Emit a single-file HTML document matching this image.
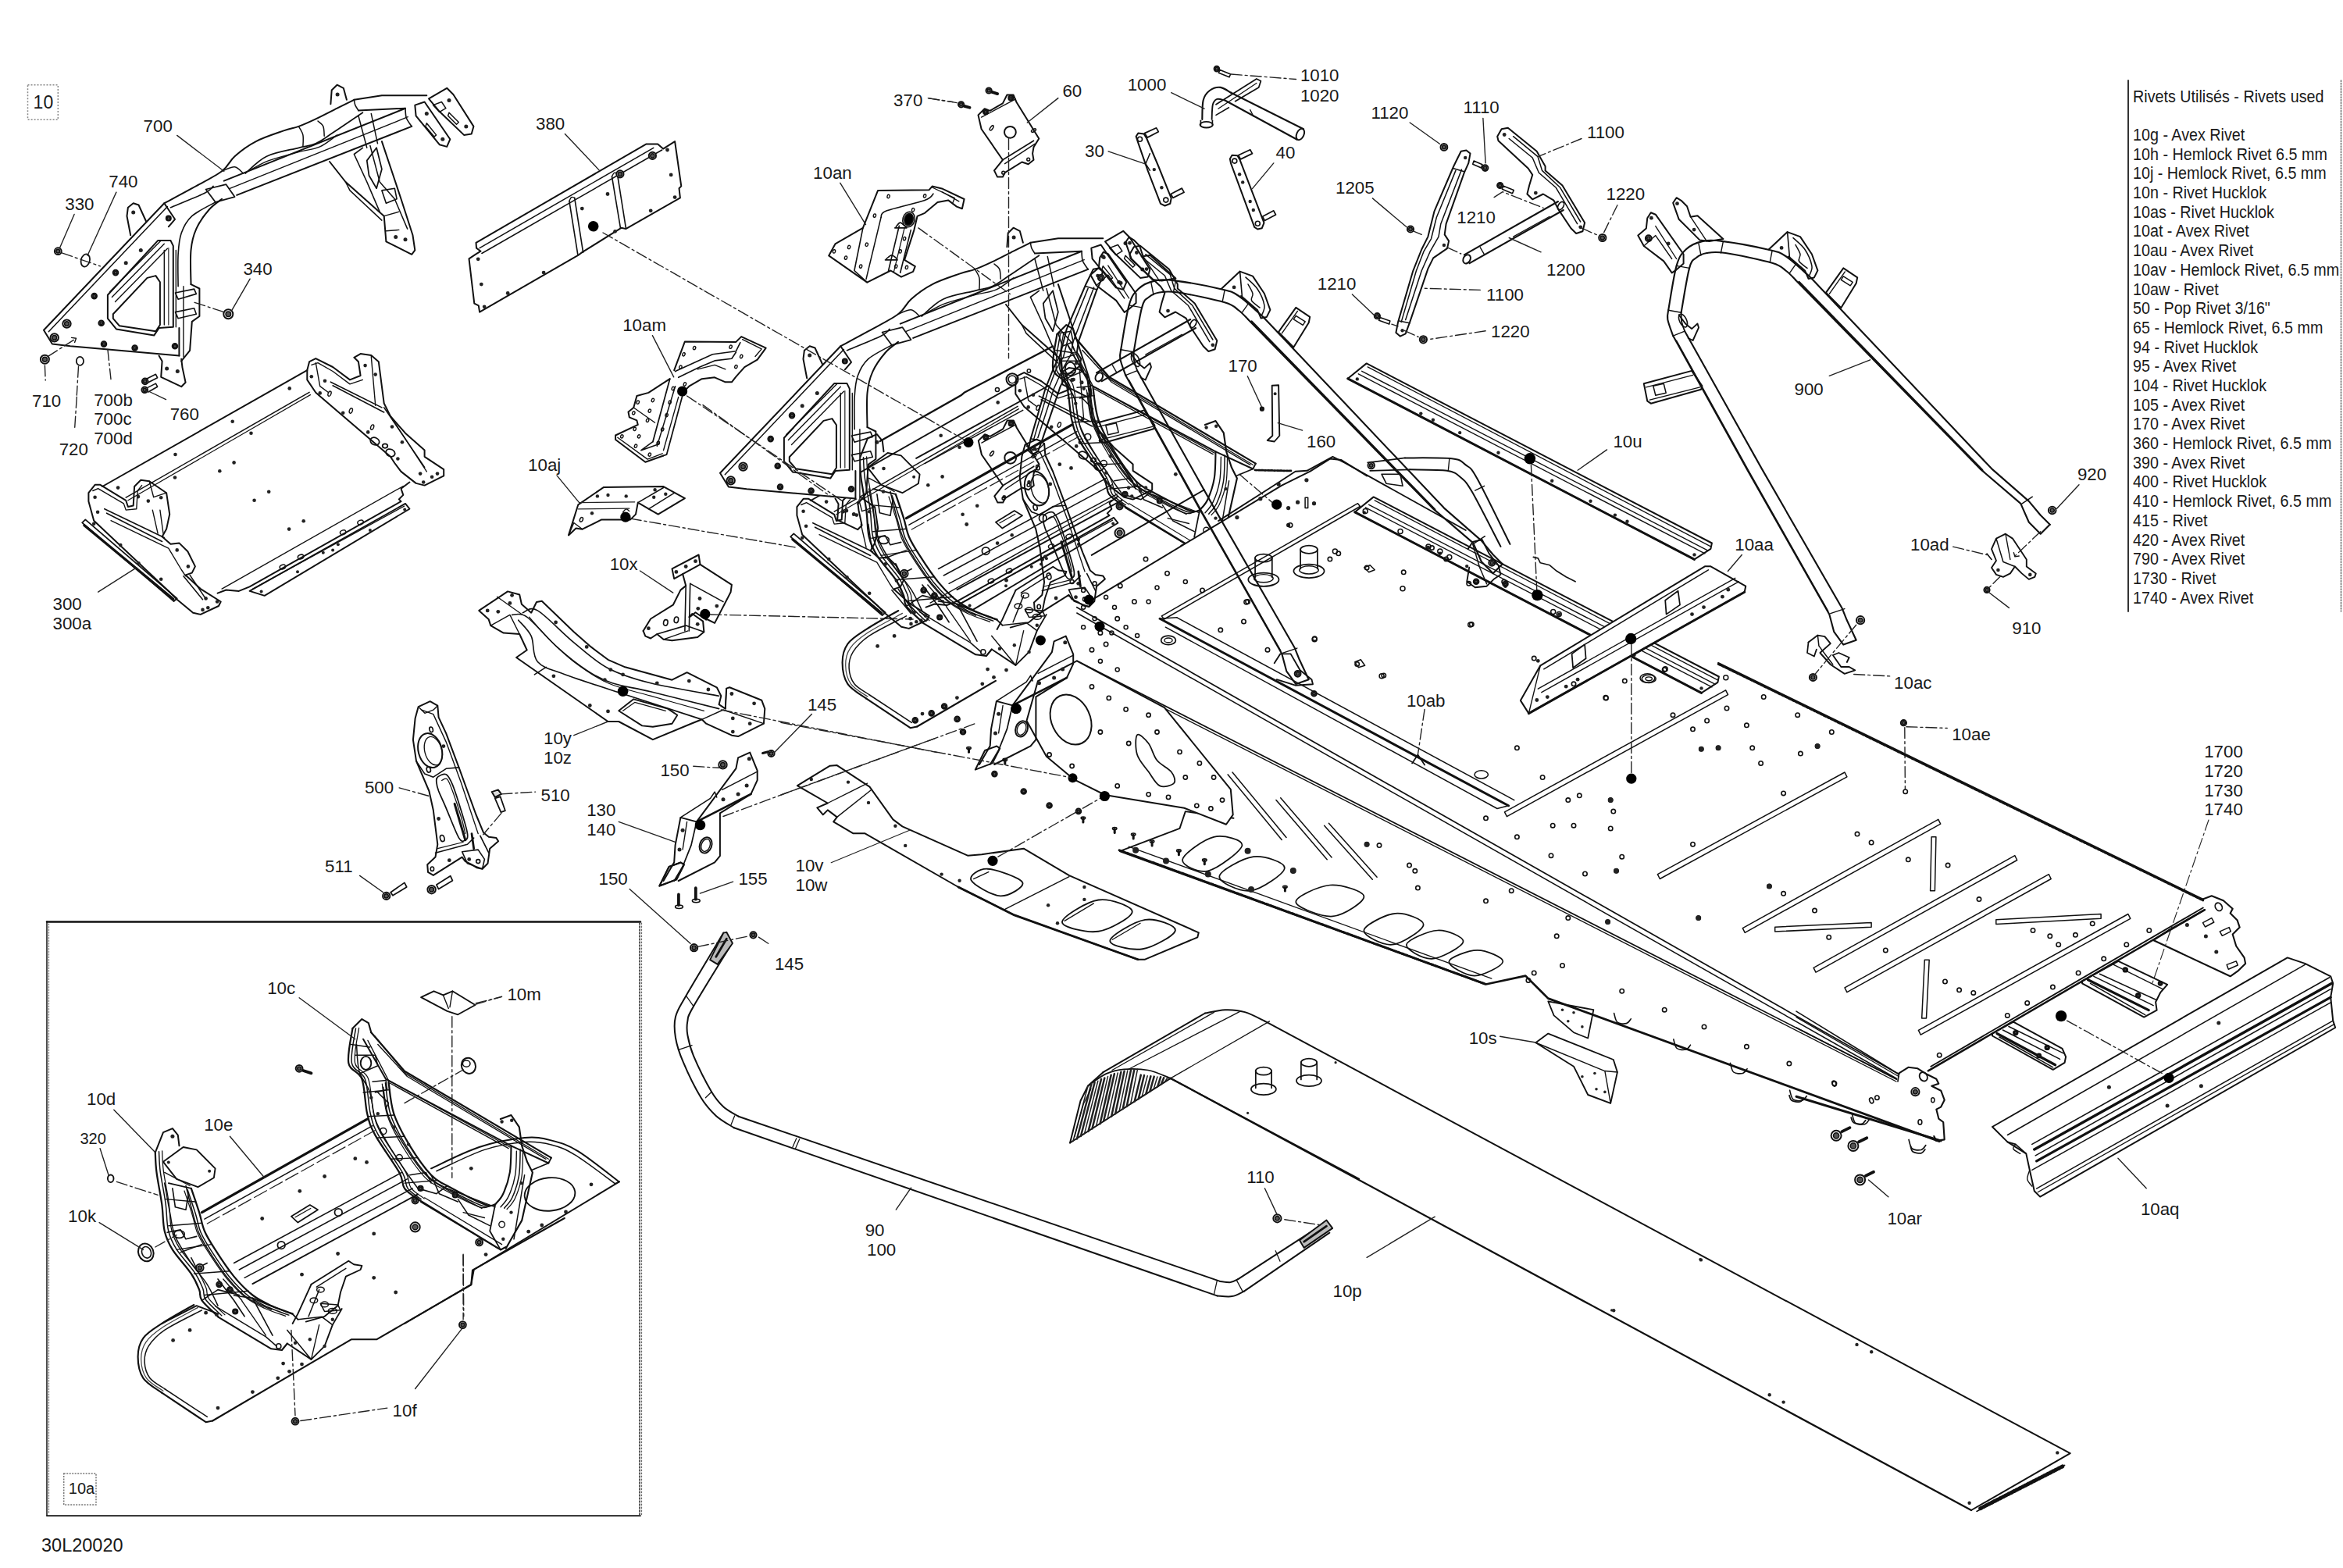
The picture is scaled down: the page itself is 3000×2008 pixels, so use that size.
<!DOCTYPE html>
<html><head><meta charset="utf-8"><title>30L20020</title>
<style>html,body{margin:0;padding:0;background:#fff}svg{display:block}
text{font-family:"Liberation Sans",sans-serif;fill:#1a1a1a}
path,circle,ellipse{stroke-linejoin:round;stroke-linecap:round}</style></head>
<body><svg width="3000" height="2008" viewBox="0 0 3000 2008">
<rect width="3000" height="2008" fill="#fff"/>
<rect x="35.5" y="108.7" width="38.8" height="44.5" fill="none" stroke="#888" stroke-width="1.50" stroke-dasharray="2 2"/>
<path d="M229.4 455.6 L90.1 443.3 L66.9 440.6 L56.0 422.8 L210.3 260.3 L224.0 280.8 L228.1 325.8 L228.1 366.8 L234.9 366.8 L234.9 456.9 Z" fill="#fff" stroke="#fff" stroke-width="0.12"/>
<path d="M229.4 455.6 L90.1 443.3 L66.9 440.6 L56.0 422.8 L210.3 260.3 L224.0 280.8 L215.8 290.3" fill="none" stroke="#111" stroke-width="2.00"/>
<path d="M62.3 424.7 L214.4 264.6" fill="none" stroke="#111" stroke-width="1.50"/>
<path d="M137.9 377.7 L202.1 308.1 L218.5 308.1 L221.8 314.9 L221.8 418.7 L203.5 420.1 L197.2 429.6 L148.9 421.4 L137.9 407.8 Z" fill="none" stroke="#111" stroke-width="2.00"/>
<path d="M144.8 402.3 L188.5 355.9 L199.4 353.1 L204.9 361.3 L204.9 416.0 L199.4 424.2 L153.0 417.3 L144.8 407.8 Z" fill="none" stroke="#111" stroke-width="2.00"/>
<path d="M140.7 373.6 L206.2 308.1" fill="none" stroke="#111" stroke-width="1.38"/>
<path d="M143.4 380.5 L210.3 312.2" fill="none" stroke="#111" stroke-width="1.38"/>
<path d="M147.5 386.5 L214.4 318.2" fill="none" stroke="#111" stroke-width="1.38"/>
<path d="M210.3 320.4 L210.3 416.0" fill="none" stroke="#111" stroke-width="1.38"/>
<path d="M215.8 317.6 L215.8 416.0" fill="none" stroke="#444" stroke-width="1.38"/>
<path d="M225.3 320.4 L225.3 418.7" fill="none" stroke="#111" stroke-width="1.38"/>
<path d="M229.4 420.1 L229.4 455.6" fill="none" stroke="#111" stroke-width="2.00"/>
<path d="M284.1 254.8 C281.3 257.1 273.1 262.1 267.7 268.5 C262.2 274.8 255.2 284.4 251.3 293.1 C247.4 301.7 245.6 308.5 244.5 320.4 C243.3 332.2 244.5 356.8 244.5 364.1" fill="none" stroke="#111" stroke-width="2.00"/>
<path d="M244.5 364.1 L255.4 369.5 L255.4 405.0 L245.8 411.9 L243.1 448.8 L232.2 462.4" fill="none" stroke="#111" stroke-width="2.00"/>
<path d="M275.9 258.9 C270.9 261.9 253.1 270.1 245.8 276.7 C238.6 283.3 235.1 290.3 232.2 298.5 C229.2 306.7 228.8 314.5 228.1 325.8 C227.4 337.2 228.1 360.0 228.1 366.8" fill="none" stroke="#111" stroke-width="1.62"/>
<path d="M234.9 366.8 L234.9 456.9" fill="none" stroke="#111" stroke-width="1.38"/>
<path d="M203.5 455.6 L207.6 462.4 L206.2 482.9 L232.2 495.2 L237.6 489.7 L233.5 470.6 L232.2 459.7" fill="none" stroke="#111" stroke-width="2.00"/>
<circle cx="213.6" cy="472.0" r="2.5" fill="#222"/>
<circle cx="227.3" cy="475.5" r="2.5" fill="#222"/>
<path d="M167.2 301.3 L162.5 276.7 L163.9 265.7 L170.7 260.3 L177.5 262.5 L187.1 283.5" fill="none" stroke="#111" stroke-width="2.00"/>
<circle cx="170.7" cy="272.0" r="2.5" fill="#222"/>
<path d="M224.5 375.0 L248.6 370.1 L251.3 376.4 L228.1 383.2 Z" fill="none" stroke="#111" stroke-width="1.62"/>
<path d="M224.5 399.6 L248.6 394.7 L251.3 402.3 L228.1 407.8 Z" fill="none" stroke="#111" stroke-width="1.62"/>
<circle cx="215.8" cy="279.4" r="3.0" fill="#fff" stroke="#111" stroke-width="2.00"/>
<circle cx="215.8" cy="279.4" r="1.7" fill="#555" stroke="#111" stroke-width="1.50"/>
<circle cx="148.0" cy="349.1" r="3.3" fill="#fff" stroke="#111" stroke-width="2.00"/>
<circle cx="148.0" cy="349.1" r="1.8" fill="#555" stroke="#111" stroke-width="1.50"/>
<circle cx="120.7" cy="379.1" r="3.3" fill="#fff" stroke="#111" stroke-width="2.00"/>
<circle cx="120.7" cy="379.1" r="1.8" fill="#555" stroke="#111" stroke-width="1.50"/>
<circle cx="85.5" cy="414.6" r="5.2" fill="#fff" stroke="#111" stroke-width="2.00"/>
<circle cx="85.5" cy="414.6" r="2.9" fill="#555" stroke="#111" stroke-width="1.50"/>
<circle cx="69.7" cy="432.4" r="5.2" fill="#fff" stroke="#111" stroke-width="2.00"/>
<circle cx="69.7" cy="432.4" r="2.9" fill="#555" stroke="#111" stroke-width="1.50"/>
<circle cx="129.7" cy="413.8" r="3.3" fill="#fff" stroke="#111" stroke-width="2.00"/>
<circle cx="129.7" cy="413.8" r="1.8" fill="#555" stroke="#111" stroke-width="1.50"/>
<circle cx="133.0" cy="440.6" r="3.3" fill="#fff" stroke="#111" stroke-width="2.00"/>
<circle cx="133.0" cy="440.6" r="1.8" fill="#555" stroke="#111" stroke-width="1.50"/>
<circle cx="172.6" cy="445.5" r="3.3" fill="#fff" stroke="#111" stroke-width="2.00"/>
<circle cx="172.6" cy="445.5" r="1.8" fill="#555" stroke="#111" stroke-width="1.50"/>
<circle cx="224.0" cy="443.3" r="3.3" fill="#fff" stroke="#111" stroke-width="2.00"/>
<circle cx="224.0" cy="443.3" r="1.8" fill="#555" stroke="#111" stroke-width="1.50"/>
<circle cx="180.3" cy="320.4" r="2.5" fill="#222"/>
<circle cx="161.2" cy="336.8" r="2.5" fill="#222"/>
<path d="M286.8 231.6 L519.0 138.7" fill="none" stroke="#111" stroke-width="2.00"/>
<path d="M303.2 249.9 L527.2 161.9" fill="none" stroke="#111" stroke-width="2.00"/>
<path d="M293.6 241.7 L522.3 149.7" fill="none" stroke="#111" stroke-width="1.38"/>
<path d="M263.6 242.5 L289.5 236.2 L300.5 252.1 L275.9 258.9 Z" fill="none" stroke="#111" stroke-width="1.75"/>
<path d="M210.3 260.3 C216.2 257.1 233.5 248.0 245.8 241.2 C258.1 234.3 275.0 226.1 284.1 219.3 C293.2 212.5 293.2 206.6 300.5 200.2 C307.7 193.8 317.3 186.5 327.8 181.1 C338.3 175.6 354.2 170.6 363.3 167.4 C372.4 164.2 375.6 164.4 382.4 161.9 C389.2 159.4 396.1 156.3 404.3 152.4 C412.5 148.5 423.4 142.8 431.6 138.7 C439.8 134.6 449.8 129.6 453.4 127.8" fill="none" stroke="#111" stroke-width="2.00"/>
<path d="M218.5 265.7 C225.8 262.6 253.1 251.7 262.2 247.2 C271.3 242.6 271.3 239.9 273.1 238.4" fill="none" stroke="#111" stroke-width="1.62"/>
<path d="M314.1 222.0 C318.7 218.4 330.1 205.6 341.4 200.2 C352.8 194.7 371.9 192.0 382.4 189.3 C392.9 186.5 397.0 187.0 404.3 183.8 C411.5 180.6 416.1 176.7 426.1 170.1 C436.1 163.5 458.0 148.5 464.4 144.2" fill="none" stroke="#111" stroke-width="1.75"/>
<path d="M322.3 216.6 C326.0 214.8 334.2 209.3 344.2 205.6 C354.2 202.0 371.5 197.7 382.4 194.7 C393.3 191.8 401.5 191.5 409.7 187.9 C417.9 184.3 427.9 175.4 431.6 172.9" fill="none" stroke="#111" stroke-width="1.38"/>
<path d="M284.1 219.3 C286.8 218.4 295.9 213.4 300.5 213.8 C305.0 214.3 309.6 220.7 311.4 222.0" fill="none" stroke="#111" stroke-width="1.50"/>
<path d="M382.4 161.9 C383.3 163.8 387.0 168.5 387.9 172.9 C388.8 177.2 387.9 185.4 387.9 187.9" fill="none" stroke="#111" stroke-width="1.50"/>
<path d="M407.0 155.1 C408.1 156.3 412.5 158.8 413.8 161.9 C415.2 165.1 415.0 172.2 415.2 174.2" fill="none" stroke="#111" stroke-width="1.50"/>
<path d="M453.4 127.8 L488.9 122.3 L546.3 122.3" fill="none" stroke="#111" stroke-width="2.00"/>
<path d="M458.9 141.5 L519.0 138.7" fill="none" stroke="#111" stroke-width="2.00"/>
<path d="M453.4 127.8 C453.7 128.9 453.9 132.4 454.8 134.6 C455.7 136.9 458.2 140.3 458.9 141.5" fill="none" stroke="#111" stroke-width="1.50"/>
<path d="M423.4 133.3 L424.7 115.5 L431.6 108.7 L439.8 112.8 L443.9 127.8" fill="none" stroke="#111" stroke-width="2.00"/>
<circle cx="432.1" cy="121.0" r="2.5" fill="#222"/>
<path d="M531.3 134.6 L543.6 130.5 L576.3 178.3 L572.2 187.9 L562.7 185.2 L532.6 148.3 Z" fill="none" stroke="#111" stroke-width="2.00"/>
<path d="M549.0 126.4 L572.2 112.8 L580.4 121.0 L606.4 161.9 L603.7 171.5 L594.1 172.9 L562.7 142.8 Z" fill="none" stroke="#111" stroke-width="2.00"/>
<path d="M554.5 134.6 L565.4 130.5 L570.9 138.7 L562.7 143.4 Z" fill="none" stroke="#111" stroke-width="1.50"/>
<path d="M575.0 144.2 L587.3 156.5 L584.5 159.2 L573.6 148.3 Z" fill="none" stroke="#111" stroke-width="1.50"/>
<path d="M546.3 157.8 L558.6 172.9 L555.9 175.1 L544.9 161.9 Z" fill="none" stroke="#111" stroke-width="1.50"/>
<circle cx="546.3" cy="145.6" r="2.5" fill="#222"/>
<circle cx="566.8" cy="178.3" r="2.5" fill="#222"/>
<circle cx="575.0" cy="128.6" r="2.5" fill="#222"/>
<circle cx="596.8" cy="161.9" r="2.5" fill="#222"/>
<path d="M519.0 138.7 C519.2 140.8 519.0 147.1 520.3 151.0 C521.7 154.9 526.0 160.1 527.2 161.9" fill="none" stroke="#111" stroke-width="1.62"/>
<path d="M422.0 207.0 L442.5 233.0 L491.7 276.7 L494.4 309.4 L527.2 325.8 L531.3 320.4 L528.5 301.3 L513.5 254.8 L502.6 222.0 L488.9 181.1" fill="none" stroke="#111" stroke-width="2.00"/>
<path d="M442.5 233.0 L448.0 243.9 L488.9 282.1" fill="none" stroke="#111" stroke-width="1.50"/>
<path d="M464.4 189.3 L453.4 197.5 L469.8 233.0 L486.2 271.2" fill="none" stroke="#111" stroke-width="1.62"/>
<path d="M469.8 205.6 L482.1 189.3 L488.9 216.6 L482.1 241.2 L472.5 224.8 Z" fill="none" stroke="#111" stroke-width="1.75"/>
<path d="M473.9 186.5 L486.2 233.0 L505.3 254.8 L521.7 293.1" fill="none" stroke="#111" stroke-width="1.50"/>
<path d="M458.9 148.3 L469.8 189.3" fill="none" stroke="#111" stroke-width="1.50"/>
<path d="M475.3 145.6 L483.5 183.8" fill="none" stroke="#111" stroke-width="1.50"/>
<path d="M488.9 243.9 L505.3 241.2 L508.1 254.8 L494.4 260.3 Z" fill="none" stroke="#111" stroke-width="1.62"/>
<circle cx="506.7" cy="303.4" r="2.5" fill="#222"/>
<circle cx="519.0" cy="306.7" r="2.5" fill="#222"/>
<path d="M491.7 276.7 L510.8 271.2" fill="none" stroke="#111" stroke-width="1.38"/>
<path d="M494.4 295.8 L510.8 294.4" fill="none" stroke="#111" stroke-width="1.38"/>
<circle cx="74.3" cy="321.7" r="4.4" fill="#fff" stroke="#111" stroke-width="2.00"/>
<circle cx="74.3" cy="321.7" r="2.4" fill="#555" stroke="#111" stroke-width="1.50"/>
<ellipse cx="109.3" cy="333.5" rx="5.5" ry="8.2" transform="rotate(15.0 109.3 333.5)" fill="none" stroke="#111" stroke-width="1.75"/>
<circle cx="292.3" cy="402.3" r="6.0" fill="#fff" stroke="#111" stroke-width="2.00"/>
<circle cx="292.3" cy="402.3" r="3.3" fill="#555" stroke="#111" stroke-width="1.50"/>
<circle cx="57.4" cy="460.2" r="5.5" fill="#fff" stroke="#111" stroke-width="2.00"/>
<circle cx="57.4" cy="460.2" r="3.0" fill="#555" stroke="#111" stroke-width="1.50"/>
<ellipse cx="102.4" cy="462.4" rx="4.6" ry="5.5" transform="rotate(0.0 102.4 462.4)" fill="none" stroke="#111" stroke-width="1.75"/>
<path d="M91.5 432.4 L97.5 433.2 L95.6 438.4" fill="none" stroke="#111" stroke-width="1.38"/>
<circle cx="185.7" cy="488.4" r="3.8" fill="#fff" stroke="#111" stroke-width="2.00"/>
<circle cx="185.7" cy="488.4" r="2.1" fill="#555" stroke="#111" stroke-width="1.50"/>
<circle cx="185.2" cy="499.3" r="3.8" fill="#fff" stroke="#111" stroke-width="2.00"/>
<circle cx="185.2" cy="499.3" r="2.1" fill="#555" stroke="#111" stroke-width="1.50"/>
<path d="M188.5 484.8 L199.4 479.3 L201.6 483.7 L189.8 489.7" fill="none" stroke="#111" stroke-width="1.62"/>
<path d="M188.5 496.6 L199.4 491.1 L201.6 495.2 L189.8 502.0" fill="none" stroke="#111" stroke-width="1.62"/>
<path d="M131.1 623.0 L393.3 474.1" fill="none" stroke="#111" stroke-width="2.00"/>
<path d="M161.2 637.2 L396.1 502.3" fill="none" stroke="#111" stroke-width="1.50"/>
<path d="M163.9 640.8 L397.4 505.6" fill="none" stroke="#111" stroke-width="1.25"/>
<path d="M278.6 759.6 L289.5 755.5 L305.9 756.9 L319.6 751.4 L513.5 642.1 L510.8 639.4 L516.3 633.9 L513.5 625.7 L524.4 617.5" fill="none" stroke="#111" stroke-width="2.00"/>
<path d="M284.1 754.1 L516.3 622.5" fill="none" stroke="#111" stroke-width="1.38"/>
<path d="M319.6 756.9 L519.0 644.9 L524.4 651.7 L338.7 762.9 Z" fill="none" stroke="#111" stroke-width="1.88"/>
<path d="M323.7 754.1 L517.6 648.1" fill="none" stroke="#111" stroke-width="1.25"/>
<path d="M113.4 631.2 L121.6 620.8 L128.4 620.8 L161.2 640.8 L163.9 649.0 L170.7 647.6 L172.1 623.0 L180.3 614.8 L191.2 616.2 L213.1 631.2 L217.2 658.5 L213.1 677.6 L207.6 687.2 L218.5 696.8 L229.4 695.4 L240.4 706.3 L249.9 725.4 L245.8 733.6 L237.6 736.4 L256.8 754.1 L282.7 770.5 L280.0 776.0 L256.8 786.9 L247.2 784.7 L226.7 767.8 L218.5 759.6 L120.2 666.7 L113.4 642.1 Z" fill="none" stroke="#111" stroke-width="2.00"/>
<path d="M118.8 628.5 L125.6 625.7 L158.4 644.9 L161.2 653.1 L174.8 651.7 L176.2 628.5 L181.6 621.6" fill="none" stroke="#111" stroke-width="1.38"/>
<path d="M133.8 651.7 L210.3 688.6" fill="none" stroke="#111" stroke-width="1.62"/>
<path d="M136.6 657.2 L207.6 693.5" fill="none" stroke="#111" stroke-width="1.62"/>
<path d="M142.0 666.7 L215.8 702.2 L232.2 729.5 L237.6 737.7" fill="none" stroke="#111" stroke-width="1.38"/>
<path d="M195.3 653.1 L202.1 683.1" fill="none" stroke="#111" stroke-width="1.38"/>
<path d="M204.9 653.1 L209.0 683.1" fill="none" stroke="#111" stroke-width="1.38"/>
<path d="M191.2 616.2 L196.7 636.7 L213.1 631.2" fill="none" stroke="#111" stroke-width="1.38"/>
<path d="M234.9 737.7 L259.5 767.8" fill="none" stroke="#111" stroke-width="1.50"/>
<path d="M243.1 736.4 L262.2 765.0" fill="none" stroke="#111" stroke-width="1.50"/>
<path d="M105.2 669.4 L109.3 665.3 L226.7 766.4 L222.6 770.0 Z" fill="none" stroke="#111" stroke-width="1.75"/>
<path d="M107.9 672.7 L221.8 767.2" fill="none" stroke="#111" stroke-width="3.25"/>
<circle cx="121.6" cy="636.7" r="2.3" fill="#222"/>
<circle cx="125.1" cy="655.8" r="2.3" fill="#222"/>
<circle cx="177.0" cy="636.1" r="2.3" fill="#222"/>
<circle cx="189.8" cy="641.6" r="2.3" fill="#222"/>
<circle cx="206.2" cy="637.2" r="2.3" fill="#222"/>
<circle cx="226.7" cy="704.4" r="2.3" fill="#222"/>
<circle cx="240.9" cy="725.4" r="2.3" fill="#222"/>
<circle cx="263.6" cy="766.4" r="2.3" fill="#222"/>
<circle cx="278.1" cy="770.5" r="2.3" fill="#222"/>
<circle cx="259.5" cy="780.9" r="2.3" fill="#222"/>
<circle cx="266.3" cy="778.2" r="2.3" fill="#222"/>
<circle cx="120.2" cy="670.8" r="2.3" fill="#222"/>
<circle cx="154.3" cy="698.1" r="2.3" fill="#222"/>
<circle cx="177.5" cy="721.3" r="2.3" fill="#222"/>
<circle cx="206.2" cy="741.8" r="2.3" fill="#222"/>
<path d="M393.3 474.1 L396.1 463.2 L404.3 459.1 L426.1 470.0 L448.0 486.4 L461.6 481.0 L458.9 463.2 L453.4 457.8 L461.6 453.1 L475.3 455.0 L484.8 463.2 L491.7 516.5 L499.9 532.9 L519.0 554.7 L543.6 576.6 L543.6 584.8 L568.2 601.2 L568.2 609.4 L543.6 621.6 L532.6 618.9 L513.5 603.9 L505.3 593.0 L499.9 584.8 L404.3 502.8 L393.3 486.4 Z" fill="none" stroke="#111" stroke-width="2.00"/>
<path d="M398.8 467.3 L407.0 464.6 L426.1 475.5 L448.0 491.9 L464.4 486.4" fill="none" stroke="#111" stroke-width="1.38"/>
<path d="M423.4 489.2 L488.9 521.9" fill="none" stroke="#111" stroke-width="1.62"/>
<path d="M426.1 493.8 L491.7 528.0" fill="none" stroke="#111" stroke-width="1.62"/>
<path d="M491.7 521.9 L543.6 598.4" fill="none" stroke="#111" stroke-width="1.62"/>
<path d="M499.9 532.9 L546.3 603.9" fill="none" stroke="#111" stroke-width="1.38"/>
<path d="M404.3 464.6 L409.7 494.6 L420.7 502.8" fill="none" stroke="#111" stroke-width="1.38"/>
<path d="M475.3 456.4 L480.7 519.2" fill="none" stroke="#111" stroke-width="1.38"/>
<ellipse cx="479.9" cy="565.1" rx="6.0" ry="4.6" transform="rotate(25.0 479.9 565.1)" fill="none" stroke="#111" stroke-width="1.75"/>
<ellipse cx="499.9" cy="579.9" rx="6.0" ry="4.6" transform="rotate(25.0 499.9 579.9)" fill="none" stroke="#111" stroke-width="1.75"/>
<ellipse cx="493.0" cy="571.1" rx="3.3" ry="2.7" transform="rotate(0.0 493.0 571.1)" fill="none" stroke="#111" stroke-width="1.75"/>
<circle cx="398.8" cy="482.3" r="2.3" fill="#222"/>
<circle cx="409.7" cy="503.4" r="2.3" fill="#222"/>
<circle cx="416.0" cy="487.8" r="2.3" fill="#222"/>
<circle cx="439.2" cy="528.8" r="2.3" fill="#222"/>
<circle cx="467.6" cy="468.1" r="2.3" fill="#222"/>
<circle cx="480.7" cy="479.6" r="2.3" fill="#222"/>
<circle cx="471.2" cy="553.4" r="2.3" fill="#222"/>
<circle cx="502.0" cy="546.5" r="2.3" fill="#222"/>
<circle cx="514.9" cy="566.2" r="2.3" fill="#222"/>
<circle cx="509.4" cy="587.5" r="2.3" fill="#222"/>
<circle cx="538.1" cy="606.6" r="2.3" fill="#222"/>
<circle cx="553.1" cy="610.7" r="2.3" fill="#222"/>
<circle cx="560.0" cy="606.6" r="2.3" fill="#222"/>
<circle cx="542.2" cy="617.5" r="2.3" fill="#222"/>
<ellipse cx="422.0" cy="504.2" rx="1.9" ry="3.3" transform="rotate(20.0 422.0 504.2)" fill="none" stroke="#111" stroke-width="1.38"/>
<ellipse cx="449.3" cy="526.0" rx="1.9" ry="3.3" transform="rotate(20.0 449.3 526.0)" fill="none" stroke="#111" stroke-width="1.38"/>
<ellipse cx="476.6" cy="547.1" rx="1.9" ry="3.3" transform="rotate(20.0 476.6 547.1)" fill="none" stroke="#111" stroke-width="1.38"/>
<circle cx="370.7" cy="497.4" r="2.3" fill="#222"/>
<circle cx="297.7" cy="539.7" r="2.3" fill="#222"/>
<circle cx="321.5" cy="554.7" r="2.3" fill="#222"/>
<circle cx="224.5" cy="582.0" r="2.3" fill="#222"/>
<circle cx="299.6" cy="592.4" r="2.3" fill="#222"/>
<circle cx="281.3" cy="603.3" r="2.3" fill="#222"/>
<circle cx="224.0" cy="611.5" r="2.3" fill="#222"/>
<circle cx="151.1" cy="624.6" r="2.3" fill="#222"/>
<circle cx="344.2" cy="629.8" r="2.3" fill="#222"/>
<circle cx="325.6" cy="640.8" r="2.3" fill="#222"/>
<circle cx="388.7" cy="667.3" r="2.3" fill="#222"/>
<circle cx="370.1" cy="677.6" r="2.3" fill="#222"/>
<ellipse cx="461.6" cy="668.9" rx="3.8" ry="2.7" transform="rotate(-20.0 461.6 668.9)" fill="none" stroke="#111" stroke-width="1.50"/>
<ellipse cx="439.2" cy="681.7" rx="3.8" ry="2.7" transform="rotate(-20.0 439.2 681.7)" fill="none" stroke="#111" stroke-width="1.50"/>
<ellipse cx="385.1" cy="713.1" rx="3.8" ry="2.7" transform="rotate(-20.0 385.1 713.1)" fill="none" stroke="#111" stroke-width="1.50"/>
<ellipse cx="361.9" cy="726.0" rx="3.8" ry="2.7" transform="rotate(-20.0 361.9 726.0)" fill="none" stroke="#111" stroke-width="1.50"/>
<circle cx="518.2" cy="652.5" r="2.0" fill="#222"/>
<circle cx="473.9" cy="679.0" r="2.0" fill="#222"/>
<circle cx="432.9" cy="697.3" r="2.0" fill="#222"/>
<circle cx="426.1" cy="704.4" r="2.0" fill="#222"/>
<circle cx="413.8" cy="707.7" r="2.0" fill="#222"/>
<circle cx="381.0" cy="732.3" r="2.0" fill="#222"/>
<circle cx="334.6" cy="757.4" r="2.0" fill="#222"/>
<path d="M600.5 331.3 L608.7 325.8 L615.5 321.7 L610.0 317.6 L609.5 310.8 L827.2 184.6 L842.2 184.6 L849.1 190.6 L864.1 181.1 L872.3 238.4 L869.5 241.2 L870.9 253.4 L801.3 293.1 L795.8 291.7 L745.3 323.1 L739.8 327.2 L614.1 399.6 L612.8 391.4 L607.3 388.7 Z" fill="none" stroke="#111" stroke-width="2.00"/>
<path d="M614.1 317.6 L836.8 189.3" fill="none" stroke="#111" stroke-width="1.50"/>
<path d="M616.9 324.5 L847.7 192.0" fill="none" stroke="#111" stroke-width="1.50"/>
<path d="M728.9 257.5 L739.8 325.8" fill="none" stroke="#111" stroke-width="1.62"/>
<path d="M735.7 253.4 L746.6 323.1" fill="none" stroke="#111" stroke-width="1.62"/>
<path d="M783.5 226.1 L794.4 291.7" fill="none" stroke="#111" stroke-width="1.62"/>
<path d="M790.3 222.0 L801.3 291.7" fill="none" stroke="#111" stroke-width="1.62"/>
<path d="M728.9 257.5 C729.3 256.7 730.5 253.3 731.6 252.6 C732.7 251.9 735.0 253.3 735.7 253.4" fill="none" stroke="#111" stroke-width="1.38"/>
<path d="M783.5 226.1 C784.0 225.4 785.1 222.2 786.2 221.5 C787.4 220.8 789.6 221.9 790.3 222.0" fill="none" stroke="#111" stroke-width="1.38"/>
<circle cx="835.4" cy="199.4" r="4.6" fill="#fff" stroke="#111" stroke-width="2.00"/>
<circle cx="835.4" cy="199.4" r="2.6" fill="#555" stroke="#111" stroke-width="1.50"/>
<circle cx="793.9" cy="222.9" r="4.6" fill="#fff" stroke="#111" stroke-width="2.00"/>
<circle cx="793.9" cy="222.9" r="2.6" fill="#555" stroke="#111" stroke-width="1.50"/>
<circle cx="854.5" cy="192.0" r="2.4" fill="#222"/>
<circle cx="859.2" cy="223.9" r="2.4" fill="#222"/>
<circle cx="864.1" cy="252.6" r="2.4" fill="#222"/>
<circle cx="833.2" cy="269.8" r="2.4" fill="#222"/>
<circle cx="778.0" cy="248.5" r="2.4" fill="#222"/>
<circle cx="745.3" cy="267.1" r="2.4" fill="#222"/>
<circle cx="787.6" cy="296.3" r="2.4" fill="#222"/>
<circle cx="612.2" cy="331.8" r="2.4" fill="#222"/>
<circle cx="696.1" cy="349.1" r="2.4" fill="#222"/>
<circle cx="616.3" cy="364.1" r="2.4" fill="#222"/>
<circle cx="650.2" cy="375.5" r="2.4" fill="#222"/>
<circle cx="620.2" cy="392.8" r="2.4" fill="#222"/>
<path d="M863.2 474.2 L876.9 437.4 L942.4 437.9 L949.2 431.1 L980.7 445.6 L969.7 460.6 L953.3 470.1 L942.4 482.4 L936.9 489.3 L928.8 489.3 L915.1 483.3 L898.7 485.2 L882.3 494.7 L874.1 502.9" fill="none" stroke="#111" stroke-width="2.00"/>
<path d="M864.6 475.6 L912.4 453.8 L942.4 449.7 L947.9 438.7" fill="none" stroke="#111" stroke-width="1.62"/>
<path d="M868.7 483.3 L896.0 470.1 L915.1 461.9 L936.9 459.2 L942.4 451.0" fill="none" stroke="#111" stroke-width="1.62"/>
<path d="M893.2 472.9 L915.1 467.4 L928.8 472.9" fill="none" stroke="#111" stroke-width="1.38"/>
<path d="M950.6 434.6 L975.2 446.9 L967.0 456.5" fill="none" stroke="#111" stroke-width="1.38"/>
<path d="M857.7 485.2 L835.9 565.7" fill="none" stroke="#111" stroke-width="1.75"/>
<path d="M864.6 494.7 L841.3 571.2" fill="none" stroke="#111" stroke-width="1.50"/>
<path d="M874.1 505.6 L853.6 582.1 L849.5 583.5" fill="none" stroke="#111" stroke-width="1.75"/>
<path d="M868.7 508.4 L849.5 576.7" fill="none" stroke="#111" stroke-width="1.38"/>
<path d="M857.7 485.2 L830.4 502.9 L815.4 507.0 L811.3 522.0 L804.5 527.5 L805.8 534.3 L815.4 538.4 L816.8 543.9 L788.1 557.5 L788.1 563.0 L826.3 591.7 L849.5 583.5" fill="none" stroke="#111" stroke-width="2.00"/>
<path d="M790.8 560.3 L829.1 588.1 L848.2 580.8" fill="none" stroke="#111" stroke-width="1.38"/>
<path d="M811.3 522.0 L838.6 541.2" fill="none" stroke="#111" stroke-width="1.38"/>
<path d="M835.9 565.7 L820.9 576.7 L844.1 568.5" fill="none" stroke="#111" stroke-width="1.62"/>
<ellipse cx="889.1" cy="445.6" rx="1.6" ry="2.2" transform="rotate(20.0 889.1 445.6)" fill="none" stroke="#111" stroke-width="1.38"/>
<ellipse cx="875.5" cy="453.8" rx="1.6" ry="2.2" transform="rotate(20.0 875.5 453.8)" fill="none" stroke="#111" stroke-width="1.38"/>
<ellipse cx="871.4" cy="470.1" rx="1.6" ry="2.2" transform="rotate(20.0 871.4 470.1)" fill="none" stroke="#111" stroke-width="1.38"/>
<ellipse cx="935.6" cy="444.2" rx="1.6" ry="2.2" transform="rotate(20.0 935.6 444.2)" fill="none" stroke="#111" stroke-width="1.38"/>
<ellipse cx="949.2" cy="456.5" rx="1.6" ry="2.2" transform="rotate(20.0 949.2 456.5)" fill="none" stroke="#111" stroke-width="1.38"/>
<ellipse cx="942.4" cy="469.6" rx="1.6" ry="2.2" transform="rotate(20.0 942.4 469.6)" fill="none" stroke="#111" stroke-width="1.38"/>
<ellipse cx="876.9" cy="492.0" rx="1.6" ry="2.2" transform="rotate(20.0 876.9 492.0)" fill="none" stroke="#111" stroke-width="1.38"/>
<ellipse cx="861.8" cy="497.5" rx="1.6" ry="2.2" transform="rotate(20.0 861.8 497.5)" fill="none" stroke="#111" stroke-width="1.38"/>
<ellipse cx="857.7" cy="515.2" rx="1.6" ry="2.2" transform="rotate(20.0 857.7 515.2)" fill="none" stroke="#111" stroke-width="1.38"/>
<ellipse cx="853.6" cy="531.6" rx="1.6" ry="2.2" transform="rotate(20.0 853.6 531.6)" fill="none" stroke="#111" stroke-width="1.38"/>
<ellipse cx="848.2" cy="549.9" rx="1.6" ry="2.2" transform="rotate(20.0 848.2 549.9)" fill="none" stroke="#111" stroke-width="1.38"/>
<ellipse cx="842.7" cy="567.1" rx="1.6" ry="2.2" transform="rotate(20.0 842.7 567.1)" fill="none" stroke="#111" stroke-width="1.38"/>
<ellipse cx="835.9" cy="512.5" rx="1.6" ry="2.2" transform="rotate(20.0 835.9 512.5)" fill="none" stroke="#111" stroke-width="1.38"/>
<ellipse cx="816.8" cy="515.2" rx="1.6" ry="2.2" transform="rotate(20.0 816.8 515.2)" fill="none" stroke="#111" stroke-width="1.38"/>
<ellipse cx="831.8" cy="526.1" rx="1.6" ry="2.2" transform="rotate(20.0 831.8 526.1)" fill="none" stroke="#111" stroke-width="1.38"/>
<ellipse cx="811.3" cy="528.9" rx="1.6" ry="2.2" transform="rotate(20.0 811.3 528.9)" fill="none" stroke="#111" stroke-width="1.38"/>
<ellipse cx="829.1" cy="538.4" rx="1.6" ry="2.2" transform="rotate(20.0 829.1 538.4)" fill="none" stroke="#111" stroke-width="1.38"/>
<ellipse cx="812.7" cy="549.4" rx="1.6" ry="2.2" transform="rotate(20.0 812.7 549.4)" fill="none" stroke="#111" stroke-width="1.38"/>
<ellipse cx="818.1" cy="558.9" rx="1.6" ry="2.2" transform="rotate(20.0 818.1 558.9)" fill="none" stroke="#111" stroke-width="1.38"/>
<ellipse cx="796.3" cy="558.9" rx="1.6" ry="2.2" transform="rotate(20.0 796.3 558.9)" fill="none" stroke="#111" stroke-width="1.38"/>
<ellipse cx="814.0" cy="571.2" rx="1.6" ry="2.2" transform="rotate(20.0 814.0 571.2)" fill="none" stroke="#111" stroke-width="1.38"/>
<ellipse cx="831.8" cy="582.1" rx="1.6" ry="2.2" transform="rotate(20.0 831.8 582.1)" fill="none" stroke="#111" stroke-width="1.38"/>
<path d="M728.0 685.4 L740.3 646.3 L773.1 623.9 L849.5 623.1 L876.9 638.1 L842.7 658.6 L833.1 653.1 L816.8 643.6 L814.0 658.6 L807.2 665.4 L770.3 665.4 L745.7 677.7 L737.5 676.4 Z" fill="none" stroke="#111" stroke-width="2.00"/>
<path d="M816.8 643.6 L849.5 624.5" fill="none" stroke="#111" stroke-width="1.50"/>
<path d="M830.4 651.8 L863.2 631.3" fill="none" stroke="#111" stroke-width="1.50"/>
<path d="M728.0 685.4 L734.8 669.5 L745.7 677.7" fill="none" stroke="#111" stroke-width="1.38"/>
<path d="M797.6 655.9 C798.3 655.2 800.4 652.0 801.7 651.8 C803.1 651.6 805.2 654.1 805.8 654.5" fill="none" stroke="#111" stroke-width="1.38"/>
<ellipse cx="744.4" cy="665.4" rx="1.9" ry="3.0" transform="rotate(20.0 744.4 665.4)" fill="none" stroke="#111" stroke-width="1.50"/>
<circle cx="758.0" cy="657.2" r="2.2" fill="#222"/>
<circle cx="764.9" cy="635.4" r="2.2" fill="#222"/>
<circle cx="778.5" cy="634.0" r="2.2" fill="#222"/>
<circle cx="801.7" cy="635.4" r="2.2" fill="#222"/>
<circle cx="838.6" cy="627.2" r="2.2" fill="#222"/>
<circle cx="837.2" cy="636.8" r="2.2" fill="#222"/>
<circle cx="852.3" cy="632.7" r="2.2" fill="#222"/>
<path d="M860.5 728.3 L894.6 710.5 L896.5 722.8 L863.2 741.1 Z" fill="none" stroke="#111" stroke-width="2.00"/>
<path d="M896.5 722.8 L936.9 748.8 L935.6 758.3 L915.1 797.9 L904.2 792.5" fill="none" stroke="#111" stroke-width="2.00"/>
<path d="M878.2 750.1 L876.9 808.0" fill="none" stroke="#111" stroke-width="1.62"/>
<path d="M883.7 747.4 L882.3 808.0" fill="none" stroke="#111" stroke-width="1.62"/>
<path d="M883.7 747.4 L926.0 770.6" fill="none" stroke="#111" stroke-width="1.50"/>
<path d="M874.1 735.1 L878.2 750.1 L871.4 755.6 L861.8 774.7 L833.1 792.5 L823.6 808.0" fill="none" stroke="#111" stroke-width="2.00"/>
<circle cx="865.9" cy="732.4" r="2.4" fill="#222"/>
<circle cx="878.2" cy="725.5" r="2.4" fill="#222"/>
<circle cx="890.5" cy="718.7" r="2.4" fill="#222"/>
<circle cx="896.0" cy="766.5" r="2.4" fill="#222"/>
<circle cx="893.8" cy="779.3" r="2.4" fill="#222"/>
<circle cx="917.8" cy="776.1" r="2.4" fill="#222"/>
<ellipse cx="852.3" cy="797.4" rx="2.7" ry="3.8" transform="rotate(10.0 852.3 797.4)" fill="none" stroke="#111" stroke-width="1.62"/>
<ellipse cx="865.9" cy="793.8" rx="2.7" ry="3.8" transform="rotate(10.0 865.9 793.8)" fill="none" stroke="#111" stroke-width="1.62"/>
<circle cx="830.4" cy="804.7" r="2.4" fill="#222"/>
<circle cx="893.2" cy="799.3" r="2.4" fill="#222"/>
<path d="M883.7 789.7 L890.5 784.3 L904.2 793.8" fill="none" stroke="#111" stroke-width="2.00"/>
<path d="M823.6 807.9 L826.3 814.7 L833.1 817.5 L841.3 812.0 L849.5 818.8 L860.5 820.2 L893.2 816.1 L901.4 809.3 L900.1 795.6 L886.4 786.0 L882.3 790.1" fill="none" stroke="#111" stroke-width="2.00"/>
<path d="M841.3 812.0 L878.2 801.1 L901.4 809.3" fill="none" stroke="#111" stroke-width="1.62"/>
<path d="M849.5 818.8 L881.0 807.9" fill="none" stroke="#111" stroke-width="1.38"/>
<path d="M613.3 781.9 L650.1 757.4 L665.2 761.5 L667.9 773.8 L680.2 784.7 L687.0 771.0 L693.8 769.7 L734.8 809.3 L756.7 828.4 L778.5 844.8 L800.4 854.3 L860.5 870.7 L879.6 861.2 L917.8 880.3 L923.3 891.2 L920.6 902.1 L928.8 907.6 L930.1 881.6 L934.2 880.3 L975.2 896.7 L979.3 907.6 L977.9 926.7 L945.1 943.1 L936.9 941.7 L904.2 926.7 L898.7 921.3 L885.0 926.7 L835.9 947.2 L792.2 924.0 L778.5 924.0 L661.1 842.0 L674.7 832.5 L665.2 812.0 L644.7 810.6 L628.3 801.1 L625.6 792.9 Z" fill="none" stroke="#111" stroke-width="2.00"/>
<path d="M655.6 787.4 C658.8 787.9 665.2 783.3 674.7 790.1 C684.3 797.0 700.2 817.0 713.0 828.4 C725.7 839.8 739.4 850.7 751.2 858.4 C763.0 866.2 770.3 870.3 784.0 874.8 C797.6 879.4 810.4 880.3 833.1 885.7 C855.9 891.2 906.0 904.0 920.6 907.6" fill="none" stroke="#111" stroke-width="1.62"/>
<path d="M669.3 784.7 C672.4 784.2 677.5 775.6 688.4 781.9 C699.3 788.3 719.8 810.6 734.8 822.9 C749.8 835.2 762.1 847.0 778.5 855.7 C794.9 864.3 809.5 868.9 833.1 874.8 C856.8 880.7 906.0 888.5 920.6 891.2" fill="none" stroke="#111" stroke-width="1.62"/>
<path d="M663.8 794.2 C666.5 797.7 676.1 805.8 680.2 814.7 C684.3 823.6 681.1 839.3 688.4 847.5 C695.7 855.7 705.7 857.1 723.9 863.9 C742.1 870.7 785.3 884.4 797.6 888.5" fill="none" stroke="#111" stroke-width="1.62"/>
<path d="M677.5 790.1 C681.6 794.7 692.5 807.9 702.0 817.5 C711.6 827.0 722.1 837.9 734.8 847.5 C747.6 857.1 762.1 867.5 778.5 874.8 C794.9 882.1 812.7 885.3 833.1 891.2 C853.6 897.1 890.1 907.1 901.4 910.3" fill="none" stroke="#111" stroke-width="1.25"/>
<path d="M684.3 863.9 L699.3 854.3" fill="none" stroke="#111" stroke-width="1.38"/>
<path d="M628.3 801.1 L652.9 787.4 L665.2 812.0" fill="none" stroke="#111" stroke-width="1.38"/>
<path d="M636.5 764.2 L669.3 787.4" fill="none" stroke="#111" stroke-width="1.25"/>
<path d="M797.6 888.5 L898.7 921.3" fill="none" stroke="#111" stroke-width="1.75"/>
<path d="M898.7 921.3 L926.0 909.0 L977.9 926.7" fill="none" stroke="#111" stroke-width="1.38"/>
<path d="M930.1 881.6 L928.8 907.6" fill="none" stroke="#111" stroke-width="1.38"/>
<path d="M792.2 910.3 L811.3 895.3 L855.0 907.6 L867.3 915.8 L860.5 926.7 L835.9 930.8 L822.2 929.4 Z" fill="none" stroke="#111" stroke-width="1.88"/>
<path d="M797.6 910.3 L812.7 899.4 L852.3 910.3" fill="none" stroke="#111" stroke-width="1.25"/>
<circle cx="624.2" cy="781.9" r="2.4" fill="#222"/>
<circle cx="637.8" cy="783.3" r="2.4" fill="#222"/>
<circle cx="652.9" cy="772.4" r="2.4" fill="#222"/>
<circle cx="655.6" cy="762.3" r="2.4" fill="#222"/>
<circle cx="711.6" cy="797.0" r="2.4" fill="#222"/>
<circle cx="708.9" cy="865.8" r="2.4" fill="#222"/>
<circle cx="751.2" cy="828.4" r="2.4" fill="#222"/>
<circle cx="781.8" cy="857.6" r="2.4" fill="#222"/>
<circle cx="797.6" cy="863.9" r="2.4" fill="#222"/>
<circle cx="774.4" cy="870.7" r="2.4" fill="#222"/>
<circle cx="841.3" cy="874.8" r="2.4" fill="#222"/>
<circle cx="882.3" cy="872.1" r="2.4" fill="#222"/>
<circle cx="906.9" cy="883.0" r="2.4" fill="#222"/>
<circle cx="936.9" cy="888.5" r="2.4" fill="#222"/>
<circle cx="965.6" cy="900.8" r="2.4" fill="#222"/>
<circle cx="938.3" cy="919.9" r="2.4" fill="#222"/>
<circle cx="960.2" cy="926.7" r="2.4" fill="#222"/>
<circle cx="938.3" cy="937.1" r="2.4" fill="#222"/>
<circle cx="755.3" cy="903.5" r="2.4" fill="#222"/>
<circle cx="778.5" cy="910.9" r="2.4" fill="#222"/>
<circle cx="987.5" cy="965.0" r="4.1" fill="#fff" stroke="#111" stroke-width="2.00"/>
<circle cx="987.5" cy="965.0" r="2.3" fill="#555" stroke="#111" stroke-width="1.50"/>
<path d="M976.6 964.4 L983.4 962.8" fill="none" stroke="#111" stroke-width="3.12"/>
<circle cx="925.5" cy="979.4" r="5.2" fill="#fff" stroke="#111" stroke-width="2.00"/>
<circle cx="925.5" cy="979.4" r="2.9" fill="#555" stroke="#111" stroke-width="1.50"/>
<path d="M629.7 1014.1 L637.8 1011.4 L641.9 1016.9 L633.8 1021.0 Z" fill="#ddd" stroke="#111" stroke-width="2.00"/>
<path d="M633.8 1022.3 L640.6 1020.1 L646.9 1038.2 L641.4 1040.1 Z" fill="none" stroke="#111" stroke-width="1.75"/>
<path d="M849.5 1128.0 L863.2 1104.3 L864.6 1082.4 L871.4 1046.9 L891.9 1052.4 L942.4 984.1 L945.1 970.4 L960.2 963.6 L969.7 986.8 L969.7 999.1 L961.5 1016.9 L921.9 1041.4 L921.9 1096.1 L915.1 1104.3 L868.7 1128.0" fill="none" stroke="#111" stroke-width="2.00"/>
<path d="M924.7 1011.4 L969.7 988.2" fill="none" stroke="#111" stroke-width="1.50"/>
<path d="M891.9 1052.4 L961.5 1016.9" fill="none" stroke="#111" stroke-width="2.75"/>
<path d="M871.4 1046.9 L909.6 1022.3 L915.1 1014.1 L917.8 1021.0" fill="none" stroke="#111" stroke-width="1.50"/>
<path d="M891.9 1052.4 L885.0 1082.4 L874.1 1109.7 L863.2 1128.0" fill="none" stroke="#111" stroke-width="1.75"/>
<path d="M879.6 1052.4 L874.1 1087.9" fill="none" stroke="#111" stroke-width="1.38"/>
<ellipse cx="903.6" cy="1082.4" rx="7.6" ry="10.4" transform="rotate(20.0 903.6 1082.4)" fill="none" stroke="#111" stroke-width="2.00"/>
<ellipse cx="903.6" cy="1082.4" rx="5.5" ry="8.2" transform="rotate(20.0 903.6 1082.4)" fill="none" stroke="#111" stroke-width="1.38"/>
<circle cx="959.3" cy="971.8" r="2.5" fill="#222"/>
<circle cx="956.1" cy="1005.9" r="2.5" fill="#222"/>
<circle cx="926.0" cy="1023.7" r="2.5" fill="#222"/>
<circle cx="945.1" cy="1016.9" r="2.5" fill="#222"/>
<circle cx="874.1" cy="1063.3" r="2.5" fill="#222"/>
<circle cx="870.0" cy="1087.9" r="2.5" fill="#222"/>
<path d="M844.3 1134.6 L856.6 1110.0 L871.7 1104.5 L875.8 1107.3 L866.2 1126.4 Z" fill="none" stroke="#111" stroke-width="2.00"/>
<path d="M535.7 905.1 L550.7 898.2 L560.3 903.7 L561.6 918.7 L571.2 939.2 L587.6 982.9 L598.5 1013.0 L609.4 1043.0 L619.0 1066.2 L625.8 1071.7 L635.4 1073.1 L638.1 1077.2 L627.2 1086.7 L624.5 1105.8 L617.6 1112.7 L610.8 1111.3 L604.0 1107.2 L595.8 1103.1 L591.7 1097.6 L554.8 1120.9 L548.0 1116.8 L547.2 1107.2 L557.5 1097.6 L560.3 1081.3 L554.8 1037.5 L549.4 1013.0 L533.0 974.7 L528.9 947.4 L531.6 920.1 Z" fill="none" stroke="#111" stroke-width="2.00"/>
<path d="M539.8 909.2 L554.8 914.6 L571.2 950.1 L590.3 1002.0 L612.2 1067.6" fill="none" stroke="#111" stroke-width="1.38"/>
<path d="M537.1 906.4 L543.9 913.3 L554.8 909.2 L560.3 903.7" fill="none" stroke="#111" stroke-width="1.38"/>
<ellipse cx="550.7" cy="961.1" rx="15.0" ry="22.4" transform="rotate(-15.0 550.7 961.1)" fill="none" stroke="#111" stroke-width="2.00"/>
<ellipse cx="554.8" cy="961.6" rx="10.9" ry="18.6" transform="rotate(-15.0 554.8 961.6)" fill="none" stroke="#111" stroke-width="1.38"/>
<path d="M560.3 995.2 C562.3 993.5 568.0 990.1 571.2 991.7 C574.4 993.3 576.2 997.1 579.4 1004.8 C582.6 1012.4 587.1 1027.1 590.3 1037.5 C593.5 1048.0 597.6 1061.2 598.5 1067.6 C599.4 1074.0 597.6 1074.9 595.8 1075.8 C594.0 1076.7 591.7 1079.9 587.6 1073.1 C583.5 1066.2 575.5 1044.8 571.2 1034.8 C566.9 1024.8 563.7 1018.4 561.6 1013.0 C559.6 1007.5 559.1 1005.0 558.9 1002.0 C558.7 999.1 558.2 996.9 560.3 995.2 Z" fill="none" stroke="#111" stroke-width="1.75"/>
<path d="M565.7 999.3 C566.9 999.1 570.3 995.7 572.6 997.9 C574.8 1000.2 576.4 1005.0 579.4 1013.0 C582.4 1020.9 587.6 1036.6 590.3 1045.7 C593.1 1054.8 594.9 1064.0 595.8 1067.6" fill="none" stroke="#111" stroke-width="1.25"/>
<path d="M533.0 974.7 L543.9 991.1 L554.8 995.2 L571.2 984.3 L587.6 982.9" fill="none" stroke="#111" stroke-width="1.62"/>
<path d="M582.1 1029.4 L595.8 1075.8" fill="none" stroke="#111" stroke-width="3.00"/>
<path d="M557.5 1092.2 L598.5 1081.3 L606.7 1073.1" fill="none" stroke="#111" stroke-width="1.50"/>
<path d="M560.3 1086.7 L593.1 1078.5" fill="none" stroke="#111" stroke-width="1.25"/>
<path d="M591.7 1090.8 L612.2 1088.1 L620.4 1100.4 L617.6 1112.7 L598.5 1105.8 Z" fill="none" stroke="#111" stroke-width="1.62"/>
<path d="M604.0 1067.6 L606.7 1086.7" fill="none" stroke="#111" stroke-width="2.75"/>
<path d="M614.9 1070.3 L625.8 1092.2" fill="none" stroke="#111" stroke-width="1.62"/>
<ellipse cx="552.1" cy="934.3" rx="2.2" ry="3.3" transform="rotate(-15.0 552.1 934.3)" fill="none" stroke="#111" stroke-width="1.62"/>
<ellipse cx="548.8" cy="985.6" rx="2.5" ry="3.6" transform="rotate(-15.0 548.8 985.6)" fill="none" stroke="#111" stroke-width="1.62"/>
<ellipse cx="566.3" cy="1073.6" rx="2.7" ry="4.1" transform="rotate(-15.0 566.3 1073.6)" fill="none" stroke="#111" stroke-width="1.62"/>
<ellipse cx="553.4" cy="1112.7" rx="2.2" ry="2.7" transform="rotate(0.0 553.4 1112.7)" fill="none" stroke="#111" stroke-width="1.62"/>
<ellipse cx="612.2" cy="1103.1" rx="2.5" ry="2.5" transform="rotate(0.0 612.2 1103.1)" fill="none" stroke="#111" stroke-width="1.62"/>
<circle cx="567.9" cy="955.6" r="2.4" fill="#222"/>
<circle cx="600.7" cy="1100.4" r="2.4" fill="#222"/>
<circle cx="575.3" cy="1101.7" r="2.4" fill="#222"/>
<circle cx="561.6" cy="1048.5" r="2.4" fill="#222"/>
<circle cx="494.7" cy="1147.4" r="4.6" fill="#fff" stroke="#111" stroke-width="2.00"/>
<circle cx="494.7" cy="1147.4" r="2.6" fill="#555" stroke="#111" stroke-width="1.50"/>
<path d="M500.2 1142.7 L517.9 1130.4 L520.7 1135.9 L502.9 1146.8 Z" fill="none" stroke="#111" stroke-width="1.75"/>
<circle cx="552.6" cy="1139.2" r="5.2" fill="#fff" stroke="#111" stroke-width="2.00"/>
<circle cx="552.6" cy="1139.2" r="2.9" fill="#555" stroke="#111" stroke-width="1.50"/>
<path d="M558.9 1133.1 L576.7 1121.7 L579.4 1127.7 L561.6 1138.6 Z" fill="none" stroke="#111" stroke-width="1.75"/>
<path d="M844.4 1134.5 L856.6 1109.9 L871.7 1104.5 L875.8 1107.2 L866.2 1126.3 Z" fill="none" stroke="#111" stroke-width="2.00"/>
<path d="M868.9 1145.4 L868.9 1159.1" fill="none" stroke="#111" stroke-width="3.75"/>
<ellipse cx="869.5" cy="1161.3" rx="4.9" ry="2.2" transform="rotate(0.0 869.5 1161.3)" fill="none" stroke="#111" stroke-width="1.62"/>
<path d="M890.8 1137.2 L890.8 1151.7" fill="none" stroke="#111" stroke-width="3.75"/>
<ellipse cx="891.3" cy="1153.6" rx="4.9" ry="2.2" transform="rotate(0.0 891.3 1153.6)" fill="none" stroke="#111" stroke-width="1.62"/>
<circle cx="888.6" cy="1213.7" r="4.6" fill="#fff" stroke="#111" stroke-width="2.00"/>
<circle cx="888.6" cy="1213.7" r="2.6" fill="#555" stroke="#111" stroke-width="1.50"/>
<circle cx="964.5" cy="1197.3" r="4.1" fill="#fff" stroke="#111" stroke-width="2.00"/>
<circle cx="964.5" cy="1197.3" r="2.3" fill="#555" stroke="#111" stroke-width="1.50"/>
<path d="M539.1 1277.1 L555.5 1269.3 L567.5 1274.4 L579.4 1269.3 L608.5 1287.0 L586.3 1299.3 L572.6 1294.9 Z" fill="none" stroke="#111" stroke-width="1.88"/>
<path d="M567.5 1274.4 L574.3 1291.4" fill="none" stroke="#111" stroke-width="1.38"/>
<path d="M579.4 1269.3 L576.0 1289.7" fill="none" stroke="#111" stroke-width="1.38"/>
<circle cx="383.1" cy="1368.3" r="4.4" fill="#fff" stroke="#111" stroke-width="2.00"/>
<circle cx="383.1" cy="1368.3" r="2.4" fill="#555" stroke="#111" stroke-width="1.50"/>
<path d="M388.2 1371.0 L398.5 1374.4" fill="none" stroke="#111" stroke-width="3.75"/>
<ellipse cx="599.9" cy="1364.8" rx="8.9" ry="10.2" transform="rotate(-20.0 599.9 1364.8)" fill="none" stroke="#111" stroke-width="2.00"/>
<ellipse cx="597.2" cy="1362.1" rx="4.8" ry="4.1" transform="rotate(0.0 597.2 1362.1)" fill="none" stroke="#111" stroke-width="1.50"/>
<ellipse cx="141.7" cy="1509.3" rx="3.8" ry="4.8" transform="rotate(0.0 141.7 1509.3)" fill="none" stroke="#111" stroke-width="1.88"/>
<ellipse cx="186.8" cy="1603.8" rx="9.6" ry="11.6" transform="rotate(-20.0 186.8 1603.8)" fill="none" stroke="#111" stroke-width="2.00"/>
<ellipse cx="187.5" cy="1603.8" rx="5.8" ry="7.5" transform="rotate(-20.0 187.5 1603.8)" fill="none" stroke="#111" stroke-width="1.62"/>
<path d="M552.1 1496.3 C562.4 1491.7 593.7 1475.5 613.6 1469.0 C633.5 1462.4 656.3 1458.5 671.6 1457.0 C687.0 1455.6 694.4 1457.6 705.8 1460.4 C717.1 1463.3 725.4 1465.3 739.9 1474.1 C754.4 1482.9 784.0 1506.8 792.8 1513.4" fill="none" stroke="#111" stroke-width="2.00"/>
<path d="M558.9 1499.7 C569.2 1495.2 601.6 1478.6 620.4 1472.4 C639.2 1466.2 657.4 1463.6 671.6 1462.5 C685.8 1461.4 694.9 1463.1 705.8 1465.9 C716.6 1468.7 722.8 1470.9 736.5 1479.2 C750.1 1487.5 779.2 1509.7 787.7 1515.8" fill="none" stroke="#111" stroke-width="1.50"/>
<path d="M792.8 1513.4 L606.7 1626.0 L603.3 1644.8 L518.0 1695.0" fill="none" stroke="#111" stroke-width="2.00"/>
<path d="M787.7 1515.8 L792.8 1513.4" fill="none" stroke="#111" stroke-width="1.50"/>
<path d="M207.3 1695.0 L251.7 1672.1 L279.0 1682.4" fill="none" stroke="#111" stroke-width="1.88"/>
<ellipse cx="704.0" cy="1529.4" rx="32.4" ry="21.2" transform="rotate(-5.0 704.0 1529.4)" fill="none" stroke="#111" stroke-width="1.88"/>
<path d="M258.5 1552.6 L470.2 1433.1" fill="none" stroke="#111" stroke-width="3.25"/>
<path d="M261.9 1561.2 L477.0 1441.7" fill="none" stroke="#111" stroke-width="1.50"/>
<path d="M299.5 1617.5 L514.6 1501.4" fill="none" stroke="#111" stroke-width="1.50"/>
<path d="M306.3 1626.0 L521.4 1509.9" fill="none" stroke="#111" stroke-width="1.50"/>
<path d="M313.1 1636.3 L528.2 1521.9" fill="none" stroke="#111" stroke-width="1.50"/>
<path d="M323.4 1644.1 L535.0 1529.4" fill="none" stroke="#111" stroke-width="1.88"/>
<path d="M372.9 1557.7 L396.8 1543.1 L407.0 1549.2 L381.4 1565.6 Z" fill="none" stroke="#111" stroke-width="1.75"/>
<path d="M378.0 1558.8 L397.8 1547.5" fill="none" stroke="#111" stroke-width="1.25"/>
<circle cx="433.3" cy="1552.6" r="4.8" fill="none" stroke="#111" stroke-width="1.75"/>
<circle cx="360.2" cy="1594.6" r="4.8" fill="none" stroke="#111" stroke-width="1.75"/>
<circle cx="454.8" cy="1483.7" r="2.4" fill="#222"/>
<circle cx="469.5" cy="1488.4" r="2.4" fill="#222"/>
<circle cx="415.6" cy="1506.5" r="2.4" fill="#222"/>
<circle cx="383.8" cy="1525.3" r="2.4" fill="#222"/>
<circle cx="335.7" cy="1560.5" r="2.4" fill="#222"/>
<circle cx="478.7" cy="1579.9" r="2.4" fill="#222"/>
<circle cx="432.6" cy="1605.5" r="2.4" fill="#222"/>
<circle cx="386.5" cy="1632.2" r="2.4" fill="#222"/>
<circle cx="478.7" cy="1636.3" r="2.4" fill="#222"/>
<circle cx="506.7" cy="1655.0" r="2.4" fill="#222"/>
<circle cx="603.3" cy="1496.3" r="2.4" fill="#222"/>
<circle cx="757.0" cy="1516.8" r="2.4" fill="#222"/>
<circle cx="724.5" cy="1551.9" r="2.4" fill="#222"/>
<circle cx="693.8" cy="1569.0" r="2.4" fill="#222"/>
<circle cx="676.7" cy="1577.2" r="2.4" fill="#222"/>
<circle cx="622.1" cy="1606.6" r="2.4" fill="#222"/>
<circle cx="531.6" cy="1537.3" r="4.1" fill="#fff" stroke="#111" stroke-width="2.00"/>
<circle cx="531.6" cy="1537.3" r="2.3" fill="#555" stroke="#111" stroke-width="1.50"/>
<circle cx="531.6" cy="1571.4" r="6.1" fill="#fff" stroke="#111" stroke-width="2.00"/>
<circle cx="531.6" cy="1571.4" r="3.4" fill="#555" stroke="#111" stroke-width="1.50"/>
<circle cx="613.6" cy="1590.9" r="4.4" fill="#fff" stroke="#111" stroke-width="2.00"/>
<circle cx="613.6" cy="1590.9" r="2.4" fill="#555" stroke="#111" stroke-width="1.50"/>
<path d="M209.0 1487.8 L234.6 1469.0 L251.7 1472.4 L275.6 1496.3 L273.9 1508.2 L253.4 1520.2 L226.1 1509.9 Z" fill="none" stroke="#111" stroke-width="1.88"/>
<circle cx="215.8" cy="1488.4" r="2.0" fill="#222"/>
<circle cx="268.1" cy="1499.7" r="2.0" fill="#222"/>
<path d="M198.8 1475.8 L209.0 1450.2 L220.9 1445.1 L227.8 1453.6 L229.5 1467.3" fill="none" stroke="#111" stroke-width="2.00"/>
<circle cx="220.9" cy="1455.3" r="2.5" fill="#222"/>
<path d="M198.8 1475.8 C199.0 1480.1 199.0 1490.3 200.5 1501.4 C201.9 1512.5 205.6 1529.9 207.3 1542.4 C209.0 1554.9 208.4 1566.9 210.7 1576.5 C213.0 1586.2 215.3 1591.3 220.9 1600.4 C226.6 1609.5 239.2 1622.6 244.8 1631.2 C250.5 1639.7 252.8 1645.9 255.1 1651.6 C257.4 1657.3 254.5 1659.6 258.5 1665.3 C262.5 1671.0 275.6 1682.4 279.0 1685.8" fill="none" stroke="#111" stroke-width="2.25"/>
<path d="M244.8 1521.9 C246.6 1527.0 252.2 1543.5 255.1 1552.6 C257.9 1561.7 258.5 1568.6 261.9 1576.5 C265.3 1584.5 269.3 1590.7 275.6 1600.4 C281.8 1610.1 291.5 1624.9 299.5 1634.6 C307.4 1644.2 315.4 1652.2 323.4 1658.5 C331.3 1664.7 338.7 1668.1 347.3 1672.1 C355.8 1676.1 370.0 1680.7 374.6 1682.4" fill="none" stroke="#111" stroke-width="2.25"/>
<path d="M210.7 1515.1 C211.8 1521.3 215.3 1541.2 217.5 1552.6 C219.8 1564.0 219.8 1572.5 224.4 1583.4 C228.9 1594.2 238.0 1607.3 244.8 1617.5 C251.7 1627.7 259.6 1635.7 265.3 1644.8 C271.0 1653.9 276.7 1667.6 279.0 1672.1" fill="none" stroke="#111" stroke-width="1.50"/>
<path d="M238.0 1518.5 C239.4 1524.2 243.7 1542.4 246.6 1552.6 C249.4 1562.9 251.4 1571.4 255.1 1579.9 C258.8 1588.5 262.5 1594.2 268.7 1603.8 C275.0 1613.5 284.7 1628.3 292.6 1638.0 C300.6 1647.7 307.4 1655.3 316.5 1661.9 C325.6 1668.4 342.2 1674.7 347.3 1677.2" fill="none" stroke="#111" stroke-width="1.50"/>
<path d="M215.8 1515.1 L244.8 1521.9" fill="none" stroke="#111" stroke-width="1.62"/>
<path d="M220.9 1521.9 L224.4 1545.8 L238.0 1549.2 L241.4 1527.0" fill="none" stroke="#111" stroke-width="1.62"/>
<path d="M214.1 1578.2 L231.2 1574.8 L238.0 1586.8 L251.7 1583.4" fill="none" stroke="#111" stroke-width="1.62"/>
<path d="M231.2 1603.8 L258.5 1593.6" fill="none" stroke="#111" stroke-width="1.50"/>
<path d="M244.8 1610.7 L251.7 1624.3 L265.3 1617.5" fill="none" stroke="#111" stroke-width="1.50"/>
<ellipse cx="229.5" cy="1580.6" rx="6.8" ry="4.8" transform="rotate(0.0 229.5 1580.6)" fill="none" stroke="#111" stroke-width="1.62"/>
<circle cx="255.8" cy="1623.6" r="4.8" fill="#fff" stroke="#111" stroke-width="2.00"/>
<circle cx="255.8" cy="1623.6" r="2.6" fill="#555" stroke="#111" stroke-width="1.50"/>
<path d="M258.5 1665.3 L279.0 1651.6 L306.3 1658.5" fill="none" stroke="#111" stroke-width="1.62"/>
<path d="M279.0 1638.0 L299.5 1665.3 L313.1 1685.8" fill="none" stroke="#111" stroke-width="1.62"/>
<path d="M285.8 1638.0 L309.7 1665.3" fill="none" stroke="#111" stroke-width="1.38"/>
<circle cx="280.7" cy="1644.8" r="3.4" fill="#fff" stroke="#111" stroke-width="2.00"/>
<circle cx="280.7" cy="1644.8" r="1.9" fill="#555" stroke="#111" stroke-width="1.50"/>
<circle cx="294.4" cy="1651.6" r="3.4" fill="#fff" stroke="#111" stroke-width="2.00"/>
<circle cx="294.4" cy="1651.6" r="1.9" fill="#555" stroke="#111" stroke-width="1.50"/>
<path d="M203.5 1474.8 C203.8 1479.1 203.8 1489.3 205.2 1500.4 C206.7 1511.5 210.4 1528.8 212.1 1541.4 C213.8 1553.9 213.2 1565.8 215.5 1575.5 C217.8 1585.2 220.0 1590.3 225.7 1599.4 C231.4 1608.5 243.9 1621.6 249.6 1630.1 C255.3 1638.7 257.6 1644.9 259.9 1650.6 C262.1 1656.3 259.3 1658.6 263.3 1664.3 C267.3 1670.0 280.4 1681.3 283.8 1684.8" fill="none" stroke="#111" stroke-width="1.50"/>
<path d="M207.6 1473.8 C207.9 1478.0 207.9 1488.3 209.3 1499.4 C210.8 1510.5 214.5 1527.8 216.2 1540.3 C217.9 1552.9 217.3 1564.8 219.6 1574.5 C221.9 1584.1 224.1 1589.3 229.8 1598.4 C235.5 1607.5 248.0 1620.6 253.7 1629.1 C259.4 1637.6 261.7 1643.9 264.0 1649.6 C266.2 1655.3 263.4 1657.6 267.4 1663.2 C271.4 1668.9 284.5 1680.3 287.9 1683.7" fill="none" stroke="#111" stroke-width="1.25"/>
<path d="M240.1 1523.6 C241.8 1528.7 247.5 1545.2 250.3 1554.3 C253.2 1563.4 253.7 1570.3 257.1 1578.2 C260.6 1586.2 264.5 1592.5 270.8 1602.1 C277.1 1611.8 286.7 1626.6 294.7 1636.3 C302.7 1645.9 310.6 1653.9 318.6 1660.2 C326.6 1666.4 334.0 1669.8 342.5 1673.8 C351.0 1677.8 365.3 1682.4 369.8 1684.1" fill="none" stroke="#111" stroke-width="1.50"/>
<path d="M236.0 1525.0 C237.7 1530.1 243.4 1546.6 246.2 1555.7 C249.1 1564.8 249.6 1571.6 253.0 1579.6 C256.5 1587.6 260.4 1593.8 266.7 1603.5 C273.0 1613.2 282.6 1628.0 290.6 1637.6 C298.6 1647.3 306.5 1655.3 314.5 1661.5 C322.5 1667.8 329.9 1671.2 338.4 1675.2 C346.9 1679.2 361.2 1683.7 365.7 1685.4" fill="none" stroke="#111" stroke-width="1.25"/>
<path d="M210.7 1501.4 L243.1 1518.5" fill="none" stroke="#111" stroke-width="1.38"/>
<path d="M212.4 1535.6 L250.0 1539.0" fill="none" stroke="#111" stroke-width="1.38"/>
<path d="M215.8 1569.7 L258.5 1566.3" fill="none" stroke="#111" stroke-width="1.38"/>
<path d="M226.1 1600.4 L270.5 1593.6" fill="none" stroke="#111" stroke-width="1.38"/>
<path d="M248.3 1631.2 L294.4 1627.7" fill="none" stroke="#111" stroke-width="1.38"/>
<path d="M261.9 1658.5 L318.3 1653.3" fill="none" stroke="#111" stroke-width="1.38"/>
<path d="M455.5 1317.1 C454.6 1324.4 448.4 1350.6 450.4 1361.4 C452.4 1372.2 463.5 1371.1 467.4 1381.9 C471.4 1392.7 471.4 1414.4 474.3 1426.3 C477.1 1438.3 477.7 1441.1 484.5 1453.6 C491.3 1466.1 509.0 1490.0 515.2 1501.4 C521.5 1512.8 518.1 1516.2 522.1 1521.9 C526.1 1527.6 536.3 1533.3 539.1 1535.6" fill="none" stroke="#111" stroke-width="1.50"/>
<path d="M459.6 1316.4 C458.7 1323.8 452.5 1349.9 454.5 1360.8 C456.5 1371.6 467.6 1370.4 471.5 1381.2 C475.5 1392.0 475.5 1413.7 478.4 1425.6 C481.2 1437.6 481.8 1440.4 488.6 1452.9 C495.4 1465.5 513.1 1489.4 519.3 1500.7 C525.6 1512.1 522.2 1515.5 526.2 1521.2 C530.2 1526.9 540.4 1532.6 543.2 1534.9" fill="none" stroke="#111" stroke-width="1.25"/>
<path d="M493.4 1386.7 C494.5 1393.5 495.7 1414.0 500.2 1427.7 C504.8 1441.3 512.7 1455.6 520.7 1468.6 C528.7 1481.7 540.1 1497.7 548.0 1506.2 C556.0 1514.7 557.1 1513.6 568.5 1519.8 C579.9 1526.1 606.1 1539.8 616.3 1543.7 C626.5 1547.7 627.7 1543.7 630.0 1543.7" fill="none" stroke="#111" stroke-width="1.50"/>
<path d="M489.3 1388.1 C490.4 1394.9 491.6 1415.4 496.1 1429.0 C500.7 1442.7 508.6 1456.9 516.6 1470.0 C524.6 1483.1 536.0 1499.0 543.9 1507.6 C551.9 1516.1 553.0 1515.0 564.4 1521.2 C575.8 1527.5 602.0 1541.1 612.2 1545.1 C622.5 1549.1 623.6 1545.1 625.9 1545.1" fill="none" stroke="#111" stroke-width="1.25"/>
<path d="M465.1 1399.0 L499.2 1395.6" fill="none" stroke="#111" stroke-width="1.38"/>
<path d="M470.9 1429.7 L505.0 1428.0" fill="none" stroke="#111" stroke-width="1.38"/>
<path d="M483.8 1457.0 L518.0 1455.3" fill="none" stroke="#111" stroke-width="1.38"/>
<path d="M500.9 1484.3 L535.0 1482.6" fill="none" stroke="#111" stroke-width="1.38"/>
<path d="M518.0 1515.1 L558.9 1511.7" fill="none" stroke="#111" stroke-width="1.38"/>
<path d="M538.5 1539.0 L637.5 1598.7" fill="none" stroke="#111" stroke-width="1.50"/>
<path d="M543.6 1533.8 L642.6 1593.6" fill="none" stroke="#111" stroke-width="1.25"/>
<path d="M572.6 1521.9 L634.1 1545.8" fill="none" stroke="#111" stroke-width="1.25"/>
<path d="M479.7 1326.6 L519.7 1375.1 L702.3 1484.3" fill="none" stroke="#111" stroke-width="1.25"/>
<path d="M470.9 1332.4 L497.5 1383.6 L652.8 1469.0" fill="none" stroke="#111" stroke-width="1.25"/>
<path d="M666.2 1472.1 C665.9 1477.7 666.2 1496.0 664.4 1506.2 C662.7 1516.4 659.0 1526.7 655.9 1533.5 C652.8 1540.3 647.4 1544.9 645.7 1547.2" fill="none" stroke="#111" stroke-width="1.50"/>
<path d="M669.6 1473.4 C669.3 1479.1 669.6 1497.3 667.9 1507.6 C666.2 1517.8 662.5 1528.0 659.3 1534.9 C656.2 1541.7 650.8 1546.3 649.1 1548.5" fill="none" stroke="#111" stroke-width="1.25"/>
<path d="M398.5 1644.8 L446.3 1614.8 L453.1 1619.2 L463.4 1620.9 L461.6 1626.0 L442.9 1634.6 L436.0 1655.0 L432.6 1672.1 L415.6 1685.8 L391.7 1692.6" fill="none" stroke="#111" stroke-width="1.88"/>
<path d="M398.5 1644.8 L381.4 1682.4 L374.6 1695.0" fill="none" stroke="#111" stroke-width="1.88"/>
<path d="M405.3 1648.2 L442.9 1624.3" fill="none" stroke="#111" stroke-width="1.38"/>
<path d="M408.7 1651.6 L395.1 1685.8" fill="none" stroke="#111" stroke-width="1.50"/>
<ellipse cx="410.4" cy="1651.6" rx="4.8" ry="3.4" transform="rotate(0.0 410.4 1651.6)" fill="none" stroke="#111" stroke-width="1.50"/>
<ellipse cx="401.9" cy="1665.3" rx="4.8" ry="3.4" transform="rotate(0.0 401.9 1665.3)" fill="none" stroke="#111" stroke-width="1.50"/>
<ellipse cx="415.6" cy="1670.4" rx="4.8" ry="3.4" transform="rotate(0.0 415.6 1670.4)" fill="none" stroke="#111" stroke-width="1.50"/>
<ellipse cx="425.8" cy="1678.9" rx="5.5" ry="3.4" transform="rotate(0.0 425.8 1678.9)" fill="none" stroke="#111" stroke-width="1.50"/>
<path d="M451.4 1317.1 L463.4 1305.1 L471.9 1310.2 L475.3 1322.2" fill="none" stroke="#111" stroke-width="2.12"/>
<path d="M451.4 1317.1 C450.5 1324.4 444.3 1350.6 446.3 1361.4 C448.3 1372.2 459.4 1371.1 463.4 1381.9 C467.3 1392.7 467.3 1414.4 470.2 1426.3 C473.0 1438.3 473.6 1441.1 480.4 1453.6 C487.3 1466.1 504.9 1490.0 511.2 1501.4 C517.4 1512.8 514.0 1516.2 518.0 1521.9 C522.0 1527.6 532.2 1533.3 535.0 1535.6" fill="none" stroke="#111" stroke-width="2.25"/>
<path d="M535.0 1535.6 L640.9 1600.4 L647.7 1597.0" fill="none" stroke="#111" stroke-width="2.25"/>
<path d="M497.5 1385.3 C498.6 1392.2 499.8 1412.6 504.3 1426.3 C508.9 1440.0 516.8 1454.2 524.8 1467.3 C532.8 1480.4 544.2 1496.3 552.1 1504.8 C560.1 1513.4 561.2 1512.2 572.6 1518.5 C584.0 1524.7 610.2 1538.4 620.4 1542.4 C630.6 1546.4 631.8 1542.4 634.1 1542.4" fill="none" stroke="#111" stroke-width="2.25"/>
<path d="M456.5 1337.5 C457.1 1343.2 457.1 1361.4 459.9 1371.7 C462.8 1381.9 470.2 1388.7 473.6 1399.0 C477.0 1409.2 477.0 1422.9 480.4 1433.1 C483.8 1443.4 487.8 1449.6 494.1 1460.4 C500.3 1471.3 511.2 1487.8 518.0 1498.0 C524.8 1508.2 532.2 1517.9 535.0 1521.9" fill="none" stroke="#111" stroke-width="1.50"/>
<path d="M490.7 1392.2 C491.8 1398.4 492.9 1417.2 497.5 1429.7 C502.0 1442.2 510.0 1454.8 518.0 1467.3 C525.9 1479.8 536.2 1495.4 545.3 1504.8 C554.4 1514.2 560.7 1516.5 572.6 1523.6 C584.6 1530.7 609.6 1543.5 617.0 1547.5" fill="none" stroke="#111" stroke-width="1.50"/>
<path d="M475.3 1322.2 L518.0 1371.7 L705.8 1482.6" fill="none" stroke="#111" stroke-width="2.25"/>
<path d="M465.1 1330.7 L494.1 1381.9 L654.5 1467.3 L702.3 1489.5" fill="none" stroke="#111" stroke-width="2.00"/>
<path d="M483.8 1337.5 L521.4 1378.5 L698.9 1484.3" fill="none" stroke="#111" stroke-width="1.38"/>
<path d="M499.2 1387.0 L651.1 1470.7" fill="none" stroke="#111" stroke-width="1.38"/>
<path d="M705.8 1482.6 L702.3 1489.5 L681.9 1498.0" fill="none" stroke="#111" stroke-width="1.88"/>
<ellipse cx="468.5" cy="1361.4" rx="6.8" ry="8.5" transform="rotate(0.0 468.5 1361.4)" fill="none" stroke="#111" stroke-width="1.88"/>
<path d="M454.8 1351.2 L480.4 1351.2 L483.8 1364.8 L459.9 1375.1" fill="none" stroke="#111" stroke-width="1.50"/>
<path d="M449.7 1337.5 L473.6 1340.9" fill="none" stroke="#111" stroke-width="1.50"/>
<path d="M477.0 1385.3 L494.1 1383.6 L495.8 1395.6 L480.4 1399.0" fill="none" stroke="#111" stroke-width="1.50"/>
<path d="M483.8 1399.0 L497.5 1412.6 L494.1 1419.5" fill="none" stroke="#111" stroke-width="1.50"/>
<circle cx="490.7" cy="1448.5" r="4.1" fill="none" stroke="#111" stroke-width="1.50"/>
<circle cx="511.2" cy="1482.6" r="4.1" fill="none" stroke="#111" stroke-width="1.50"/>
<circle cx="475.3" cy="1405.8" r="2.2" fill="#222"/>
<circle cx="483.8" cy="1426.3" r="2.2" fill="#222"/>
<circle cx="523.1" cy="1465.6" r="2.2" fill="#222"/>
<circle cx="504.3" cy="1443.4" r="2.2" fill="#222"/>
<path d="M640.9 1433.1 L654.5 1428.0 L664.8 1443.4 L668.2 1467.3 L675.0 1487.8 L681.9 1501.4 L668.2 1562.9 L647.7 1598.7" fill="none" stroke="#111" stroke-width="2.12"/>
<path d="M654.5 1467.3 C654.3 1473.0 654.5 1491.2 652.8 1501.4 C651.1 1511.7 647.4 1521.9 644.3 1528.7 C641.2 1535.6 635.8 1540.1 634.1 1542.4" fill="none" stroke="#111" stroke-width="2.12"/>
<path d="M661.4 1474.1 C661.1 1479.2 661.4 1495.2 659.7 1504.8 C658.0 1514.5 654.3 1525.3 651.1 1532.1 C648.0 1539.0 642.6 1543.5 640.9 1545.8" fill="none" stroke="#111" stroke-width="1.38"/>
<path d="M634.1 1542.4 L627.2 1576.5 L640.9 1600.4" fill="none" stroke="#111" stroke-width="1.75"/>
<path d="M671.6 1504.8 L658.0 1586.8" fill="none" stroke="#111" stroke-width="1.50"/>
<circle cx="642.6" cy="1436.5" r="2.2" fill="#222"/>
<circle cx="655.2" cy="1434.8" r="2.2" fill="#222"/>
<circle cx="667.5" cy="1515.1" r="2.2" fill="#222"/>
<circle cx="654.5" cy="1552.6" r="2.2" fill="#222"/>
<circle cx="644.3" cy="1586.8" r="2.2" fill="#222"/>
<circle cx="642.6" cy="1568.0" r="3.8" fill="none" stroke="#111" stroke-width="1.38"/>
<path d="M535.0 1521.9 L558.9 1528.7 L572.6 1518.5" fill="none" stroke="#111" stroke-width="1.62"/>
<path d="M552.1 1504.8 L562.4 1528.7 L586.3 1539.0" fill="none" stroke="#111" stroke-width="1.62"/>
<path d="M586.3 1535.6 L599.9 1556.0 L627.2 1569.7" fill="none" stroke="#111" stroke-width="1.50"/>
<path d="M593.1 1552.6 L620.4 1559.5" fill="none" stroke="#111" stroke-width="1.38"/>
<path d="M524.8 1504.8 L545.3 1501.4 L552.1 1515.1" fill="none" stroke="#111" stroke-width="1.50"/>
<circle cx="538.5" cy="1521.9" r="3.1" fill="#fff" stroke="#111" stroke-width="2.00"/>
<circle cx="538.5" cy="1521.9" r="1.7" fill="#555" stroke="#111" stroke-width="1.50"/>
<circle cx="582.8" cy="1530.4" r="3.1" fill="#fff" stroke="#111" stroke-width="2.00"/>
<circle cx="582.8" cy="1530.4" r="1.7" fill="#555" stroke="#111" stroke-width="1.50"/>
<path d="M60.0 1180.5 L820.0 1180.5" fill="none" stroke="#111" stroke-width="2.38"/>
<path d="M60.0 1180.0 L60.0 1941.0" fill="none" stroke="#111" stroke-width="1.50"/>
<path d="M60.0 1941.0 L820.0 1941.0" fill="none" stroke="#111" stroke-width="1.75"/>
<path d="M62.5 1183.0 L62.5 1939.0" fill="none" stroke="#777" stroke-width="1.25" stroke-dasharray="1.5 2"/>
<path d="M819.0 1182.0 L819.0 1941.0" fill="none" stroke="#333" stroke-width="1.62" stroke-dasharray="2 2"/>
<path d="M821.5 1182.0 L821.5 1941.0" fill="none" stroke="#666" stroke-width="1.25" stroke-dasharray="1.5 2.5"/>
<rect x="81.7" y="1887.1" width="41.3" height="39.9" fill="none" stroke="#777" stroke-width="1.50" stroke-dasharray="2 1.5"/>
<circle cx="378.0" cy="1820.2" r="4.4" fill="#fff" stroke="#111" stroke-width="2.00"/>
<circle cx="378.0" cy="1820.2" r="2.4" fill="#555" stroke="#111" stroke-width="1.50"/>
<circle cx="592.4" cy="1696.6" r="4.4" fill="#fff" stroke="#111" stroke-width="2.00"/>
<circle cx="592.4" cy="1696.6" r="2.4" fill="#555" stroke="#111" stroke-width="1.50"/>
<path d="M248.3 1671.0 C241.4 1674.9 218.1 1687.7 207.3 1694.9 C196.5 1702.0 188.5 1706.5 183.4 1713.6 C178.3 1720.7 176.6 1729.0 176.6 1737.5 C176.6 1746.1 178.3 1757.2 183.4 1764.8 C188.5 1772.5 203.3 1780.5 207.3 1783.6" fill="none" stroke="#111" stroke-width="2.12"/>
<path d="M207.3 1783.6 L263.6 1821.2 L272.2 1819.5" fill="none" stroke="#111" stroke-width="2.12"/>
<path d="M258.5 1677.8 C250.5 1682.1 222.1 1695.7 210.7 1703.4 C199.3 1711.1 194.5 1717.1 190.2 1723.9 C186.0 1730.7 184.8 1737.5 185.1 1744.4 C185.4 1751.2 187.7 1759.2 191.9 1764.8 C196.2 1770.5 207.6 1776.2 210.7 1778.5" fill="none" stroke="#111" stroke-width="1.50"/>
<path d="M210.7 1778.5 L265.3 1814.4" fill="none" stroke="#111" stroke-width="1.50"/>
<path d="M253.4 1674.4 C246.0 1678.5 220.1 1691.9 209.0 1699.3 C197.9 1706.7 191.5 1711.8 186.8 1718.8 C182.1 1725.7 180.5 1733.3 180.7 1740.9 C180.8 1748.6 182.8 1758.1 187.5 1764.8 C192.2 1771.6 205.4 1778.5 209.0 1781.2" fill="none" stroke="#444" stroke-width="1.25"/>
<path d="M272.2 1819.5 L449.7 1715.3 L482.1 1715.3 L603.3 1645.4 L605.0 1626.6 L722.8 1560.0" fill="none" stroke="#111" stroke-width="2.12"/>
<circle cx="263.6" cy="1681.2" r="2.4" fill="#222"/>
<circle cx="277.3" cy="1683.6" r="2.4" fill="#222"/>
<circle cx="243.1" cy="1703.4" r="2.4" fill="#222"/>
<circle cx="221.6" cy="1716.4" r="2.4" fill="#222"/>
<circle cx="279.0" cy="1803.1" r="2.4" fill="#222"/>
<circle cx="323.4" cy="1782.6" r="2.4" fill="#222"/>
<circle cx="355.8" cy="1764.8" r="2.4" fill="#222"/>
<circle cx="370.5" cy="1756.3" r="2.4" fill="#222"/>
<circle cx="362.6" cy="1746.1" r="2.4" fill="#222"/>
<circle cx="386.5" cy="1747.1" r="2.4" fill="#222"/>
<path d="M279.0 1686.3 L347.3 1727.3 L360.9 1729.0 L367.8 1720.5" fill="none" stroke="#111" stroke-width="2.12"/>
<path d="M275.6 1672.7 L340.4 1711.9 L354.1 1723.9" fill="none" stroke="#111" stroke-width="1.50"/>
<path d="M299.5 1659.0 L323.4 1662.4 L349.0 1710.2" fill="none" stroke="#111" stroke-width="1.62"/>
<path d="M309.7 1665.8 L340.4 1710.2" fill="none" stroke="#111" stroke-width="1.38"/>
<path d="M323.4 1662.4 L347.3 1672.7 L374.6 1682.9 L381.4 1689.7" fill="none" stroke="#111" stroke-width="1.88"/>
<circle cx="356.8" cy="1723.9" r="3.1" fill="none" stroke="#111" stroke-width="1.50"/>
<circle cx="301.2" cy="1679.5" r="3.1" fill="#fff" stroke="#111" stroke-width="2.00"/>
<circle cx="301.2" cy="1679.5" r="1.7" fill="#555" stroke="#111" stroke-width="1.50"/>
<path d="M437.7 1676.1 L425.8 1696.6 L415.6 1723.9 L398.5 1740.9 L367.8 1720.5" fill="none" stroke="#111" stroke-width="1.88"/>
<path d="M367.8 1703.4 L398.5 1740.9" fill="none" stroke="#111" stroke-width="1.50"/>
<path d="M381.4 1689.7 L412.1 1686.3 L425.8 1696.6" fill="none" stroke="#111" stroke-width="1.62"/>
<path d="M408.7 1696.6 L398.5 1740.9" fill="none" stroke="#111" stroke-width="1.38"/>
<path d="M410.4 1669.3 L432.6 1671.0 L436.0 1677.8 L415.6 1679.5 Z" fill="none" stroke="#111" stroke-width="1.62"/>
<circle cx="378.0" cy="1719.8" r="2.2" fill="#222"/>
<circle cx="396.8" cy="1715.3" r="2.2" fill="#222"/>
<circle cx="415.6" cy="1723.9" r="2.2" fill="#222"/>
<circle cx="425.8" cy="1689.7" r="2.2" fill="#222"/>
<circle cx="1230.6" cy="133.8" r="3.6" fill="#fff" stroke="#111" stroke-width="2.00"/>
<circle cx="1230.6" cy="133.8" r="2.0" fill="#555" stroke="#111" stroke-width="1.50"/>
<path d="M1234.7 135.9 L1241.6 137.8" fill="none" stroke="#111" stroke-width="3.75"/>
<circle cx="1266.1" cy="116.0" r="3.6" fill="#fff" stroke="#111" stroke-width="2.00"/>
<circle cx="1266.1" cy="116.0" r="2.0" fill="#555" stroke="#111" stroke-width="1.50"/>
<path d="M1270.2 117.9 L1277.1 120.1" fill="none" stroke="#111" stroke-width="3.75"/>
<path d="M1252.5 147.4 L1260.7 139.2 L1267.5 141.9 L1283.9 132.4 L1289.4 121.5 L1297.5 121.5 L1301.6 131.0 L1330.3 177.5 L1323.5 188.4 L1322.1 196.6 L1323.5 204.8 L1316.7 210.2 L1308.5 207.5 L1286.6 221.2 L1283.9 226.6 L1277.1 226.6 L1273.0 218.4 L1283.9 204.8 L1256.6 165.2 Z" fill="none" stroke="#111" stroke-width="2.00"/>
<path d="M1283.9 204.8 L1323.5 180.2" fill="none" stroke="#111" stroke-width="1.62"/>
<path d="M1286.6 209.7 L1324.9 184.3" fill="none" stroke="#111" stroke-width="1.38"/>
<path d="M1256.6 150.1 L1300.3 126.9" fill="none" stroke="#111" stroke-width="1.38"/>
<circle cx="1293.4" cy="169.3" r="7.4" fill="none" stroke="#111" stroke-width="2.00"/>
<ellipse cx="1269.7" cy="163.8" rx="1.6" ry="3.6" transform="rotate(35.0 1269.7 163.8)" fill="none" stroke="#111" stroke-width="1.50"/>
<ellipse cx="1323.5" cy="167.1" rx="1.6" ry="3.3" transform="rotate(60.0 1323.5 167.1)" fill="none" stroke="#111" stroke-width="1.50"/>
<circle cx="1262.0" cy="143.3" r="3.0" fill="#fff" stroke="#111" stroke-width="2.00"/>
<circle cx="1262.0" cy="143.3" r="1.7" fill="#555" stroke="#111" stroke-width="1.50"/>
<circle cx="1294.3" cy="125.6" r="3.0" fill="#fff" stroke="#111" stroke-width="2.00"/>
<circle cx="1294.3" cy="125.6" r="1.7" fill="#555" stroke="#111" stroke-width="1.50"/>
<circle cx="1316.7" cy="204.2" r="1.9" fill="none" stroke="#111" stroke-width="1.50"/>
<circle cx="1284.7" cy="221.2" r="1.9" fill="none" stroke="#111" stroke-width="1.50"/>
<path d="M1539.3 152.9 C1539.5 148.8 1539.1 134.4 1540.7 128.3 C1542.2 122.1 1545.2 118.7 1548.8 116.0 C1552.5 113.3 1557.9 111.4 1562.5 111.9 C1567.1 112.4 1573.9 117.6 1576.2 118.7" fill="none" stroke="#111" stroke-width="2.12"/>
<path d="M1576.2 118.7 L1669.0 165.2" fill="none" stroke="#111" stroke-width="2.12"/>
<path d="M1551.6 152.9 C1551.8 149.7 1551.8 138.1 1552.9 133.8 C1554.1 129.4 1555.9 127.8 1558.4 126.9 C1560.9 126.0 1566.4 128.1 1568.0 128.3" fill="none" stroke="#111" stroke-width="1.88"/>
<path d="M1568.0 128.3 L1660.8 178.8" fill="none" stroke="#111" stroke-width="2.12"/>
<ellipse cx="1664.9" cy="172.0" rx="4.6" ry="7.6" transform="rotate(25.0 1664.9 172.0)" fill="none" stroke="#111" stroke-width="2.00"/>
<ellipse cx="1544.7" cy="159.7" rx="8.2" ry="3.8" transform="rotate(0.0 1544.7 159.7)" fill="none" stroke="#111" stroke-width="1.88"/>
<path d="M1537.4 154.2 L1537.4 160.5" fill="none" stroke="#111" stroke-width="1.62"/>
<path d="M1552.4 154.2 L1552.4 160.5" fill="none" stroke="#111" stroke-width="1.62"/>
<path d="M1557.0 133.8 L1608.9 101.0 L1614.4 103.7 L1611.7 111.9 L1581.6 129.7" fill="none" stroke="#111" stroke-width="1.75"/>
<path d="M1557.0 147.4 L1573.4 137.8" fill="none" stroke="#111" stroke-width="1.62"/>
<path d="M1559.8 139.2 L1608.9 106.4" fill="none" stroke="#111" stroke-width="1.25"/>
<path d="M1600.7 140.6 L1604.8 148.8" fill="none" stroke="#111" stroke-width="1.38"/>
<circle cx="1557.9" cy="88.1" r="3.3" fill="#fff" stroke="#111" stroke-width="2.00"/>
<circle cx="1557.9" cy="88.1" r="1.8" fill="#555" stroke="#111" stroke-width="1.50"/>
<path d="M1562.0 89.5 L1575.6 95.0 L1574.0 98.8 L1560.3 93.3 Z" fill="none" stroke="#111" stroke-width="1.62"/>
<path d="M1454.6 174.7 L1457.3 170.6 L1464.7 171.4 L1468.3 177.5 L1483.3 213.0 L1499.7 253.9 L1498.3 260.8 L1491.5 263.5 L1486.0 260.8 L1469.6 218.4 L1457.3 182.9 Z" fill="none" stroke="#111" stroke-width="2.00"/>
<circle cx="1459.5" cy="178.3" r="3.0" fill="none" stroke="#111" stroke-width="1.62"/>
<circle cx="1492.8" cy="256.1" r="3.0" fill="none" stroke="#111" stroke-width="1.62"/>
<circle cx="1477.8" cy="217.1" r="2.2" fill="#222"/>
<circle cx="1487.4" cy="240.3" r="2.2" fill="#222"/>
<path d="M1465.5 170.6 L1480.6 163.8 L1483.3 168.7 L1469.1 176.1 Z" fill="none" stroke="#111" stroke-width="1.75"/>
<path d="M1499.1 248.5 L1513.3 241.1 L1516.1 246.3 L1501.9 253.4 Z" fill="none" stroke="#111" stroke-width="1.75"/>
<path d="M1472.4 196.6 L1466.9 209.7 L1472.4 218.4" fill="none" stroke="#111" stroke-width="1.50"/>
<path d="M1574.8 203.4 L1577.5 198.8 L1584.4 199.3 L1587.6 204.8 L1618.5 285.3 L1615.8 292.2 L1610.3 293.5 L1606.2 290.8 L1576.2 209.7 Z" fill="none" stroke="#111" stroke-width="2.00"/>
<circle cx="1580.8" cy="206.1" r="3.0" fill="none" stroke="#111" stroke-width="1.62"/>
<circle cx="1610.3" cy="286.2" r="3.0" fill="none" stroke="#111" stroke-width="1.62"/>
<circle cx="1587.1" cy="223.3" r="2.2" fill="#222"/>
<circle cx="1591.2" cy="233.4" r="2.2" fill="#222"/>
<circle cx="1600.7" cy="258.0" r="2.2" fill="#222"/>
<circle cx="1604.8" cy="269.0" r="2.2" fill="#222"/>
<path d="M1585.7 198.8 L1600.7 191.7 L1603.5 196.6 L1588.5 203.9 Z" fill="none" stroke="#111" stroke-width="1.75"/>
<path d="M1616.6 277.2 L1630.8 269.8 L1633.5 275.0 L1619.3 282.6 Z" fill="none" stroke="#111" stroke-width="1.75"/>
<path d="M1866.6 202.0 L1870.7 193.8 L1877.5 192.5 L1882.5 196.6 L1880.3 208.9 L1874.8 221.2 L1851.6 286.7 L1849.7 300.4 L1855.1 308.6 L1853.0 318.1 L1835.2 330.4 L1828.4 344.1 L1805.2 412.4 L1799.7 427.4 L1792.9 430.7 L1787.4 426.0 L1790.1 412.4 L1809.3 346.8 L1820.2 319.5 L1828.4 303.1 L1836.6 270.3 L1861.2 213.0 Z" fill="none" stroke="#111" stroke-width="2.00"/>
<path d="M1871.5 217.1 L1844.8 286.7 L1842.0 303.1 L1831.1 322.2 L1820.2 346.8 L1799.7 409.6" fill="none" stroke="#111" stroke-width="1.50"/>
<path d="M1863.9 218.4 L1839.3 278.5 L1832.5 305.8 L1822.9 322.2 L1813.4 346.8 L1794.2 412.4" fill="none" stroke="#111" stroke-width="1.50"/>
<circle cx="1876.2" cy="202.0" r="2.2" fill="#222"/>
<circle cx="1848.9" cy="314.0" r="2.2" fill="#222"/>
<circle cx="1795.6" cy="423.3" r="2.2" fill="#222"/>
<path d="M1861.2 215.7 L1874.8 219.8" fill="none" stroke="#111" stroke-width="1.50"/>
<path d="M1791.5 411.0 L1805.2 413.7" fill="none" stroke="#111" stroke-width="1.50"/>
<path d="M1917.2 174.7 L1922.6 165.2 L1930.8 163.8 L1967.7 193.8 L1978.6 213.0 L1978.6 218.4 L2000.5 237.5 L2029.1 285.3 L2026.4 296.3 L2018.2 299.0 L2011.4 292.2 L1995.0 267.6 L1989.5 256.7 L1975.9 248.5 L1962.2 255.3 L1955.4 248.5 L1958.1 237.5 L1962.2 223.9 L1956.8 215.7 L1918.5 180.2 Z" fill="none" stroke="#111" stroke-width="2.00"/>
<path d="M1932.2 177.5 L1962.2 202.0 L1970.4 221.2 L1992.3 240.3 L2019.6 286.7" fill="none" stroke="#111" stroke-width="1.50"/>
<path d="M1937.6 174.7 L1969.1 200.7 L1974.5 218.4 L1997.7 240.3 L2023.7 284.0" fill="none" stroke="#111" stroke-width="1.50"/>
<circle cx="1926.2" cy="172.5" r="2.4" fill="#222"/>
<circle cx="1966.3" cy="247.1" r="2.4" fill="#222"/>
<circle cx="2023.7" cy="290.8" r="2.4" fill="#222"/>
<path d="M1874.8 326.3 L1995.0 258.0" fill="none" stroke="#111" stroke-width="2.12"/>
<path d="M1881.6 337.2 L2001.8 269.0" fill="none" stroke="#111" stroke-width="2.12"/>
<ellipse cx="1878.1" cy="331.8" rx="4.4" ry="6.0" transform="rotate(30.0 1878.1 331.8)" fill="none" stroke="#111" stroke-width="2.00"/>
<ellipse cx="1998.6" cy="263.5" rx="3.3" ry="5.5" transform="rotate(30.0 1998.6 263.5)" fill="none" stroke="#111" stroke-width="1.75"/>
<path d="M1895.3 316.8 L1900.8 326.3" fill="none" stroke="#111" stroke-width="1.38"/>
<path d="M1937.6 303.1 L1984.1 277.2" fill="none" stroke="#111" stroke-width="1.25"/>
<circle cx="1848.9" cy="188.4" r="4.4" fill="#fff" stroke="#111" stroke-width="2.00"/>
<circle cx="1848.9" cy="188.4" r="2.4" fill="#555" stroke="#111" stroke-width="1.50"/>
<circle cx="1901.6" cy="215.1" r="3.8" fill="#fff" stroke="#111" stroke-width="2.00"/>
<circle cx="1901.6" cy="215.1" r="2.1" fill="#555" stroke="#111" stroke-width="1.50"/>
<path d="M1887.1 206.1 L1898.0 210.8 L1896.7 215.1 L1885.7 210.2 Z" fill="none" stroke="#111" stroke-width="1.62"/>
<circle cx="1920.7" cy="237.5" r="3.6" fill="#fff" stroke="#111" stroke-width="2.00"/>
<circle cx="1920.7" cy="237.5" r="2.0" fill="#555" stroke="#111" stroke-width="1.50"/>
<path d="M1924.5 238.1 L1938.2 243.6 L1936.5 247.7 L1923.4 242.2 Z" fill="none" stroke="#111" stroke-width="1.62"/>
<circle cx="1806.0" cy="293.5" r="4.1" fill="#fff" stroke="#111" stroke-width="2.00"/>
<circle cx="1806.0" cy="293.5" r="2.3" fill="#555" stroke="#111" stroke-width="1.50"/>
<circle cx="2051.8" cy="304.5" r="4.6" fill="#fff" stroke="#111" stroke-width="2.00"/>
<circle cx="2051.8" cy="304.5" r="2.6" fill="#555" stroke="#111" stroke-width="1.50"/>
<circle cx="1822.4" cy="434.8" r="4.6" fill="#fff" stroke="#111" stroke-width="2.00"/>
<circle cx="1822.4" cy="434.8" r="2.6" fill="#555" stroke="#111" stroke-width="1.50"/>
<circle cx="1763.4" cy="404.7" r="3.6" fill="#fff" stroke="#111" stroke-width="2.00"/>
<circle cx="1763.4" cy="404.7" r="2.0" fill="#555" stroke="#111" stroke-width="1.50"/>
<path d="M1766.9 406.4 L1779.8 411.0 L1778.7 415.1 L1765.6 410.2 Z" fill="none" stroke="#111" stroke-width="1.62"/>
<path d="M2136.2 397.2 C2137.9 387.7 2142.9 353.4 2146.6 340.4 C2150.4 327.5 2153.1 324.7 2158.6 319.5 C2164.1 314.3 2171.5 310.8 2179.5 309.1 C2187.5 307.3 2192.5 307.3 2206.4 309.1 C2220.3 310.8 2249.7 316.3 2263.2 319.5 C2276.6 322.7 2277.6 322.2 2287.1 328.5 C2296.5 334.7 2314.5 352.1 2319.9 356.9" fill="none" stroke="#111" stroke-width="2.12"/>
<path d="M2319.9 356.9 L2550.0 600.1 L2597.8 641.9 L2612.7 659.8 L2624.7 671.8" fill="none" stroke="#111" stroke-width="2.12"/>
<path d="M2152.6 400.2 C2154.4 390.7 2159.8 355.1 2163.1 343.4 C2166.3 331.7 2168.3 333.2 2172.0 330.0 C2175.8 326.7 2179.3 325.0 2185.5 324.0 C2191.7 323.0 2195.4 321.9 2209.4 324.0 C2223.3 326.1 2256.2 333.0 2269.1 336.8 C2282.1 340.7 2282.1 343.4 2287.1 347.0 C2292.0 350.6 2297.0 356.5 2299.0 358.4" fill="none" stroke="#111" stroke-width="2.12"/>
<path d="M2299.0 358.4 L2535.1 600.1 L2587.3 644.9 L2597.8 668.8 L2612.7 683.7 L2624.7 671.8" fill="none" stroke="#111" stroke-width="2.12"/>
<path d="M2303.5 361.3 L2538.0 601.9" fill="none" stroke="#111" stroke-width="2.75"/>
<path d="M2136.2 397.2 C2136.0 399.2 2134.3 403.7 2135.3 409.1 C2136.3 414.6 2141.0 426.6 2142.2 430.1" fill="none" stroke="#111" stroke-width="2.12"/>
<path d="M2142.2 430.1 L2236.3 600.1 L2342.3 786.8 L2348.3 809.2 L2360.3 825.6 L2376.7 819.7 L2364.8 794.3 L2358.8 779.3 L2255.7 600.1 L2157.1 424.1" fill="none" stroke="#111" stroke-width="2.12"/>
<path d="M2152.6 400.2 C2152.7 402.2 2152.5 408.1 2153.2 412.1 C2154.0 416.1 2156.5 422.1 2157.1 424.1" fill="none" stroke="#111" stroke-width="1.88"/>
<path d="M2146.6 436.0 L2239.3 603.3 L2340.8 782.6" fill="none" stroke="#111" stroke-width="1.25"/>
<path d="M2343.8 785.6 L2361.8 779.6" fill="none" stroke="#111" stroke-width="1.50"/>
<path d="M2588.8 645.2 L2602.3 636.2" fill="none" stroke="#111" stroke-width="1.50"/>
<path d="M2146.6 340.4 L2163.1 343.4" fill="none" stroke="#111" stroke-width="1.38"/>
<path d="M2136.2 397.2 L2152.6 400.2" fill="none" stroke="#111" stroke-width="1.38"/>
<path d="M2142.2 430.1 L2157.1 424.1" fill="none" stroke="#111" stroke-width="1.38"/>
<path d="M2175.0 312.0 L2178.0 327.0" fill="none" stroke="#111" stroke-width="1.38"/>
<path d="M2206.4 309.1 L2203.4 324.0" fill="none" stroke="#111" stroke-width="1.38"/>
<path d="M2269.1 321.0 L2266.2 335.9" fill="none" stroke="#111" stroke-width="1.38"/>
<path d="M2299.0 338.9 L2291.6 349.4" fill="none" stroke="#111" stroke-width="1.38"/>
<path d="M2142.2 259.8 L2146.6 253.2 L2152.6 256.8 L2160.1 264.2 L2164.6 277.7 L2173.5 276.2 L2206.4 306.1 L2188.5 309.1 L2176.5 307.6 L2167.6 298.6 L2149.6 280.7 Z" fill="none" stroke="#111" stroke-width="2.00"/>
<path d="M2109.3 279.2 L2113.8 272.3 L2119.8 274.7 L2155.6 325.5 L2155.6 337.4 L2145.2 346.4 L2140.7 349.4 L2130.2 334.4 L2104.8 315.0 L2097.3 301.6 L2107.8 292.6 Z" fill="none" stroke="#111" stroke-width="2.00"/>
<circle cx="2147.5" cy="260.7" r="2.4" fill="#222"/>
<circle cx="2114.4" cy="279.2" r="2.4" fill="#222"/>
<circle cx="2169.1" cy="294.1" r="2.4" fill="#222"/>
<circle cx="2136.2" cy="312.0" r="2.4" fill="#222"/>
<circle cx="2110.8" cy="305.2" r="3.9" fill="#fff" stroke="#111" stroke-width="2.00"/>
<circle cx="2110.8" cy="305.2" r="2.1" fill="#555" stroke="#111" stroke-width="1.50"/>
<path d="M2119.8 289.6 L2146.6 331.5" fill="none" stroke="#111" stroke-width="1.38"/>
<path d="M2164.6 277.7 L2185.5 309.1" fill="none" stroke="#111" stroke-width="1.38"/>
<path d="M2104.8 315.0 L2119.8 301.6 L2140.7 331.5" fill="none" stroke="#111" stroke-width="1.38"/>
<path d="M2264.7 319.5 L2288.6 297.1 L2305.0 303.1 L2319.9 325.5 L2327.4 346.4 L2322.9 355.4 L2315.5 356.9 L2311.0 346.4 L2290.1 328.5" fill="none" stroke="#111" stroke-width="2.00"/>
<path d="M2288.6 297.1 L2291.6 331.5" fill="none" stroke="#111" stroke-width="1.62"/>
<path d="M2296.0 304.6 C2298.5 307.1 2307.0 313.5 2311.0 319.5 C2315.0 325.5 2318.9 334.9 2319.9 340.4 C2320.9 345.9 2317.4 350.4 2316.9 352.4" fill="none" stroke="#111" stroke-width="1.50"/>
<path d="M2299.0 313.5 C2300.0 315.5 2304.2 322.0 2305.0 325.5 C2305.7 329.0 2302.0 331.5 2303.5 334.4 C2305.0 337.4 2312.2 341.9 2314.0 343.4" fill="none" stroke="#111" stroke-width="1.50"/>
<circle cx="2281.1" cy="317.4" r="2.4" fill="#222"/>
<path d="M2337.9 374.8 L2360.3 343.4 L2378.2 355.4 L2376.7 362.8 L2357.3 394.2 Z" fill="none" stroke="#111" stroke-width="2.00"/>
<path d="M2360.3 353.9 L2372.2 361.3 L2369.2 365.8 L2357.3 358.4 Z" fill="none" stroke="#111" stroke-width="1.50"/>
<path d="M2342.3 376.3 L2362.4 347.9" fill="none" stroke="#111" stroke-width="1.38"/>
<path d="M2104.8 491.3 L2166.1 474.9 L2179.5 494.3 L2178.0 498.8 L2113.8 516.7 L2109.3 513.7 Z" fill="none" stroke="#111" stroke-width="2.00"/>
<path d="M2116.8 494.3 L2130.2 491.3 L2133.2 503.3 L2119.8 506.2 Z" fill="none" stroke="#111" stroke-width="1.50"/>
<path d="M2107.8 495.8 L2167.6 480.3" fill="none" stroke="#111" stroke-width="1.38"/>
<path d="M2112.3 512.2 L2176.5 495.8" fill="none" stroke="#111" stroke-width="1.38"/>
<path d="M2149.6 403.2 L2158.6 415.1 L2166.1 421.1 L2173.5 414.5 L2175.0 419.6 L2167.6 436.0 L2161.6 433.0" fill="none" stroke="#111" stroke-width="1.88"/>
<ellipse cx="2155.0" cy="410.6" rx="4.5" ry="9.0" transform="rotate(-25.0 2155.0 410.6)" fill="none" stroke="#111" stroke-width="1.62"/>
<circle cx="2627.7" cy="653.5" r="4.8" fill="#fff" stroke="#111" stroke-width="2.00"/>
<circle cx="2627.7" cy="653.5" r="2.6" fill="#555" stroke="#111" stroke-width="1.50"/>
<path d="M2315.5 822.6 L2327.4 813.6 L2336.4 815.1 L2343.8 824.1 L2330.4 836.0 L2343.8 851.0 L2361.8 862.9 L2375.2 858.4 L2367.7 854.0 L2357.3 854.0 L2346.8 839.0 L2354.3 836.0 L2367.7 842.0 L2364.8 848.0" fill="none" stroke="#111" stroke-width="1.88"/>
<path d="M2315.5 822.6 L2314.0 836.0 L2322.9 840.5 L2325.9 831.6" fill="none" stroke="#111" stroke-width="1.75"/>
<path d="M2327.4 813.6 L2328.9 827.1 L2346.8 851.0" fill="none" stroke="#111" stroke-width="1.50"/>
<circle cx="2382.1" cy="794.2" r="5.1" fill="#fff" stroke="#111" stroke-width="2.00"/>
<circle cx="2382.1" cy="794.2" r="2.8" fill="#555" stroke="#111" stroke-width="1.50"/>
<circle cx="2321.4" cy="867.4" r="4.5" fill="#fff" stroke="#111" stroke-width="2.00"/>
<circle cx="2321.4" cy="867.4" r="2.5" fill="#555" stroke="#111" stroke-width="1.50"/>
<path d="M2550.0 703.1 L2556.0 689.6 L2567.9 683.7 L2576.9 689.6 L2594.8 716.5 L2594.8 725.5 L2606.8 734.4 L2605.3 738.9 L2597.8 741.9 L2588.8 734.4 L2579.9 725.5 L2573.9 734.4 L2564.9 738.9 L2556.0 735.9 L2550.0 727.0 L2556.0 718.0 L2553.0 710.5 Z" fill="none" stroke="#111" stroke-width="1.88"/>
<path d="M2556.0 689.6 L2564.9 719.5 L2579.9 725.5" fill="none" stroke="#111" stroke-width="1.50"/>
<path d="M2567.9 683.7 L2573.9 716.5" fill="none" stroke="#111" stroke-width="1.38"/>
<path d="M2544.0 709.1 L2550.0 716.5" fill="none" stroke="#111" stroke-width="1.62"/>
<circle cx="2558.4" cy="730.0" r="2.3" fill="#222"/>
<circle cx="2599.3" cy="735.9" r="2.3" fill="#222"/>
<circle cx="2544.0" cy="755.4" r="3.6" fill="#fff" stroke="#111" stroke-width="2.00"/>
<circle cx="2544.0" cy="755.4" r="2.0" fill="#555" stroke="#111" stroke-width="1.50"/>
<path d="M2578.4 707.6 L2579.9 712.9 L2585.2 712.0" fill="none" stroke="#111" stroke-width="1.38"/>
<circle cx="2437.4" cy="925.7" r="3.6" fill="#fff" stroke="#111" stroke-width="2.00"/>
<circle cx="2437.4" cy="925.7" r="2.0" fill="#555" stroke="#111" stroke-width="1.50"/>
<ellipse cx="2439.4" cy="1014.7" rx="3.3" ry="2.4" transform="rotate(0.0 2439.4 1014.7)" fill="none" stroke="#111" stroke-width="1.50"/>
<path d="M1061.2 327.4 L1069.4 312.4 L1104.9 291.9 L1124.0 244.1 L1189.5 243.3 L1193.6 238.6 L1205.9 241.4 L1234.6 255.0 L1231.9 267.3 L1225.0 264.6 L1214.1 256.4 L1200.5 259.1 L1184.1 272.8 L1174.5 276.9 L1170.4 294.6 L1158.1 332.9 L1171.8 341.1 L1169.1 347.9 L1154.0 354.7 L1140.4 346.5 L1110.3 361.6 Z" fill="none" stroke="#111" stroke-width="2.00"/>
<path d="M1104.9 291.9 L1093.9 346.5 L1110.3 361.6" fill="none" stroke="#111" stroke-width="1.62"/>
<path d="M1128.1 278.2 L1109.0 357.5" fill="none" stroke="#111" stroke-width="1.50"/>
<path d="M1128.1 278.2 C1129.2 276.9 1125.6 273.7 1134.9 270.0 C1144.2 266.4 1174.1 260.0 1184.1 256.4 C1194.1 252.7 1193.2 249.6 1195.0 248.2" fill="none" stroke="#111" stroke-width="1.62"/>
<path d="M1151.3 289.2 L1137.6 346.5" fill="none" stroke="#111" stroke-width="1.62"/>
<path d="M1166.3 294.6 L1152.7 349.3" fill="none" stroke="#111" stroke-width="1.62"/>
<path d="M1158.1 291.9 L1144.5 347.9" fill="none" stroke="#111" stroke-width="1.25"/>
<path d="M1193.6 240.0 L1222.3 253.7 L1219.6 260.5" fill="none" stroke="#111" stroke-width="1.38"/>
<path d="M1205.9 245.5 L1227.8 257.8" fill="none" stroke="#111" stroke-width="1.38"/>
<ellipse cx="1163.6" cy="281.0" rx="5.5" ry="7.6" transform="rotate(15.0 1163.6 281.0)" fill="#000" stroke="#111" stroke-width="1.75"/>
<ellipse cx="1163.6" cy="281.0" rx="7.6" ry="9.8" transform="rotate(15.0 1163.6 281.0)" fill="none" stroke="#111" stroke-width="1.62"/>
<path d="M1147.2 290.5 C1148.1 289.6 1150.6 285.1 1152.7 285.1 C1154.7 285.1 1158.4 289.6 1159.5 290.5" fill="none" stroke="#111" stroke-width="1.62"/>
<path d="M1134.9 331.5 C1136.0 330.7 1139.5 326.9 1141.7 326.9 C1144.0 326.9 1147.4 330.7 1148.6 331.5" fill="none" stroke="#111" stroke-width="1.62"/>
<path d="M1145.8 291.9 L1160.9 291.9" fill="none" stroke="#111" stroke-width="1.62"/>
<path d="M1133.5 332.9 L1149.1 332.9" fill="none" stroke="#111" stroke-width="1.62"/>
<ellipse cx="1137.6" cy="251.5" rx="1.6" ry="2.2" transform="rotate(15.0 1137.6 251.5)" fill="none" stroke="#111" stroke-width="1.38"/>
<ellipse cx="1184.1" cy="250.9" rx="1.6" ry="2.2" transform="rotate(15.0 1184.1 250.9)" fill="none" stroke="#111" stroke-width="1.38"/>
<ellipse cx="1119.9" cy="276.1" rx="1.6" ry="2.2" transform="rotate(15.0 1119.9 276.1)" fill="none" stroke="#111" stroke-width="1.38"/>
<ellipse cx="1169.1" cy="268.7" rx="1.6" ry="2.2" transform="rotate(15.0 1169.1 268.7)" fill="none" stroke="#111" stroke-width="1.38"/>
<ellipse cx="1109.8" cy="313.2" rx="1.6" ry="2.2" transform="rotate(15.0 1109.8 313.2)" fill="none" stroke="#111" stroke-width="1.38"/>
<ellipse cx="1068.0" cy="321.9" rx="1.6" ry="2.2" transform="rotate(15.0 1068.0 321.9)" fill="none" stroke="#111" stroke-width="1.38"/>
<ellipse cx="1087.1" cy="316.5" rx="1.6" ry="2.2" transform="rotate(15.0 1087.1 316.5)" fill="none" stroke="#111" stroke-width="1.38"/>
<ellipse cx="1083.0" cy="330.1" rx="1.6" ry="2.2" transform="rotate(15.0 1083.0 330.1)" fill="none" stroke="#111" stroke-width="1.38"/>
<ellipse cx="1102.1" cy="341.1" rx="1.6" ry="2.2" transform="rotate(15.0 1102.1 341.1)" fill="none" stroke="#111" stroke-width="1.38"/>
<ellipse cx="1158.1" cy="305.6" rx="1.6" ry="2.2" transform="rotate(15.0 1158.1 305.6)" fill="none" stroke="#111" stroke-width="1.38"/>
<ellipse cx="1152.7" cy="321.9" rx="1.6" ry="2.2" transform="rotate(15.0 1152.7 321.9)" fill="none" stroke="#111" stroke-width="1.38"/>
<ellipse cx="1147.2" cy="341.1" rx="1.6" ry="2.2" transform="rotate(15.0 1147.2 341.1)" fill="none" stroke="#111" stroke-width="1.38"/>
<ellipse cx="1160.9" cy="342.4" rx="1.6" ry="2.2" transform="rotate(15.0 1160.9 342.4)" fill="none" stroke="#111" stroke-width="1.38"/>
<path d="M1126.7 565.0 L1230.5 506.3 L1234.6 502.8 L1348.0 443.5" fill="none" stroke="#111" stroke-width="2.38"/>
<path d="M1173.1 586.9 L1342.5 494.0" fill="none" stroke="#111" stroke-width="1.88"/>
<path d="M1184.1 593.7 L1309.7 525.4" fill="none" stroke="#111" stroke-width="1.50"/>
<path d="M900.0 371.1 L900.0 371.1" fill="none" stroke="#111" stroke-width="1.25"/>
<circle cx="1296.1" cy="485.8" r="7.6" fill="none" stroke="#111" stroke-width="2.00"/>
<circle cx="1296.1" cy="485.8" r="4.9" fill="none" stroke="#111" stroke-width="1.50"/>
<circle cx="1276.9" cy="498.9" r="2.5" fill="none" stroke="#111" stroke-width="1.50"/>
<circle cx="1317.4" cy="474.9" r="2.2" fill="none" stroke="#111" stroke-width="1.50"/>
<path d="M1150.3 782.0 C1143.4 785.9 1120.1 798.7 1109.3 805.9 C1098.5 813.0 1090.5 817.5 1085.4 824.6 C1080.3 831.7 1078.6 840.0 1078.6 848.5 C1078.6 857.1 1080.3 868.2 1085.4 875.8 C1090.5 883.5 1105.3 891.5 1109.3 894.6" fill="none" stroke="#111" stroke-width="2.12"/>
<path d="M1109.3 894.6 L1165.6 932.2 L1174.2 930.5" fill="none" stroke="#111" stroke-width="2.12"/>
<path d="M1160.5 788.8 C1152.5 793.1 1124.1 806.7 1112.7 814.4 C1101.3 822.1 1096.5 828.1 1092.2 834.9 C1088.0 841.7 1086.8 848.5 1087.1 855.4 C1087.4 862.2 1089.7 870.2 1093.9 875.8 C1098.2 881.5 1109.6 887.2 1112.7 889.5" fill="none" stroke="#111" stroke-width="1.50"/>
<path d="M1112.7 889.5 L1167.3 925.4" fill="none" stroke="#111" stroke-width="1.50"/>
<path d="M1155.4 785.4 C1148.0 789.5 1122.1 802.9 1111.0 810.3 C1099.9 817.7 1093.5 822.8 1088.8 829.8 C1084.1 836.7 1082.5 844.3 1082.7 851.9 C1082.8 859.6 1084.8 869.1 1089.5 875.8 C1094.2 882.6 1107.4 889.5 1111.0 892.2" fill="none" stroke="#444" stroke-width="1.25"/>
<path d="M1174.2 930.5 L1274.9 871.8" fill="none" stroke="#111" stroke-width="2.12"/>
<circle cx="1165.6" cy="792.2" r="2.4" fill="#222"/>
<circle cx="1179.3" cy="794.6" r="2.4" fill="#222"/>
<circle cx="1145.1" cy="814.4" r="2.4" fill="#222"/>
<circle cx="1123.6" cy="827.4" r="2.4" fill="#222"/>
<circle cx="1181.0" cy="914.1" r="2.4" fill="#222"/>
<circle cx="1225.4" cy="893.6" r="2.4" fill="#222"/>
<circle cx="1257.8" cy="875.8" r="2.4" fill="#222"/>
<circle cx="1272.5" cy="867.3" r="2.4" fill="#222"/>
<circle cx="1264.6" cy="857.1" r="2.4" fill="#222"/>
<circle cx="1288.5" cy="858.1" r="2.4" fill="#222"/>
<path d="M1181.0 797.3 L1249.3 838.3 L1262.9 840.0 L1269.8 831.5" fill="none" stroke="#111" stroke-width="2.12"/>
<path d="M1177.6 783.7 L1242.4 822.9 L1256.1 834.9" fill="none" stroke="#111" stroke-width="1.50"/>
<path d="M1201.5 770.0 L1225.4 773.4 L1251.0 821.2" fill="none" stroke="#111" stroke-width="1.62"/>
<path d="M1211.7 776.8 L1242.4 821.2" fill="none" stroke="#111" stroke-width="1.38"/>
<path d="M1225.4 773.4 L1249.3 783.7 L1276.6 793.9 L1283.4 800.7" fill="none" stroke="#111" stroke-width="1.88"/>
<circle cx="1258.8" cy="834.9" r="3.1" fill="none" stroke="#111" stroke-width="1.50"/>
<circle cx="1203.2" cy="790.5" r="3.1" fill="#fff" stroke="#111" stroke-width="2.00"/>
<circle cx="1203.2" cy="790.5" r="1.7" fill="#555" stroke="#111" stroke-width="1.50"/>
<path d="M1339.7 787.1 L1327.8 807.6 L1317.6 834.9 L1300.5 851.9 L1269.8 831.5" fill="none" stroke="#111" stroke-width="1.88"/>
<path d="M1269.8 814.4 L1300.5 851.9" fill="none" stroke="#111" stroke-width="1.50"/>
<path d="M1283.4 800.7 L1314.1 797.3 L1327.8 807.6" fill="none" stroke="#111" stroke-width="1.62"/>
<path d="M1310.7 807.6 L1300.5 851.9" fill="none" stroke="#111" stroke-width="1.38"/>
<path d="M1312.4 780.3 L1334.6 782.0 L1338.0 788.8 L1317.6 790.5 Z" fill="none" stroke="#111" stroke-width="1.62"/>
<circle cx="1280.0" cy="830.8" r="2.2" fill="#222"/>
<circle cx="1298.8" cy="826.3" r="2.2" fill="#222"/>
<circle cx="1317.6" cy="834.9" r="2.2" fill="#222"/>
<circle cx="1327.8" cy="800.7" r="2.2" fill="#222"/>
<path d="M1160.5 663.6 L1372.2 544.1" fill="none" stroke="#111" stroke-width="3.25"/>
<path d="M1163.9 672.2 L1379.0 552.7" fill="none" stroke="#111" stroke-width="1.50"/>
<path d="M1201.5 728.5 L1416.6 612.4" fill="none" stroke="#111" stroke-width="1.50"/>
<path d="M1208.3 737.0 L1423.4 620.9" fill="none" stroke="#111" stroke-width="1.50"/>
<path d="M1215.1 747.3 L1430.2 632.9" fill="none" stroke="#111" stroke-width="1.50"/>
<path d="M1225.4 755.1 L1437.0 640.4" fill="none" stroke="#111" stroke-width="1.88"/>
<path d="M1274.9 668.7 L1298.8 654.1 L1309.0 660.2 L1283.4 676.6 Z" fill="none" stroke="#111" stroke-width="1.75"/>
<path d="M1280.0 669.8 L1299.8 658.5" fill="none" stroke="#111" stroke-width="1.25"/>
<circle cx="1335.3" cy="663.6" r="4.8" fill="none" stroke="#111" stroke-width="1.75"/>
<circle cx="1262.2" cy="705.6" r="4.8" fill="none" stroke="#111" stroke-width="1.75"/>
<circle cx="1356.8" cy="594.7" r="2.4" fill="#222"/>
<circle cx="1371.5" cy="599.4" r="2.4" fill="#222"/>
<circle cx="1317.6" cy="617.5" r="2.4" fill="#222"/>
<circle cx="1285.8" cy="636.3" r="2.4" fill="#222"/>
<circle cx="1237.7" cy="671.5" r="2.4" fill="#222"/>
<circle cx="1380.7" cy="690.9" r="2.4" fill="#222"/>
<circle cx="1334.6" cy="716.5" r="2.4" fill="#222"/>
<circle cx="1288.5" cy="743.2" r="2.4" fill="#222"/>
<circle cx="1380.7" cy="747.3" r="2.4" fill="#222"/>
<circle cx="1408.7" cy="766.0" r="2.4" fill="#222"/>
<circle cx="1505.3" cy="607.3" r="2.4" fill="#222"/>
<circle cx="1659.0" cy="627.8" r="2.4" fill="#222"/>
<circle cx="1626.5" cy="662.9" r="2.4" fill="#222"/>
<circle cx="1595.8" cy="680.0" r="2.4" fill="#222"/>
<circle cx="1578.7" cy="688.2" r="2.4" fill="#222"/>
<circle cx="1524.1" cy="717.6" r="2.4" fill="#222"/>
<circle cx="1433.6" cy="648.3" r="4.1" fill="#fff" stroke="#111" stroke-width="2.00"/>
<circle cx="1433.6" cy="648.3" r="2.3" fill="#555" stroke="#111" stroke-width="1.50"/>
<circle cx="1433.6" cy="682.4" r="6.1" fill="#fff" stroke="#111" stroke-width="2.00"/>
<circle cx="1433.6" cy="682.4" r="3.4" fill="#555" stroke="#111" stroke-width="1.50"/>
<circle cx="1515.6" cy="701.9" r="4.4" fill="#fff" stroke="#111" stroke-width="2.00"/>
<circle cx="1515.6" cy="701.9" r="2.4" fill="#555" stroke="#111" stroke-width="1.50"/>
<path d="M1111.0 598.8 L1136.6 580.0 L1153.7 583.4 L1177.6 607.3 L1175.9 619.2 L1155.4 631.2 L1128.1 620.9 Z" fill="none" stroke="#111" stroke-width="1.88"/>
<circle cx="1117.8" cy="599.4" r="2.0" fill="#222"/>
<circle cx="1170.1" cy="610.7" r="2.0" fill="#222"/>
<path d="M1100.8 586.8 L1111.0 561.2 L1122.9 556.1 L1129.8 564.6 L1131.5 578.3" fill="none" stroke="#111" stroke-width="2.00"/>
<circle cx="1122.9" cy="566.3" r="2.5" fill="#222"/>
<path d="M1100.8 586.8 C1101.0 591.1 1101.0 601.3 1102.5 612.4 C1103.9 623.5 1107.6 640.9 1109.3 653.4 C1111.0 665.9 1110.4 677.9 1112.7 687.5 C1115.0 697.2 1117.3 702.3 1122.9 711.4 C1128.6 720.5 1141.2 733.6 1146.8 742.2 C1152.5 750.7 1154.8 756.9 1157.1 762.6 C1159.4 768.3 1156.5 770.6 1160.5 776.3 C1164.5 782.0 1177.6 793.4 1181.0 796.8" fill="none" stroke="#111" stroke-width="2.25"/>
<path d="M1146.8 632.9 C1148.6 638.0 1154.2 654.5 1157.1 663.6 C1159.9 672.7 1160.5 679.6 1163.9 687.5 C1167.3 695.5 1171.3 701.7 1177.6 711.4 C1183.8 721.1 1193.5 735.9 1201.5 745.6 C1209.4 755.2 1217.4 763.2 1225.4 769.5 C1233.3 775.7 1240.7 779.1 1249.3 783.1 C1257.8 787.1 1272.0 791.7 1276.6 793.4" fill="none" stroke="#111" stroke-width="2.25"/>
<path d="M1112.7 626.1 C1113.8 632.3 1117.3 652.2 1119.5 663.6 C1121.8 675.0 1121.8 683.5 1126.4 694.4 C1130.9 705.2 1140.0 718.3 1146.8 728.5 C1153.7 738.7 1161.6 746.7 1167.3 755.8 C1173.0 764.9 1178.7 778.6 1181.0 783.1" fill="none" stroke="#111" stroke-width="1.50"/>
<path d="M1140.0 629.5 C1141.4 635.2 1145.7 653.4 1148.6 663.6 C1151.4 673.9 1153.4 682.4 1157.1 690.9 C1160.8 699.5 1164.5 705.2 1170.7 714.8 C1177.0 724.5 1186.7 739.3 1194.6 749.0 C1202.6 758.7 1209.4 766.3 1218.5 772.9 C1227.6 779.4 1244.2 785.7 1249.3 788.2" fill="none" stroke="#111" stroke-width="1.50"/>
<path d="M1117.8 626.1 L1146.8 632.9" fill="none" stroke="#111" stroke-width="1.62"/>
<path d="M1122.9 632.9 L1126.4 656.8 L1140.0 660.2 L1143.4 638.0" fill="none" stroke="#111" stroke-width="1.62"/>
<path d="M1116.1 689.2 L1133.2 685.8 L1140.0 697.8 L1153.7 694.4" fill="none" stroke="#111" stroke-width="1.62"/>
<path d="M1133.2 714.8 L1160.5 704.6" fill="none" stroke="#111" stroke-width="1.50"/>
<path d="M1146.8 721.7 L1153.7 735.3 L1167.3 728.5" fill="none" stroke="#111" stroke-width="1.50"/>
<ellipse cx="1131.5" cy="691.6" rx="6.8" ry="4.8" transform="rotate(0.0 1131.5 691.6)" fill="none" stroke="#111" stroke-width="1.62"/>
<circle cx="1157.8" cy="734.6" r="4.8" fill="#fff" stroke="#111" stroke-width="2.00"/>
<circle cx="1157.8" cy="734.6" r="2.6" fill="#555" stroke="#111" stroke-width="1.50"/>
<path d="M1160.5 776.3 L1181.0 762.6 L1208.3 769.5" fill="none" stroke="#111" stroke-width="1.62"/>
<path d="M1181.0 749.0 L1201.5 776.3 L1215.1 796.8" fill="none" stroke="#111" stroke-width="1.62"/>
<path d="M1187.8 749.0 L1211.7 776.3" fill="none" stroke="#111" stroke-width="1.38"/>
<circle cx="1182.7" cy="755.8" r="3.4" fill="#fff" stroke="#111" stroke-width="2.00"/>
<circle cx="1182.7" cy="755.8" r="1.9" fill="#555" stroke="#111" stroke-width="1.50"/>
<circle cx="1196.4" cy="762.6" r="3.4" fill="#fff" stroke="#111" stroke-width="2.00"/>
<circle cx="1196.4" cy="762.6" r="1.9" fill="#555" stroke="#111" stroke-width="1.50"/>
<path d="M1105.5 585.8 C1105.8 590.1 1105.8 600.3 1107.2 611.4 C1108.7 622.5 1112.4 639.8 1114.1 652.4 C1115.8 664.9 1115.2 676.8 1117.5 686.5 C1119.8 696.2 1122.0 701.3 1127.7 710.4 C1133.4 719.5 1145.9 732.6 1151.6 741.1 C1157.3 749.7 1159.6 755.9 1161.9 761.6 C1164.1 767.3 1161.3 769.6 1165.3 775.3 C1169.3 781.0 1182.4 792.3 1185.8 795.8" fill="none" stroke="#111" stroke-width="1.50"/>
<path d="M1109.6 584.8 C1109.9 589.0 1109.9 599.3 1111.3 610.4 C1112.8 621.5 1116.5 638.8 1118.2 651.3 C1119.9 663.9 1119.3 675.8 1121.6 685.5 C1123.9 695.1 1126.1 700.3 1131.8 709.4 C1137.5 718.5 1150.0 731.6 1155.7 740.1 C1161.4 748.6 1163.7 754.9 1166.0 760.6 C1168.2 766.3 1165.4 768.6 1169.4 774.2 C1173.4 779.9 1186.5 791.3 1189.9 794.7" fill="none" stroke="#111" stroke-width="1.25"/>
<path d="M1142.1 634.6 C1143.8 639.7 1149.5 656.2 1152.3 665.3 C1155.2 674.4 1155.7 681.3 1159.1 689.2 C1162.6 697.2 1166.5 703.5 1172.8 713.1 C1179.1 722.8 1188.7 737.6 1196.7 747.3 C1204.7 756.9 1212.6 764.9 1220.6 771.2 C1228.6 777.4 1236.0 780.8 1244.5 784.8 C1253.0 788.8 1267.3 793.4 1271.8 795.1" fill="none" stroke="#111" stroke-width="1.50"/>
<path d="M1138.0 636.0 C1139.7 641.1 1145.4 657.6 1148.2 666.7 C1151.1 675.8 1151.6 682.6 1155.0 690.6 C1158.5 698.6 1162.4 704.8 1168.7 714.5 C1175.0 724.2 1184.6 739.0 1192.6 748.6 C1200.6 758.3 1208.5 766.3 1216.5 772.5 C1224.5 778.8 1231.9 782.2 1240.4 786.2 C1248.9 790.2 1263.2 794.7 1267.7 796.4" fill="none" stroke="#111" stroke-width="1.25"/>
<path d="M1112.7 612.4 L1145.1 629.5" fill="none" stroke="#111" stroke-width="1.38"/>
<path d="M1114.4 646.6 L1152.0 650.0" fill="none" stroke="#111" stroke-width="1.38"/>
<path d="M1117.8 680.7 L1160.5 677.3" fill="none" stroke="#111" stroke-width="1.38"/>
<path d="M1128.1 711.4 L1172.5 704.6" fill="none" stroke="#111" stroke-width="1.38"/>
<path d="M1150.3 742.2 L1196.4 738.7" fill="none" stroke="#111" stroke-width="1.38"/>
<path d="M1163.9 769.5 L1220.3 764.3" fill="none" stroke="#111" stroke-width="1.38"/>
<path d="M1357.5 428.1 C1356.6 435.4 1350.4 461.6 1352.4 472.4 C1354.4 483.2 1365.5 482.1 1369.4 492.9 C1373.4 503.7 1373.4 525.4 1376.3 537.3 C1379.1 549.3 1379.7 552.1 1386.5 564.6 C1393.3 577.1 1411.0 601.0 1417.2 612.4 C1423.5 623.8 1420.1 627.2 1424.1 632.9 C1428.1 638.6 1438.3 644.3 1441.1 646.6" fill="none" stroke="#111" stroke-width="1.50"/>
<path d="M1361.6 427.4 C1360.7 434.8 1354.5 460.9 1356.5 471.8 C1358.5 482.6 1369.6 481.4 1373.5 492.2 C1377.5 503.0 1377.5 524.7 1380.4 536.6 C1383.2 548.6 1383.8 551.4 1390.6 563.9 C1397.4 576.5 1415.1 600.4 1421.3 611.7 C1427.6 623.1 1424.2 626.5 1428.2 632.2 C1432.2 637.9 1442.4 643.6 1445.2 645.9" fill="none" stroke="#111" stroke-width="1.25"/>
<path d="M1395.4 497.7 C1396.5 504.5 1397.7 525.0 1402.2 538.7 C1406.8 552.3 1414.7 566.6 1422.7 579.6 C1430.7 592.7 1442.1 608.7 1450.0 617.2 C1458.0 625.7 1459.1 624.6 1470.5 630.8 C1481.9 637.1 1508.1 650.8 1518.3 654.7 C1528.5 658.7 1529.7 654.7 1532.0 654.7" fill="none" stroke="#111" stroke-width="1.50"/>
<path d="M1391.3 499.1 C1392.4 505.9 1393.6 526.4 1398.1 540.0 C1402.7 553.7 1410.6 567.9 1418.6 581.0 C1426.6 594.1 1438.0 610.0 1445.9 618.6 C1453.9 627.1 1455.0 626.0 1466.4 632.2 C1477.8 638.5 1504.0 652.1 1514.2 656.1 C1524.5 660.1 1525.6 656.1 1527.9 656.1" fill="none" stroke="#111" stroke-width="1.25"/>
<path d="M1367.1 510.0 L1401.2 506.6" fill="none" stroke="#111" stroke-width="1.38"/>
<path d="M1372.9 540.7 L1407.0 539.0" fill="none" stroke="#111" stroke-width="1.38"/>
<path d="M1385.8 568.0 L1420.0 566.3" fill="none" stroke="#111" stroke-width="1.38"/>
<path d="M1402.9 595.3 L1437.0 593.6" fill="none" stroke="#111" stroke-width="1.38"/>
<path d="M1420.0 626.1 L1460.9 622.7" fill="none" stroke="#111" stroke-width="1.38"/>
<path d="M1440.5 650.0 L1539.5 709.7" fill="none" stroke="#111" stroke-width="1.50"/>
<path d="M1445.6 644.8 L1544.6 704.6" fill="none" stroke="#111" stroke-width="1.25"/>
<path d="M1474.6 632.9 L1536.1 656.8" fill="none" stroke="#111" stroke-width="1.25"/>
<path d="M1381.7 437.6 L1421.7 486.1 L1604.3 595.3" fill="none" stroke="#111" stroke-width="1.25"/>
<path d="M1372.9 443.4 L1399.5 494.6 L1554.8 580.0" fill="none" stroke="#111" stroke-width="1.25"/>
<path d="M1568.2 583.1 C1567.9 588.7 1568.2 607.0 1566.4 617.2 C1564.7 627.4 1561.0 637.7 1557.9 644.5 C1554.8 651.3 1549.4 655.9 1547.7 658.2" fill="none" stroke="#111" stroke-width="1.50"/>
<path d="M1571.6 584.4 C1571.3 590.1 1571.6 608.3 1569.9 618.6 C1568.2 628.8 1564.5 639.0 1561.3 645.9 C1558.2 652.7 1552.8 657.3 1551.1 659.5" fill="none" stroke="#111" stroke-width="1.25"/>
<path d="M1300.5 755.8 L1348.3 725.8 L1355.1 730.2 L1365.4 731.9 L1363.6 737.0 L1344.9 745.6 L1338.0 766.0 L1334.6 783.1 L1317.6 796.8 L1293.7 803.6" fill="none" stroke="#111" stroke-width="1.88"/>
<path d="M1300.5 755.8 L1283.4 793.4 L1276.6 806.0" fill="none" stroke="#111" stroke-width="1.88"/>
<path d="M1307.3 759.2 L1344.9 735.3" fill="none" stroke="#111" stroke-width="1.38"/>
<path d="M1310.7 762.6 L1297.1 796.8" fill="none" stroke="#111" stroke-width="1.50"/>
<ellipse cx="1312.4" cy="762.6" rx="4.8" ry="3.4" transform="rotate(0.0 1312.4 762.6)" fill="none" stroke="#111" stroke-width="1.50"/>
<ellipse cx="1303.9" cy="776.3" rx="4.8" ry="3.4" transform="rotate(0.0 1303.9 776.3)" fill="none" stroke="#111" stroke-width="1.50"/>
<ellipse cx="1317.6" cy="781.4" rx="4.8" ry="3.4" transform="rotate(0.0 1317.6 781.4)" fill="none" stroke="#111" stroke-width="1.50"/>
<ellipse cx="1327.8" cy="789.9" rx="5.5" ry="3.4" transform="rotate(0.0 1327.8 789.9)" fill="none" stroke="#111" stroke-width="1.50"/>
<path d="M1353.4 428.1 L1365.4 416.1 L1373.9 421.2 L1377.3 433.2" fill="none" stroke="#111" stroke-width="2.12"/>
<path d="M1353.4 428.1 C1352.5 435.4 1346.3 461.6 1348.3 472.4 C1350.3 483.2 1361.4 482.1 1365.4 492.9 C1369.3 503.7 1369.3 525.4 1372.2 537.3 C1375.0 549.3 1375.6 552.1 1382.4 564.6 C1389.3 577.1 1406.9 601.0 1413.2 612.4 C1419.4 623.8 1416.0 627.2 1420.0 632.9 C1424.0 638.6 1434.2 644.3 1437.0 646.6" fill="none" stroke="#111" stroke-width="2.25"/>
<path d="M1437.0 646.6 L1542.9 711.4 L1549.7 708.0" fill="none" stroke="#111" stroke-width="2.25"/>
<path d="M1399.5 496.3 C1400.6 503.2 1401.8 523.6 1406.3 537.3 C1410.9 551.0 1418.8 565.2 1426.8 578.3 C1434.8 591.4 1446.2 607.3 1454.1 615.8 C1462.1 624.4 1463.2 623.2 1474.6 629.5 C1486.0 635.7 1512.2 649.4 1522.4 653.4 C1532.6 657.4 1533.8 653.4 1536.1 653.4" fill="none" stroke="#111" stroke-width="2.25"/>
<path d="M1358.5 448.5 C1359.1 454.2 1359.1 472.4 1361.9 482.7 C1364.8 492.9 1372.2 499.7 1375.6 510.0 C1379.0 520.2 1379.0 533.9 1382.4 544.1 C1385.8 554.4 1389.8 560.6 1396.1 571.4 C1402.3 582.3 1413.2 598.8 1420.0 609.0 C1426.8 619.2 1434.2 628.9 1437.0 632.9" fill="none" stroke="#111" stroke-width="1.50"/>
<path d="M1392.7 503.2 C1393.8 509.4 1394.9 528.2 1399.5 540.7 C1404.0 553.2 1412.0 565.8 1420.0 578.3 C1427.9 590.8 1438.2 606.4 1447.3 615.8 C1456.4 625.2 1462.7 627.5 1474.6 634.6 C1486.6 641.7 1511.6 654.5 1519.0 658.5" fill="none" stroke="#111" stroke-width="1.50"/>
<path d="M1377.3 433.2 L1420.0 482.7 L1607.8 593.6" fill="none" stroke="#111" stroke-width="2.25"/>
<path d="M1367.1 441.7 L1396.1 492.9 L1556.5 578.3 L1604.3 600.5" fill="none" stroke="#111" stroke-width="2.00"/>
<path d="M1385.8 448.5 L1423.4 489.5 L1600.9 595.3" fill="none" stroke="#111" stroke-width="1.38"/>
<path d="M1401.2 498.0 L1553.1 581.7" fill="none" stroke="#111" stroke-width="1.38"/>
<path d="M1607.8 593.6 L1604.3 600.5 L1583.9 609.0" fill="none" stroke="#111" stroke-width="1.88"/>
<ellipse cx="1370.5" cy="472.4" rx="6.8" ry="8.5" transform="rotate(0.0 1370.5 472.4)" fill="none" stroke="#111" stroke-width="1.88"/>
<path d="M1356.8 462.2 L1382.4 462.2 L1385.8 475.8 L1361.9 486.1" fill="none" stroke="#111" stroke-width="1.50"/>
<path d="M1351.7 448.5 L1375.6 451.9" fill="none" stroke="#111" stroke-width="1.50"/>
<path d="M1379.0 496.3 L1396.1 494.6 L1397.8 506.6 L1382.4 510.0" fill="none" stroke="#111" stroke-width="1.50"/>
<path d="M1385.8 510.0 L1399.5 523.6 L1396.1 530.5" fill="none" stroke="#111" stroke-width="1.50"/>
<circle cx="1392.7" cy="559.5" r="4.1" fill="none" stroke="#111" stroke-width="1.50"/>
<circle cx="1413.2" cy="593.6" r="4.1" fill="none" stroke="#111" stroke-width="1.50"/>
<circle cx="1377.3" cy="516.8" r="2.2" fill="#222"/>
<circle cx="1385.8" cy="537.3" r="2.2" fill="#222"/>
<circle cx="1425.1" cy="576.6" r="2.2" fill="#222"/>
<circle cx="1406.3" cy="554.4" r="2.2" fill="#222"/>
<path d="M1542.9 544.1 L1556.5 539.0 L1566.8 554.4 L1570.2 578.3 L1577.0 598.8 L1583.9 612.4 L1570.2 673.9 L1549.7 709.7" fill="none" stroke="#111" stroke-width="2.12"/>
<path d="M1556.5 578.3 C1556.3 584.0 1556.5 602.2 1554.8 612.4 C1553.1 622.7 1549.4 632.9 1546.3 639.7 C1543.2 646.6 1537.8 651.1 1536.1 653.4" fill="none" stroke="#111" stroke-width="2.12"/>
<path d="M1563.4 585.1 C1563.1 590.2 1563.4 606.2 1561.7 615.8 C1560.0 625.5 1556.3 636.3 1553.1 643.1 C1550.0 650.0 1544.6 654.5 1542.9 656.8" fill="none" stroke="#111" stroke-width="1.38"/>
<path d="M1536.1 653.4 L1529.2 687.5 L1542.9 711.4" fill="none" stroke="#111" stroke-width="1.75"/>
<path d="M1573.6 615.8 L1560.0 697.8" fill="none" stroke="#111" stroke-width="1.50"/>
<circle cx="1544.6" cy="547.5" r="2.2" fill="#222"/>
<circle cx="1557.2" cy="545.8" r="2.2" fill="#222"/>
<circle cx="1569.5" cy="626.1" r="2.2" fill="#222"/>
<circle cx="1556.5" cy="663.6" r="2.2" fill="#222"/>
<circle cx="1546.3" cy="697.8" r="2.2" fill="#222"/>
<circle cx="1544.6" cy="679.0" r="3.8" fill="none" stroke="#111" stroke-width="1.38"/>
<path d="M1437.0 632.9 L1460.9 639.7 L1474.6 629.5" fill="none" stroke="#111" stroke-width="1.62"/>
<path d="M1454.1 615.8 L1464.4 639.7 L1488.3 650.0" fill="none" stroke="#111" stroke-width="1.62"/>
<path d="M1488.3 646.6 L1501.9 667.0 L1529.2 680.7" fill="none" stroke="#111" stroke-width="1.50"/>
<path d="M1495.1 663.6 L1522.4 670.5" fill="none" stroke="#111" stroke-width="1.38"/>
<path d="M1426.8 615.8 L1447.3 612.4 L1454.1 626.1" fill="none" stroke="#111" stroke-width="1.50"/>
<circle cx="1440.5" cy="632.9" r="3.1" fill="#fff" stroke="#111" stroke-width="2.00"/>
<circle cx="1440.5" cy="632.9" r="1.7" fill="#555" stroke="#111" stroke-width="1.50"/>
<circle cx="1484.8" cy="641.4" r="3.1" fill="#fff" stroke="#111" stroke-width="2.00"/>
<circle cx="1484.8" cy="641.4" r="1.7" fill="#555" stroke="#111" stroke-width="1.50"/>
<path d="M1038.1 641.0 L1300.3 492.1" fill="none" stroke="#111" stroke-width="2.00"/>
<path d="M1068.2 655.2 L1303.1 520.3" fill="none" stroke="#111" stroke-width="1.50"/>
<path d="M1070.9 658.8 L1304.4 523.6" fill="none" stroke="#111" stroke-width="1.25"/>
<path d="M1185.6 777.6 L1196.5 773.5 L1212.9 774.9 L1226.6 769.4 L1420.5 660.1 L1417.8 657.4 L1423.3 651.9 L1420.5 643.7 L1431.4 635.5" fill="none" stroke="#111" stroke-width="2.00"/>
<path d="M1191.1 772.1 L1423.3 640.5" fill="none" stroke="#111" stroke-width="1.38"/>
<path d="M1226.6 774.9 L1426.0 662.9 L1431.4 669.7 L1245.7 780.9 Z" fill="none" stroke="#111" stroke-width="1.88"/>
<path d="M1230.7 772.1 L1424.6 666.1" fill="none" stroke="#111" stroke-width="1.25"/>
<path d="M1020.4 649.2 L1028.6 638.8 L1035.4 638.8 L1068.2 658.8 L1070.9 667.0 L1077.7 665.6 L1079.1 641.0 L1087.3 632.8 L1098.2 634.2 L1120.1 649.2 L1124.2 676.5 L1120.1 695.6 L1114.6 705.2 L1125.5 714.8 L1136.4 713.4 L1147.4 724.3 L1156.9 743.4 L1152.8 751.6 L1144.6 754.4 L1163.8 772.1 L1189.7 788.5 L1187.0 794.0 L1163.8 804.9 L1154.2 802.7 L1133.7 785.8 L1125.5 777.6 L1027.2 684.7 L1020.4 660.1 Z" fill="none" stroke="#111" stroke-width="2.00"/>
<path d="M1025.8 646.5 L1032.6 643.7 L1065.4 662.9 L1068.2 671.1 L1081.8 669.7 L1083.2 646.5 L1088.6 639.6" fill="none" stroke="#111" stroke-width="1.38"/>
<path d="M1040.8 669.7 L1117.3 706.6" fill="none" stroke="#111" stroke-width="1.62"/>
<path d="M1043.6 675.2 L1114.6 711.5" fill="none" stroke="#111" stroke-width="1.62"/>
<path d="M1049.0 684.7 L1122.8 720.2 L1139.2 747.5 L1144.6 755.7" fill="none" stroke="#111" stroke-width="1.38"/>
<path d="M1102.3 671.1 L1109.1 701.1" fill="none" stroke="#111" stroke-width="1.38"/>
<path d="M1111.9 671.1 L1116.0 701.1" fill="none" stroke="#111" stroke-width="1.38"/>
<path d="M1098.2 634.2 L1103.7 654.7 L1120.1 649.2" fill="none" stroke="#111" stroke-width="1.38"/>
<path d="M1141.9 755.7 L1166.5 785.8" fill="none" stroke="#111" stroke-width="1.50"/>
<path d="M1150.1 754.4 L1169.2 783.0" fill="none" stroke="#111" stroke-width="1.50"/>
<path d="M1012.2 687.4 L1016.3 683.3 L1133.7 784.4 L1129.6 788.0 Z" fill="none" stroke="#111" stroke-width="1.75"/>
<path d="M1014.9 690.7 L1128.8 785.2" fill="none" stroke="#111" stroke-width="3.25"/>
<circle cx="1028.6" cy="654.7" r="2.3" fill="#222"/>
<circle cx="1032.1" cy="673.8" r="2.3" fill="#222"/>
<circle cx="1084.0" cy="654.1" r="2.3" fill="#222"/>
<circle cx="1096.8" cy="659.6" r="2.3" fill="#222"/>
<circle cx="1113.2" cy="655.2" r="2.3" fill="#222"/>
<circle cx="1133.7" cy="722.4" r="2.3" fill="#222"/>
<circle cx="1147.9" cy="743.4" r="2.3" fill="#222"/>
<circle cx="1170.6" cy="784.4" r="2.3" fill="#222"/>
<circle cx="1185.1" cy="788.5" r="2.3" fill="#222"/>
<circle cx="1166.5" cy="798.9" r="2.3" fill="#222"/>
<circle cx="1173.3" cy="796.2" r="2.3" fill="#222"/>
<circle cx="1027.2" cy="688.8" r="2.3" fill="#222"/>
<circle cx="1061.3" cy="716.1" r="2.3" fill="#222"/>
<circle cx="1084.5" cy="739.3" r="2.3" fill="#222"/>
<circle cx="1113.2" cy="759.8" r="2.3" fill="#222"/>
<path d="M1300.3 492.1 L1303.1 481.2 L1311.3 477.1 L1333.1 488.0 L1355.0 504.4 L1368.6 499.0 L1365.9 481.2 L1360.4 475.8 L1368.6 471.1 L1382.3 473.0 L1391.8 481.2 L1398.7 534.5 L1406.9 550.9 L1426.0 572.7 L1450.6 594.6 L1450.6 602.8 L1475.2 619.2 L1475.2 627.4 L1450.6 639.6 L1439.6 636.9 L1420.5 621.9 L1412.3 611.0 L1406.9 602.8 L1311.3 520.8 L1300.3 504.4 Z" fill="none" stroke="#111" stroke-width="2.00"/>
<path d="M1305.8 485.3 L1314.0 482.6 L1333.1 493.5 L1355.0 509.9 L1371.4 504.4" fill="none" stroke="#111" stroke-width="1.38"/>
<path d="M1330.4 507.2 L1395.9 539.9" fill="none" stroke="#111" stroke-width="1.62"/>
<path d="M1333.1 511.8 L1398.7 546.0" fill="none" stroke="#111" stroke-width="1.62"/>
<path d="M1398.7 539.9 L1450.6 616.4" fill="none" stroke="#111" stroke-width="1.62"/>
<path d="M1406.9 550.9 L1453.3 621.9" fill="none" stroke="#111" stroke-width="1.38"/>
<path d="M1311.3 482.6 L1316.7 512.6 L1327.7 520.8" fill="none" stroke="#111" stroke-width="1.38"/>
<path d="M1382.3 474.4 L1387.7 537.2" fill="none" stroke="#111" stroke-width="1.38"/>
<ellipse cx="1386.9" cy="583.1" rx="6.0" ry="4.6" transform="rotate(25.0 1386.9 583.1)" fill="none" stroke="#111" stroke-width="1.75"/>
<ellipse cx="1406.9" cy="597.9" rx="6.0" ry="4.6" transform="rotate(25.0 1406.9 597.9)" fill="none" stroke="#111" stroke-width="1.75"/>
<ellipse cx="1400.0" cy="589.1" rx="3.3" ry="2.7" transform="rotate(0.0 1400.0 589.1)" fill="none" stroke="#111" stroke-width="1.75"/>
<circle cx="1305.8" cy="500.3" r="2.3" fill="#222"/>
<circle cx="1316.7" cy="521.4" r="2.3" fill="#222"/>
<circle cx="1323.0" cy="505.8" r="2.3" fill="#222"/>
<circle cx="1346.2" cy="546.8" r="2.3" fill="#222"/>
<circle cx="1374.6" cy="486.1" r="2.3" fill="#222"/>
<circle cx="1387.7" cy="497.6" r="2.3" fill="#222"/>
<circle cx="1378.2" cy="571.4" r="2.3" fill="#222"/>
<circle cx="1409.0" cy="564.5" r="2.3" fill="#222"/>
<circle cx="1421.9" cy="584.2" r="2.3" fill="#222"/>
<circle cx="1416.4" cy="605.5" r="2.3" fill="#222"/>
<circle cx="1445.1" cy="624.6" r="2.3" fill="#222"/>
<circle cx="1460.1" cy="628.7" r="2.3" fill="#222"/>
<circle cx="1467.0" cy="624.6" r="2.3" fill="#222"/>
<circle cx="1449.2" cy="635.5" r="2.3" fill="#222"/>
<ellipse cx="1329.0" cy="522.2" rx="1.9" ry="3.3" transform="rotate(20.0 1329.0 522.2)" fill="none" stroke="#111" stroke-width="1.38"/>
<ellipse cx="1356.3" cy="544.0" rx="1.9" ry="3.3" transform="rotate(20.0 1356.3 544.0)" fill="none" stroke="#111" stroke-width="1.38"/>
<ellipse cx="1383.6" cy="565.1" rx="1.9" ry="3.3" transform="rotate(20.0 1383.6 565.1)" fill="none" stroke="#111" stroke-width="1.38"/>
<circle cx="1277.7" cy="515.4" r="2.3" fill="#222"/>
<circle cx="1204.7" cy="557.7" r="2.3" fill="#222"/>
<circle cx="1228.5" cy="572.7" r="2.3" fill="#222"/>
<circle cx="1131.5" cy="600.0" r="2.3" fill="#222"/>
<circle cx="1206.6" cy="610.4" r="2.3" fill="#222"/>
<circle cx="1188.3" cy="621.3" r="2.3" fill="#222"/>
<circle cx="1131.0" cy="629.5" r="2.3" fill="#222"/>
<circle cx="1058.1" cy="642.6" r="2.3" fill="#222"/>
<circle cx="1251.2" cy="647.8" r="2.3" fill="#222"/>
<circle cx="1232.6" cy="658.8" r="2.3" fill="#222"/>
<circle cx="1295.7" cy="685.3" r="2.3" fill="#222"/>
<circle cx="1277.1" cy="695.6" r="2.3" fill="#222"/>
<ellipse cx="1368.6" cy="686.9" rx="3.8" ry="2.7" transform="rotate(-20.0 1368.6 686.9)" fill="none" stroke="#111" stroke-width="1.50"/>
<ellipse cx="1346.2" cy="699.7" rx="3.8" ry="2.7" transform="rotate(-20.0 1346.2 699.7)" fill="none" stroke="#111" stroke-width="1.50"/>
<ellipse cx="1292.1" cy="731.1" rx="3.8" ry="2.7" transform="rotate(-20.0 1292.1 731.1)" fill="none" stroke="#111" stroke-width="1.50"/>
<ellipse cx="1268.9" cy="744.0" rx="3.8" ry="2.7" transform="rotate(-20.0 1268.9 744.0)" fill="none" stroke="#111" stroke-width="1.50"/>
<circle cx="1425.2" cy="670.5" r="2.0" fill="#222"/>
<circle cx="1380.9" cy="697.0" r="2.0" fill="#222"/>
<circle cx="1339.9" cy="715.3" r="2.0" fill="#222"/>
<circle cx="1333.1" cy="722.4" r="2.0" fill="#222"/>
<circle cx="1320.8" cy="725.7" r="2.0" fill="#222"/>
<circle cx="1288.0" cy="750.3" r="2.0" fill="#222"/>
<circle cx="1241.6" cy="775.4" r="2.0" fill="#222"/>
<path d="M1394.4 770.5 L1641.2 621.7 L1702.9 587.6 L1750.1 609.4 L2820.8 1151.6 L2820.8 1162.5 L2472.3 1365.7 L2432.4 1383.9 L1369.0 799.5 Z" fill="#fff" stroke="#fff" stroke-width="0.12"/>
<path d="M1369.0 799.5 L2432.4 1383.9 L2483.2 1461.6 L1982.3 1278.6 L1953.3 1249.6 L1902.5 1260.5 L1434.3 1089.9 L1510.5 1060.9 L1517.8 1039.1 L1416.1 1017.3 L1372.6 995.5 L1321.8 952.0 L1329.0 872.1 Z" fill="#fff" stroke="#fff" stroke-width="0.12"/>
<path d="M1394.4 770.5 L1641.2 621.7 L1677.5 603.6 L1702.9 587.6 L1717.4 589.0 L1750.1 609.4" fill="none" stroke="#111" stroke-width="2.00"/>
<path d="M2200.1 848.9 L2820.8 1151.6" fill="none" stroke="#111" stroke-width="2.00"/>
<path d="M2820.8 1162.5 L2472.3 1365.7" fill="none" stroke="#111" stroke-width="1.88"/>
<path d="M1378.8 777.7 L2431.5 1375.8" fill="none" stroke="#111" stroke-width="1.75"/>
<path d="M1378.8 785.0 L2428.0 1381.0" fill="none" stroke="#111" stroke-width="1.50"/>
<path d="M1378.8 846.4 L2428.5 1381.8" fill="none" stroke="#111" stroke-width="1.75"/>
<path d="M1380.0 850.5 L2428.0 1385.0" fill="none" stroke="#111" stroke-width="1.38"/>
<path d="M1434.3 1089.9 L1902.5 1260.5 L1953.3 1249.6 L1982.3 1278.6 L2483.2 1461.6" fill="none" stroke="#111" stroke-width="2.75"/>
<path d="M1434.3 1089.9 L1510.5 1060.9 L1517.8 1039.1 L1579.5 1047.8" fill="none" stroke="#111" stroke-width="1.88"/>
<path d="M1445.2 1084.1 L1909.8 1253.2" fill="none" stroke="#111" stroke-width="1.25"/>
<path d="M2066.6 1297.5 C2067.3 1299.5 2068.2 1307.0 2070.9 1309.1 C2073.6 1311.3 2079.6 1311.3 2082.5 1310.6 C2085.4 1309.9 2087.4 1305.7 2088.3 1304.8" fill="none" stroke="#111" stroke-width="1.62"/>
<path d="M2142.8 1330.9 C2143.5 1332.8 2144.5 1340.3 2147.1 1342.5 C2149.8 1344.7 2155.8 1344.7 2158.7 1344.0 C2161.6 1343.2 2163.6 1339.1 2164.5 1338.2" fill="none" stroke="#111" stroke-width="1.62"/>
<path d="M2215.4 1361.4 C2216.1 1363.3 2217.1 1370.8 2219.7 1373.0 C2222.4 1375.2 2228.4 1375.2 2231.3 1374.5 C2234.2 1373.7 2236.2 1369.6 2237.1 1368.7" fill="none" stroke="#111" stroke-width="1.62"/>
<path d="M2291.6 1396.2 C2292.3 1398.2 2293.3 1405.7 2295.9 1407.9 C2298.6 1410.0 2304.6 1410.0 2307.5 1409.3 C2310.5 1408.6 2312.4 1404.5 2313.4 1403.5" fill="none" stroke="#111" stroke-width="1.62"/>
<path d="M2371.4 1426.7 C2372.2 1428.7 2373.1 1436.2 2375.8 1438.3 C2378.4 1440.5 2384.5 1440.5 2387.4 1439.8 C2390.3 1439.1 2392.2 1435.0 2393.2 1434.0" fill="none" stroke="#111" stroke-width="1.62"/>
<path d="M2444.0 1459.4 C2444.7 1461.3 2445.7 1468.8 2448.4 1471.0 C2451.0 1473.2 2457.1 1473.2 2460.0 1472.5 C2462.9 1471.7 2464.8 1467.6 2465.8 1466.6" fill="none" stroke="#111" stroke-width="1.62"/>
<path d="M1329.0 872.1 L1378.8 846.4 L1490.9 906.2 L1575.8 1010.8 L1578.7 1043.4 L1570.0 1055.8 L1516.3 1034.7 L1414.7 1018.0 L1375.5 998.4 L1339.9 968.7 L1314.5 923.0 Z" fill="#fff" stroke="#111" stroke-width="2.00"/>
<ellipse cx="1371.1" cy="921.5" rx="24.7" ry="33.4" transform="rotate(-25.0 1371.1 921.5)" fill="none" stroke="#111" stroke-width="2.00"/>
<path d="M1456.1 941.1 C1458.5 938.7 1466.4 946.5 1470.6 952.0 C1474.8 957.4 1476.6 967.7 1481.5 973.8 C1486.3 979.8 1496.0 983.4 1499.6 988.3 C1503.3 993.1 1505.7 999.8 1503.3 1002.8 C1500.8 1005.8 1490.5 1008.8 1485.1 1006.4 C1479.7 1004.0 1475.4 994.9 1470.6 988.3 C1465.7 981.6 1458.5 974.4 1456.1 966.5 C1453.6 958.6 1453.6 943.5 1456.1 941.1 Z" fill="none" stroke="#111" stroke-width="1.75"/>
<circle cx="1398.0" cy="879.4" r="2.6" fill="none" stroke="#111" stroke-width="1.62"/>
<circle cx="1419.8" cy="893.9" r="2.6" fill="none" stroke="#111" stroke-width="1.62"/>
<circle cx="1441.6" cy="908.4" r="2.6" fill="none" stroke="#111" stroke-width="1.62"/>
<circle cx="1408.9" cy="937.5" r="2.6" fill="none" stroke="#111" stroke-width="1.62"/>
<circle cx="1445.2" cy="952.0" r="2.6" fill="none" stroke="#111" stroke-width="1.62"/>
<circle cx="1510.5" cy="962.9" r="2.6" fill="none" stroke="#111" stroke-width="1.62"/>
<circle cx="1535.9" cy="977.4" r="2.6" fill="none" stroke="#111" stroke-width="1.62"/>
<circle cx="1554.1" cy="995.5" r="2.6" fill="none" stroke="#111" stroke-width="1.62"/>
<circle cx="1517.8" cy="995.5" r="2.6" fill="none" stroke="#111" stroke-width="1.62"/>
<circle cx="1496.0" cy="1020.9" r="2.6" fill="none" stroke="#111" stroke-width="1.62"/>
<circle cx="1532.3" cy="1031.8" r="2.6" fill="none" stroke="#111" stroke-width="1.62"/>
<circle cx="1550.4" cy="1035.5" r="2.6" fill="none" stroke="#111" stroke-width="1.62"/>
<circle cx="1565.0" cy="1024.6" r="2.6" fill="none" stroke="#111" stroke-width="1.62"/>
<circle cx="1470.6" cy="1017.3" r="2.6" fill="none" stroke="#111" stroke-width="1.62"/>
<circle cx="1430.7" cy="1006.4" r="2.6" fill="none" stroke="#111" stroke-width="1.62"/>
<circle cx="1372.6" cy="981.0" r="2.6" fill="none" stroke="#111" stroke-width="1.62"/>
<circle cx="1343.6" cy="966.5" r="2.6" fill="none" stroke="#111" stroke-width="1.62"/>
<circle cx="1470.6" cy="915.7" r="2.6" fill="none" stroke="#111" stroke-width="1.62"/>
<circle cx="1481.5" cy="937.5" r="2.6" fill="none" stroke="#111" stroke-width="1.62"/>
<path d="M1514.1 1100.8 C1515.4 1093.5 1541.4 1074.8 1554.1 1071.8 C1566.8 1068.7 1591.6 1075.4 1590.4 1082.6 C1589.2 1089.9 1559.5 1112.3 1546.8 1115.3 C1534.1 1118.3 1512.9 1108.1 1514.1 1100.8 Z" fill="none" stroke="#111" stroke-width="1.75"/>
<path d="M1561.3 1122.6 C1561.9 1115.3 1591.0 1099.0 1604.9 1097.2 C1618.8 1095.4 1645.4 1104.4 1644.8 1111.7 C1644.2 1118.9 1615.2 1138.9 1601.2 1140.7 C1587.3 1142.5 1560.7 1129.8 1561.3 1122.6 Z" fill="none" stroke="#111" stroke-width="1.75"/>
<path d="M1659.3 1155.2 C1658.7 1148.6 1688.4 1134.7 1702.9 1133.5 C1717.4 1132.3 1745.8 1141.3 1746.4 1148.0 C1747.0 1154.6 1721.0 1172.2 1706.5 1173.4 C1692.0 1174.6 1659.9 1161.9 1659.3 1155.2 Z" fill="none" stroke="#111" stroke-width="1.75"/>
<path d="M1746.4 1191.5 C1747.0 1184.9 1773.6 1171.0 1786.4 1169.8 C1799.1 1168.5 1823.3 1177.6 1822.6 1184.3 C1822.0 1190.9 1795.4 1208.5 1782.7 1209.7 C1770.0 1210.9 1745.8 1198.2 1746.4 1191.5 Z" fill="none" stroke="#111" stroke-width="1.75"/>
<path d="M1800.9 1209.7 C1802.1 1203.6 1828.7 1192.1 1840.8 1191.5 C1852.9 1190.9 1874.7 1200.0 1873.5 1206.1 C1872.3 1212.1 1845.6 1227.2 1833.5 1227.8 C1821.4 1228.4 1799.7 1215.7 1800.9 1209.7 Z" fill="none" stroke="#111" stroke-width="1.75"/>
<path d="M1855.3 1231.5 C1855.9 1226.0 1880.1 1216.9 1891.6 1216.9 C1903.1 1216.9 1924.9 1226.0 1924.3 1231.5 C1923.7 1236.9 1899.5 1249.6 1888.0 1249.6 C1876.5 1249.6 1854.7 1236.9 1855.3 1231.5 Z" fill="none" stroke="#111" stroke-width="1.75"/>
<path d="M1572.2 991.9 L1641.2 1075.4" fill="none" stroke="#111" stroke-width="1.50"/>
<path d="M1578.0 989.0 L1647.0 1072.5" fill="none" stroke="#111" stroke-width="1.50"/>
<path d="M1633.9 1024.6 L1699.2 1100.8" fill="none" stroke="#111" stroke-width="1.50"/>
<path d="M1639.7 1021.7 L1705.1 1097.9" fill="none" stroke="#111" stroke-width="1.50"/>
<path d="M1695.6 1057.2 L1757.3 1126.2" fill="none" stroke="#111" stroke-width="1.50"/>
<path d="M1701.4 1054.3 L1763.1 1123.3" fill="none" stroke="#111" stroke-width="1.50"/>
<path d="M2125.3 1125.5 L2364.9 994.8 L2362.0 989.0 L2122.4 1119.7 Z" fill="none" stroke="#111" stroke-width="1.50"/>
<path d="M2234.2 1194.4 L2484.7 1055.1 L2481.8 1049.3 L2231.3 1188.6 Z" fill="none" stroke="#111" stroke-width="1.50"/>
<path d="M2325.0 1245.2 L2582.7 1101.5 L2579.8 1095.7 L2322.1 1239.4 Z" fill="none" stroke="#111" stroke-width="1.50"/>
<path d="M2364.9 1270.7 L2626.2 1125.5 L2623.3 1119.7 L2362.0 1264.8 Z" fill="none" stroke="#111" stroke-width="1.50"/>
<path d="M2459.3 1325.1 L2727.8 1176.3 L2724.9 1170.5 L2456.4 1319.3 Z" fill="none" stroke="#111" stroke-width="1.50"/>
<path d="M1929.4 1045.6 L2212.5 889.6 L2209.6 883.8 L1926.5 1039.8 Z" fill="none" stroke="#111" stroke-width="1.50"/>
<path d="M2272.7 1193.0 L2396.1 1187.2 L2396.1 1181.4 L2272.7 1187.2 Z" fill="none" stroke="#111" stroke-width="1.50"/>
<path d="M2555.8 1183.5 L2690.1 1176.3 L2690.1 1170.5 L2555.8 1177.7 Z" fill="none" stroke="#111" stroke-width="1.50"/>
<path d="M2473.1 1071.8 L2471.6 1140.7 L2477.4 1140.7 L2478.9 1071.8 Z" fill="none" stroke="#111" stroke-width="1.50"/>
<path d="M2464.3 1229.3 L2460.7 1304.0 L2466.5 1304.0 L2470.2 1229.3 Z" fill="none" stroke="#111" stroke-width="1.50"/>
<path d="M1485.1 792.3 L1931.5 1031.8" fill="none" stroke="#111" stroke-width="3.00"/>
<path d="M1492.4 803.2 L1917.0 1035.5 L1931.5 1031.8" fill="none" stroke="#111" stroke-width="1.50"/>
<path d="M1506.9 790.8 L1938.8 1024.6" fill="none" stroke="#111" stroke-width="1.50"/>
<path d="M1485.1 792.3 L1506.9 790.8" fill="none" stroke="#111" stroke-width="1.50"/>
<path d="M1808.1 977.4 L1815.4 966.5 L1824.1 979.6" fill="none" stroke="#111" stroke-width="1.75"/>
<ellipse cx="1617.9" cy="714.6" rx="10.9" ry="5.1" transform="rotate(0.0 1617.9 714.6)" fill="none" stroke="#111" stroke-width="1.75"/>
<path d="M1607.1 714.6 L1607.1 739.3" fill="none" stroke="#111" stroke-width="1.75"/>
<path d="M1628.8 714.6 L1628.8 739.3" fill="none" stroke="#111" stroke-width="1.75"/>
<ellipse cx="1617.9" cy="742.2" rx="19.6" ry="8.7" transform="rotate(0.0 1617.9 742.2)" fill="none" stroke="#111" stroke-width="1.75"/>
<ellipse cx="1617.9" cy="740.7" rx="12.3" ry="5.1" transform="rotate(0.0 1617.9 740.7)" fill="none" stroke="#111" stroke-width="1.38"/>
<ellipse cx="1676.0" cy="703.7" rx="10.9" ry="5.1" transform="rotate(0.0 1676.0 703.7)" fill="none" stroke="#111" stroke-width="1.75"/>
<path d="M1665.1 703.7 L1665.1 728.4" fill="none" stroke="#111" stroke-width="1.75"/>
<path d="M1686.9 703.7 L1686.9 728.4" fill="none" stroke="#111" stroke-width="1.75"/>
<ellipse cx="1676.0" cy="731.3" rx="19.6" ry="8.7" transform="rotate(0.0 1676.0 731.3)" fill="none" stroke="#111" stroke-width="1.75"/>
<ellipse cx="1676.0" cy="729.9" rx="12.3" ry="5.1" transform="rotate(0.0 1676.0 729.9)" fill="none" stroke="#111" stroke-width="1.38"/>
<ellipse cx="1496.0" cy="819.9" rx="9.4" ry="5.8" transform="rotate(0.0 1496.0 819.9)" fill="none" stroke="#111" stroke-width="1.75"/>
<ellipse cx="1496.0" cy="819.9" rx="5.1" ry="2.9" transform="rotate(0.0 1496.0 819.9)" fill="none" stroke="#111" stroke-width="1.38"/>
<ellipse cx="2109.4" cy="868.5" rx="9.4" ry="5.8" transform="rotate(0.0 2109.4 868.5)" fill="none" stroke="#111" stroke-width="1.50"/>
<ellipse cx="1896.7" cy="991.9" rx="8.7" ry="5.1" transform="rotate(0.0 1896.7 991.9)" fill="none" stroke="#111" stroke-width="1.50"/>
<circle cx="2351.1" cy="1454.3" r="6.5" fill="#fff" stroke="#111" stroke-width="2.00"/>
<circle cx="2351.1" cy="1454.3" r="3.6" fill="#555" stroke="#111" stroke-width="1.50"/>
<path d="M2358.4 1449.2 L2368.5 1444.1" fill="none" stroke="#111" stroke-width="3.75"/>
<circle cx="2372.9" cy="1467.4" r="6.5" fill="#fff" stroke="#111" stroke-width="2.00"/>
<circle cx="2372.9" cy="1467.4" r="3.6" fill="#555" stroke="#111" stroke-width="1.50"/>
<path d="M2380.1 1462.3 L2390.3 1457.2" fill="none" stroke="#111" stroke-width="3.75"/>
<circle cx="2381.6" cy="1510.9" r="6.5" fill="#fff" stroke="#111" stroke-width="2.00"/>
<circle cx="2381.6" cy="1510.9" r="3.6" fill="#555" stroke="#111" stroke-width="1.50"/>
<path d="M2388.9 1505.8 L2399.0 1500.8" fill="none" stroke="#111" stroke-width="3.75"/>
<path d="M1966.4 1335.3 L1982.3 1323.6 L2065.8 1357.0 L2070.9 1373.0 L2062.2 1412.9 L2033.2 1402.0 L2015.0 1365.7 Z" fill="none" stroke="#111" stroke-width="1.88"/>
<path d="M1966.4 1335.3 L2054.9 1371.6 L2070.9 1373.0" fill="none" stroke="#111" stroke-width="1.50"/>
<path d="M2054.9 1371.6 L2062.2 1412.9" fill="none" stroke="#111" stroke-width="1.38"/>
<circle cx="2025.9" cy="1378.8" r="1.8" fill="#222"/>
<circle cx="2041.9" cy="1374.5" r="1.8" fill="#222"/>
<circle cx="2044.0" cy="1394.8" r="1.8" fill="#222"/>
<circle cx="2054.9" cy="1398.4" r="1.8" fill="#222"/>
<path d="M1982.3 1282.3 L2040.4 1293.2 L2033.2 1329.5 L2015.0 1322.2 L1989.6 1300.4 Z" fill="none" stroke="#111" stroke-width="1.75"/>
<circle cx="2000.5" cy="1293.2" r="1.8" fill="#222"/>
<circle cx="2015.0" cy="1296.8" r="1.8" fill="#222"/>
<circle cx="2025.9" cy="1314.9" r="1.8" fill="#222"/>
<circle cx="2007.8" cy="1307.7" r="1.8" fill="#222"/>
<path d="M1543.2 1297.5 C1547.4 1296.8 1560.1 1293.4 1568.6 1293.2 C1577.1 1292.9 1585.5 1293.6 1594.0 1296.1 C1602.5 1298.5 1615.2 1305.7 1619.4 1307.7" fill="none" stroke="#111" stroke-width="2.00"/>
<path d="M1619.4 1307.7 L2650.7 1861.2 L2524.0 1934.0" fill="none" stroke="#111" stroke-width="2.00"/>
<ellipse cx="1617.9" cy="1371.6" rx="10.2" ry="5.1" transform="rotate(0.0 1617.9 1371.6)" fill="none" stroke="#111" stroke-width="1.75"/>
<path d="M1607.8 1371.6 L1607.8 1393.3" fill="none" stroke="#111" stroke-width="1.75"/>
<path d="M1628.1 1371.6 L1628.1 1393.3" fill="none" stroke="#111" stroke-width="1.75"/>
<ellipse cx="1617.9" cy="1394.8" rx="16.0" ry="7.3" transform="rotate(0.0 1617.9 1394.8)" fill="none" stroke="#111" stroke-width="1.75"/>
<ellipse cx="1676.0" cy="1360.7" rx="10.2" ry="5.1" transform="rotate(0.0 1676.0 1360.7)" fill="none" stroke="#111" stroke-width="1.75"/>
<path d="M1665.9 1360.7 L1665.9 1382.4" fill="none" stroke="#111" stroke-width="1.75"/>
<path d="M1686.2 1360.7 L1686.2 1382.4" fill="none" stroke="#111" stroke-width="1.75"/>
<ellipse cx="1676.0" cy="1383.9" rx="16.0" ry="7.3" transform="rotate(0.0 1676.0 1383.9)" fill="none" stroke="#111" stroke-width="1.75"/>
<circle cx="1710.1" cy="1360.7" r="1.6" fill="#222"/>
<circle cx="1597.6" cy="1425.3" r="1.6" fill="#222"/>
<circle cx="2176.9" cy="1612.6" r="1.6" fill="#222"/>
<circle cx="2063.6" cy="1677.9" r="1.6" fill="#222"/>
<circle cx="1635.4" cy="1560.3" r="5.1" fill="#fff" stroke="#111" stroke-width="2.00"/>
<circle cx="1635.4" cy="1560.3" r="2.8" fill="#555" stroke="#111" stroke-width="1.50"/>
<path d="M1628.7 493.8 L1637.1 493.2 L1638.3 558.0 L1631.7 565.5 L1622.7 564.0 L1629.3 558.0 Z" fill="none" stroke="#111" stroke-width="1.88"/>
<circle cx="1632.6" cy="504.2" r="2.0" fill="#222"/>
<circle cx="1615.9" cy="523.7" r="2.1" fill="#fff" stroke="#111" stroke-width="2.00"/>
<circle cx="1615.9" cy="523.7" r="1.2" fill="#555" stroke="#111" stroke-width="1.50"/>
<path d="M1725.8 484.8 L1749.7 465.4 L2191.9 695.5 L2190.4 702.9 L2169.5 716.4 Z" fill="none" stroke="#111" stroke-width="2.00"/>
<path d="M1725.8 484.8 L2169.5 716.4" fill="none" stroke="#111" stroke-width="3.00"/>
<path d="M1739.3 478.8 L2182.9 708.9" fill="none" stroke="#111" stroke-width="1.38"/>
<path d="M1743.7 475.3 L2187.4 705.3" fill="none" stroke="#111" stroke-width="1.38"/>
<path d="M1751.2 469.9 L2190.4 699.9" fill="none" stroke="#111" stroke-width="1.25"/>
<circle cx="1737.8" cy="485.4" r="2.2" fill="#222"/>
<circle cx="1819.3" cy="529.6" r="2.2" fill="#222"/>
<circle cx="1834.9" cy="537.7" r="2.2" fill="#222"/>
<circle cx="1869.2" cy="554.1" r="2.2" fill="#222"/>
<circle cx="1918.5" cy="579.8" r="2.2" fill="#222"/>
<circle cx="1987.2" cy="615.7" r="2.2" fill="#222"/>
<circle cx="2036.5" cy="641.7" r="2.2" fill="#222"/>
<circle cx="2067.9" cy="659.6" r="2.2" fill="#222"/>
<circle cx="2083.5" cy="667.7" r="2.2" fill="#222"/>
<circle cx="2169.5" cy="710.4" r="2.2" fill="#222"/>
<path d="M1734.8 655.8 L1758.7 636.4 L2200.9 866.5 L2199.4 873.9 L2178.5 887.4 Z" fill="none" stroke="#111" stroke-width="2.00"/>
<path d="M1734.8 655.8 L2178.5 887.4" fill="none" stroke="#111" stroke-width="3.00"/>
<path d="M1748.3 649.8 L2191.9 879.9" fill="none" stroke="#111" stroke-width="1.38"/>
<path d="M1752.7 646.3 L2196.4 876.3" fill="none" stroke="#111" stroke-width="1.38"/>
<path d="M1760.2 640.9 L2199.4 870.9" fill="none" stroke="#111" stroke-width="1.25"/>
<circle cx="1746.8" cy="656.4" r="2.2" fill="#222"/>
<circle cx="1828.3" cy="700.6" r="2.2" fill="#222"/>
<circle cx="1843.9" cy="708.7" r="2.2" fill="#222"/>
<circle cx="1878.2" cy="725.1" r="2.2" fill="#222"/>
<circle cx="1927.5" cy="750.8" r="2.2" fill="#222"/>
<circle cx="1996.2" cy="786.7" r="2.2" fill="#222"/>
<circle cx="2045.5" cy="812.7" r="2.2" fill="#222"/>
<circle cx="2076.9" cy="830.6" r="2.2" fill="#222"/>
<circle cx="2092.5" cy="838.7" r="2.2" fill="#222"/>
<circle cx="2178.5" cy="881.4" r="2.2" fill="#222"/>
<path d="M1946.9 897.1 L1972.3 852.3 L2182.9 725.3 L2190.4 725.3 L2235.2 750.7 L2233.7 758.2 L1957.4 913.6 Z" fill="#fff" stroke="#111" stroke-width="2.00"/>
<path d="M1957.4 913.6 L2233.7 758.2" fill="none" stroke="#111" stroke-width="3.00"/>
<path d="M1976.8 856.8 L2187.4 729.8" fill="none" stroke="#111" stroke-width="1.50"/>
<path d="M1969.3 882.2 L2221.8 740.3" fill="none" stroke="#111" stroke-width="1.38"/>
<path d="M1973.8 886.7 L2226.3 744.8" fill="none" stroke="#111" stroke-width="1.38"/>
<path d="M1972.3 852.3 L1957.4 913.6" fill="none" stroke="#111" stroke-width="1.38"/>
<path d="M2012.6 837.4 L2029.1 825.4 L2030.6 843.3 L2014.1 855.3 Z" fill="none" stroke="#111" stroke-width="1.75"/>
<path d="M2132.2 768.7 L2148.6 756.7 L2151.0 774.6 L2133.6 786.6 Z" fill="none" stroke="#111" stroke-width="1.75"/>
<circle cx="1967.8" cy="896.5" r="2.4" fill="#222"/>
<circle cx="1981.3" cy="892.6" r="2.4" fill="#222"/>
<circle cx="2005.2" cy="879.2" r="2.4" fill="#222"/>
<circle cx="2020.1" cy="870.2" r="2.4" fill="#222"/>
<circle cx="2166.5" cy="786.6" r="2.4" fill="#222"/>
<circle cx="2181.5" cy="777.6" r="2.4" fill="#222"/>
<circle cx="2205.4" cy="764.2" r="2.4" fill="#222"/>
<circle cx="2212.8" cy="755.2" r="2.4" fill="#222"/>
<circle cx="1969.3" cy="846.3" r="2.4" fill="#222"/>
<path d="M1799.0 586.4 C1809.0 586.5 1845.8 585.8 1858.8 587.3 C1871.7 588.8 1871.2 591.0 1876.7 595.4 C1882.2 599.7 1882.2 596.4 1891.6 613.3 C1901.1 630.2 1926.5 683.0 1933.5 696.9" fill="none" stroke="#111" stroke-width="2.00"/>
<path d="M1805.0 601.3 C1813.0 601.6 1841.8 601.1 1852.8 602.8 C1863.8 604.6 1865.2 607.1 1870.7 611.8 C1876.2 616.5 1877.2 616.5 1885.7 631.2 C1894.1 645.9 1915.5 688.5 1921.5 699.9" fill="none" stroke="#111" stroke-width="2.00"/>
<path d="M1751.2 592.4 L1799.0 586.4" fill="none" stroke="#111" stroke-width="1.75"/>
<path d="M1754.2 602.8 L1805.0 601.3" fill="none" stroke="#111" stroke-width="1.75"/>
<path d="M1855.8 587.9 L1854.3 602.8" fill="none" stroke="#111" stroke-width="1.38"/>
<path d="M1888.7 628.2 L1900.6 622.3" fill="none" stroke="#111" stroke-width="1.38"/>
<circle cx="1755.7" cy="596.0" r="4.2" fill="#fff" stroke="#111" stroke-width="2.00"/>
<circle cx="1755.7" cy="596.0" r="2.3" fill="#555" stroke="#111" stroke-width="1.50"/>
<path d="M1769.1 607.3 L1793.0 607.3 L1796.0 622.3 L1775.1 619.3 Z" fill="none" stroke="#111" stroke-width="1.62"/>
<path d="M1560.0 667.1 L1630.2 622.3 L1658.6 603.7 L1673.5 602.8 L1706.4 584.9 L1721.3 592.4 L1876.7 679.0" fill="none" stroke="#111" stroke-width="1.88"/>
<path d="M1487.4 788.9 L1738.5 644.7 L1741.5 648.5 L1490.5 793.0 Z" fill="none" stroke="#111" stroke-width="1.50"/>
<path d="M1397.7 710.9 L1541.9 627.2" fill="none" stroke="#111" stroke-width="1.88"/>
<circle cx="1672.9" cy="614.8" r="2.6" fill="#222"/>
<circle cx="1637.1" cy="619.9" r="2.6" fill="#222"/>
<circle cx="1661.6" cy="643.2" r="2.6" fill="#222"/>
<circle cx="1682.5" cy="644.7" r="2.6" fill="#222"/>
<circle cx="1649.6" cy="650.6" r="2.6" fill="#222"/>
<circle cx="1613.8" cy="638.7" r="2.6" fill="#222"/>
<circle cx="1649.6" cy="672.4" r="2.6" fill="#222"/>
<circle cx="1583.9" cy="662.6" r="2.6" fill="#222"/>
<path d="M1671.1 637.2 L1674.7 637.2 L1674.7 650.6 L1671.1 650.6 Z" fill="none" stroke="#111" stroke-width="1.50"/>
<path d="M1879.7 702.9 L1885.7 694.0 L1897.6 691.0 L1906.6 708.9 L1918.5 723.8 L1921.5 735.8 L1912.6 741.8 L1903.6 750.7 L1888.7 752.2 L1878.2 744.8 L1881.2 726.8" fill="none" stroke="#111" stroke-width="1.88"/>
<circle cx="1910.2" cy="720.8" r="3.9" fill="#fff" stroke="#111" stroke-width="2.00"/>
<circle cx="1910.2" cy="720.8" r="2.1" fill="#555" stroke="#111" stroke-width="1.50"/>
<circle cx="1890.1" cy="744.8" r="3.3" fill="#fff" stroke="#111" stroke-width="2.00"/>
<circle cx="1890.1" cy="744.8" r="1.8" fill="#555" stroke="#111" stroke-width="1.50"/>
<circle cx="1927.5" cy="747.7" r="3.3" fill="#fff" stroke="#111" stroke-width="2.00"/>
<circle cx="1927.5" cy="747.7" r="1.8" fill="#555" stroke="#111" stroke-width="1.50"/>
<path d="M1885.7 696.9 L1894.6 726.8 L1903.6 747.7" fill="none" stroke="#111" stroke-width="1.50"/>
<path d="M1631.7 849.3 L1639.2 837.4 L1652.6 837.4 L1664.6 858.3 L1679.5 870.2 L1681.0 876.2 L1658.6 877.7 L1634.7 870.2" fill="none" stroke="#111" stroke-width="1.88"/>
<circle cx="1661.6" cy="862.8" r="3.9" fill="#fff" stroke="#111" stroke-width="2.00"/>
<circle cx="1661.6" cy="862.8" r="2.1" fill="#555" stroke="#111" stroke-width="1.50"/>
<circle cx="1682.5" cy="888.2" r="3.3" fill="#fff" stroke="#111" stroke-width="2.00"/>
<circle cx="1682.5" cy="888.2" r="1.8" fill="#555" stroke="#111" stroke-width="1.50"/>
<circle cx="1709.4" cy="705.9" r="3.0" fill="none" stroke="#111" stroke-width="1.50"/>
<circle cx="1796.0" cy="753.7" r="3.0" fill="none" stroke="#111" stroke-width="1.50"/>
<circle cx="1882.7" cy="800.0" r="3.0" fill="none" stroke="#111" stroke-width="1.50"/>
<circle cx="1683.1" cy="818.8" r="3.0" fill="none" stroke="#111" stroke-width="1.50"/>
<circle cx="1769.1" cy="865.8" r="3.0" fill="none" stroke="#111" stroke-width="1.50"/>
<circle cx="1595.9" cy="771.0" r="3.0" fill="none" stroke="#111" stroke-width="1.50"/>
<circle cx="1988.7" cy="783.6" r="3.0" fill="none" stroke="#111" stroke-width="1.50"/>
<circle cx="1996.2" cy="786.6" r="3.0" fill="none" stroke="#111" stroke-width="1.50"/>
<circle cx="2132.2" cy="856.8" r="3.0" fill="none" stroke="#111" stroke-width="1.50"/>
<circle cx="2209.8" cy="867.8" r="3.0" fill="none" stroke="#111" stroke-width="1.50"/>
<circle cx="2056.0" cy="893.5" r="3.0" fill="none" stroke="#111" stroke-width="1.50"/>
<circle cx="1855.8" cy="713.4" r="3.0" fill="none" stroke="#111" stroke-width="1.50"/>
<circle cx="1843.8" cy="705.9" r="3.0" fill="none" stroke="#111" stroke-width="1.50"/>
<circle cx="1828.9" cy="699.9" r="3.0" fill="none" stroke="#111" stroke-width="1.50"/>
<circle cx="1793.0" cy="680.5" r="3.0" fill="none" stroke="#111" stroke-width="1.50"/>
<circle cx="1748.2" cy="654.5" r="3.0" fill="none" stroke="#111" stroke-width="1.50"/>
<ellipse cx="2111.2" cy="869.3" rx="9.0" ry="5.1" transform="rotate(0.0 2111.2 869.3)" fill="none" stroke="#111" stroke-width="1.62"/>
<ellipse cx="2111.2" cy="869.3" rx="4.2" ry="2.4" transform="rotate(0.0 2111.2 869.3)" fill="none" stroke="#111" stroke-width="1.38"/>
<path d="M1746.7 726.8 L1754.2 723.8 L1760.2 729.8 L1752.7 732.8 Z" fill="none" stroke="#111" stroke-width="1.50"/>
<path d="M1734.8 847.8 L1742.3 844.8 L1747.6 852.3 L1739.3 854.7 Z" fill="none" stroke="#111" stroke-width="1.50"/>
<path d="M1963.3 713.4 L1969.3 714.9 L1972.3 720.8 L1984.3 723.8 L1993.2 731.3 L2005.2 738.8 L2017.1 744.8" fill="none" stroke="#111" stroke-width="1.62"/>
<path d="M1020.9 1006.1 L1062.7 980.7 L1071.7 980.1 L1113.5 1007.6 L1143.4 1049.4 L1155.4 1058.4 L1239.0 1095.7 L1256.9 1094.2 L1310.7 1086.7 L1369.0 1121.1 L1534.8 1194.3 L1533.3 1200.3 L1466.1 1228.7 L1457.1 1228.7 L1298.8 1171.9 L1283.8 1164.4 L1227.1 1136.0 L1107.6 1067.3 L1092.6 1067.3 L1067.2 1052.4 L1071.7 1046.4 L1059.8 1037.4 L1053.8 1043.4 L1046.3 1034.4 L1059.8 1028.5 Z" fill="none" stroke="#111" stroke-width="2.00"/>
<path d="M1059.8 1028.5 L1110.5 1003.1" fill="none" stroke="#111" stroke-width="1.38"/>
<path d="M1071.7 1046.4 L1115.0 1012.0" fill="none" stroke="#111" stroke-width="1.38"/>
<path d="M1286.8 1164.4 L1369.0 1122.6" fill="none" stroke="#111" stroke-width="1.38"/>
<path d="M1227.1 1136.0 L1298.8 1171.9 L1457.1 1228.7" fill="none" stroke="#111" stroke-width="2.75"/>
<path d="M1243.5 1127.1 C1240.8 1121.3 1253.5 1112.2 1264.4 1112.7 C1275.4 1113.2 1306.5 1124.3 1309.2 1130.1 C1312.0 1135.8 1291.8 1147.9 1280.8 1147.4 C1269.9 1146.9 1246.2 1132.8 1243.5 1127.1 Z" fill="none" stroke="#111" stroke-width="1.88"/>
<path d="M1360.0 1180.8 C1360.0 1174.1 1391.4 1154.7 1406.3 1152.5 C1421.3 1150.2 1449.7 1160.7 1449.7 1167.4 C1449.7 1174.1 1421.3 1190.6 1406.3 1192.8 C1391.4 1195.0 1360.0 1187.6 1360.0 1180.8 Z" fill="none" stroke="#111" stroke-width="1.88"/>
<path d="M1421.3 1204.8 C1421.8 1198.5 1452.1 1180.1 1466.1 1177.9 C1480.0 1175.6 1505.4 1185.1 1504.9 1191.3 C1504.4 1197.5 1477.0 1213.0 1463.1 1215.2 C1449.2 1217.4 1420.8 1211.0 1421.3 1204.8 Z" fill="none" stroke="#111" stroke-width="1.88"/>
<path d="M1246.5 1125.6 L1265.9 1116.6" fill="none" stroke="#111" stroke-width="1.25"/>
<path d="M1363.0 1179.4 L1400.4 1156.9" fill="none" stroke="#111" stroke-width="1.25"/>
<path d="M1424.3 1203.3 L1460.1 1182.3" fill="none" stroke="#111" stroke-width="1.25"/>
<circle cx="1038.8" cy="998.0" r="2.2" fill="#222"/>
<circle cx="1086.0" cy="1001.6" r="2.2" fill="#222"/>
<circle cx="1112.0" cy="1027.9" r="2.2" fill="#222"/>
<circle cx="1146.4" cy="1057.8" r="2.2" fill="#222"/>
<circle cx="1159.2" cy="1082.9" r="2.2" fill="#222"/>
<circle cx="1205.6" cy="1119.6" r="2.2" fill="#222"/>
<circle cx="1228.6" cy="1127.7" r="2.2" fill="#222"/>
<circle cx="1342.1" cy="1159.3" r="2.2" fill="#222"/>
<circle cx="1388.4" cy="1136.0" r="2.2" fill="#222"/>
<circle cx="1388.4" cy="1151.9" r="2.2" fill="#222"/>
<circle cx="1354.0" cy="1182.3" r="2.2" fill="#222"/>
<circle cx="1273.4" cy="991.1" r="3.3" fill="#fff" stroke="#111" stroke-width="2.00"/>
<circle cx="1273.4" cy="991.1" r="1.8" fill="#555" stroke="#111" stroke-width="1.50"/>
<circle cx="1310.7" cy="1013.5" r="3.3" fill="#fff" stroke="#111" stroke-width="2.00"/>
<circle cx="1310.7" cy="1013.5" r="1.8" fill="#555" stroke="#111" stroke-width="1.50"/>
<circle cx="1343.6" cy="1031.5" r="3.3" fill="#fff" stroke="#111" stroke-width="2.00"/>
<circle cx="1343.6" cy="1031.5" r="1.8" fill="#555" stroke="#111" stroke-width="1.50"/>
<circle cx="1380.9" cy="1038.9" r="3.3" fill="#fff" stroke="#111" stroke-width="2.00"/>
<circle cx="1380.9" cy="1038.9" r="1.8" fill="#555" stroke="#111" stroke-width="1.50"/>
<circle cx="1233.0" cy="937.3" r="3.3" fill="#fff" stroke="#111" stroke-width="2.00"/>
<circle cx="1233.0" cy="937.3" r="1.8" fill="#555" stroke="#111" stroke-width="1.50"/>
<circle cx="1225.6" cy="920.9" r="3.3" fill="#fff" stroke="#111" stroke-width="2.00"/>
<circle cx="1225.6" cy="920.9" r="1.8" fill="#555" stroke="#111" stroke-width="1.50"/>
<circle cx="1192.7" cy="913.4" r="3.3" fill="#fff" stroke="#111" stroke-width="2.00"/>
<circle cx="1192.7" cy="913.4" r="1.8" fill="#555" stroke="#111" stroke-width="1.50"/>
<circle cx="1171.8" cy="922.4" r="3.3" fill="#fff" stroke="#111" stroke-width="2.00"/>
<circle cx="1171.8" cy="922.4" r="1.8" fill="#555" stroke="#111" stroke-width="1.50"/>
<circle cx="1209.1" cy="904.5" r="3.3" fill="#fff" stroke="#111" stroke-width="2.00"/>
<circle cx="1209.1" cy="904.5" r="1.8" fill="#555" stroke="#111" stroke-width="1.50"/>
<ellipse cx="1427.2" cy="1061.0" rx="2.7" ry="1.5" transform="rotate(0.0 1427.2 1061.0)" fill="none" stroke="#111" stroke-width="1.62"/>
<path d="M1427.2 1061.6 L1427.2 1066.4" fill="none" stroke="#111" stroke-width="3.00"/>
<ellipse cx="1451.2" cy="1068.5" rx="2.7" ry="1.5" transform="rotate(0.0 1451.2 1068.5)" fill="none" stroke="#111" stroke-width="1.62"/>
<path d="M1451.2 1069.1 L1451.2 1073.9" fill="none" stroke="#111" stroke-width="3.00"/>
<ellipse cx="1475.1" cy="1077.5" rx="2.7" ry="1.5" transform="rotate(0.0 1475.1 1077.5)" fill="none" stroke="#111" stroke-width="1.62"/>
<path d="M1475.1 1078.1 L1475.1 1082.9" fill="none" stroke="#111" stroke-width="3.00"/>
<ellipse cx="1509.4" cy="1089.4" rx="2.7" ry="1.5" transform="rotate(0.0 1509.4 1089.4)" fill="none" stroke="#111" stroke-width="1.62"/>
<path d="M1509.4 1090.0 L1509.4 1094.8" fill="none" stroke="#111" stroke-width="3.00"/>
<ellipse cx="1542.3" cy="1101.4" rx="2.7" ry="1.5" transform="rotate(0.0 1542.3 1101.4)" fill="none" stroke="#111" stroke-width="1.62"/>
<path d="M1542.3 1102.0 L1542.3 1106.8" fill="none" stroke="#111" stroke-width="3.00"/>
<ellipse cx="1645.4" cy="1135.7" rx="2.7" ry="1.5" transform="rotate(0.0 1645.4 1135.7)" fill="none" stroke="#111" stroke-width="1.62"/>
<path d="M1645.4 1136.3 L1645.4 1141.1" fill="none" stroke="#111" stroke-width="3.00"/>
<ellipse cx="1240.5" cy="958.0" rx="2.7" ry="1.5" transform="rotate(0.0 1240.5 958.0)" fill="none" stroke="#111" stroke-width="1.62"/>
<path d="M1240.5 958.6 L1240.5 963.3" fill="none" stroke="#111" stroke-width="3.00"/>
<ellipse cx="1286.8" cy="972.9" rx="2.7" ry="1.5" transform="rotate(0.0 1286.8 972.9)" fill="none" stroke="#111" stroke-width="1.62"/>
<path d="M1286.8 973.5 L1286.8 978.3" fill="none" stroke="#111" stroke-width="3.00"/>
<ellipse cx="1386.9" cy="1047.6" rx="2.7" ry="1.5" transform="rotate(0.0 1386.9 1047.6)" fill="none" stroke="#111" stroke-width="1.62"/>
<path d="M1386.9 1048.2 L1386.9 1053.0" fill="none" stroke="#111" stroke-width="3.00"/>
<circle cx="1454.1" cy="1088.8" r="4.0" fill="#222"/>
<circle cx="1493.0" cy="1102.6" r="4.0" fill="#222"/>
<circle cx="1546.8" cy="1119.6" r="4.0" fill="#222"/>
<circle cx="1602.0" cy="1139.0" r="4.0" fill="#222"/>
<circle cx="1655.8" cy="1115.1" r="4.0" fill="#222"/>
<circle cx="1597.6" cy="1089.7" r="4.0" fill="#222"/>
<path d="M926.4 1194.6 C918.4 1208.0 888.7 1257.3 878.4 1275.2 C868.2 1293.2 867.2 1293.2 865.0 1302.1 C862.7 1311.1 863.4 1319.4 865.0 1329.0 C866.6 1338.6 869.1 1346.9 874.6 1359.7 C880.0 1372.6 890.6 1394.3 897.6 1405.8 C904.7 1417.4 909.8 1422.5 916.8 1428.9 C923.9 1435.3 936.0 1441.7 939.9 1444.3" fill="none" stroke="#111" stroke-width="2.00"/>
<path d="M939.9 1444.3 L1558.3 1659.4" fill="none" stroke="#111" stroke-width="2.00"/>
<path d="M1558.3 1659.4 C1561.5 1659.5 1571.8 1661.1 1577.5 1660.1 C1583.3 1659.2 1590.3 1654.7 1592.9 1653.6" fill="none" stroke="#111" stroke-width="2.00"/>
<path d="M1592.9 1653.6 L1702.4 1578.7" fill="none" stroke="#111" stroke-width="2.00"/>
<path d="M936.0 1209.9 C928.0 1223.1 897.3 1272.4 888.0 1288.7 C878.7 1305.0 881.6 1301.8 880.3 1307.9 C879.1 1314.0 879.1 1317.8 880.3 1325.2 C881.6 1332.5 882.9 1339.9 888.0 1352.1 C893.1 1364.2 904.7 1387.3 911.1 1398.2 C917.5 1409.0 920.7 1412.1 926.4 1417.4 C932.2 1422.6 942.4 1427.6 945.6 1429.7" fill="none" stroke="#111" stroke-width="2.00"/>
<path d="M945.6 1429.7 L1562.2 1640.9" fill="none" stroke="#111" stroke-width="2.00"/>
<path d="M1562.2 1640.9 C1564.4 1641.1 1571.8 1642.5 1575.6 1642.1 C1579.4 1641.6 1583.6 1638.9 1585.2 1638.2" fill="none" stroke="#111" stroke-width="2.00"/>
<path d="M1585.2 1638.2 L1694.7 1567.2" fill="none" stroke="#111" stroke-width="2.00"/>
<path d="M909.1 1229.1 L926.4 1194.6 L930.3 1193.8 L938.0 1208.0 L918.7 1234.9 Z" fill="#bbb" stroke="#111" stroke-width="1.88"/>
<path d="M916.8 1225.3 L930.3 1202.3" fill="none" stroke="#111" stroke-width="2.75"/>
<path d="M1664.0 1588.3 L1698.5 1562.6 L1706.2 1572.9 L1669.7 1597.9 Z" fill="#bbb" stroke="#111" stroke-width="1.88"/>
<path d="M1669.7 1590.2 L1698.5 1570.2" fill="none" stroke="#111" stroke-width="2.75"/>
<path d="M878.4 1275.2 L888.0 1288.7" fill="none" stroke="#111" stroke-width="1.25"/>
<path d="M868.8 1344.4 L886.1 1338.6" fill="none" stroke="#111" stroke-width="1.25"/>
<path d="M903.4 1405.8 L911.1 1398.2" fill="none" stroke="#111" stroke-width="1.25"/>
<path d="M936.0 1440.4 L940.6 1428.9" fill="none" stroke="#111" stroke-width="1.25"/>
<path d="M1014.8 1469.2 L1019.8 1457.7" fill="none" stroke="#111" stroke-width="1.25"/>
<path d="M1018.6 1470.4 L1023.6 1458.9" fill="none" stroke="#111" stroke-width="1.25"/>
<path d="M1554.5 1657.4 L1558.3 1640.2" fill="none" stroke="#111" stroke-width="1.25"/>
<path d="M1591.0 1653.6 L1583.3 1639.4" fill="none" stroke="#111" stroke-width="1.25"/>
<path d="M1633.2 1601.7 L1639.0 1615.2" fill="none" stroke="#111" stroke-width="1.25"/>
<path d="M1370.1 1463.5 L1383.5 1409.7 L1393.1 1390.5 L1412.4 1373.2" fill="none" stroke="#111" stroke-width="2.00"/>
<path d="M1412.4 1373.2 L1543.0 1297.5" fill="none" stroke="#111" stroke-width="2.00"/>
<path d="M1370.1 1463.5 L1498.8 1380.9 L1740.0 1509.6" fill="none" stroke="#111" stroke-width="2.00"/>
<path d="M1393.1 1390.5 C1397.0 1387.9 1408.5 1378.6 1416.2 1375.1 C1423.9 1371.6 1430.3 1370.1 1439.2 1369.3 C1448.2 1368.6 1460.0 1368.6 1470.0 1370.5 C1479.9 1372.4 1494.0 1379.1 1498.8 1380.9" fill="none" stroke="#111" stroke-width="1.75"/>
<path d="M1423.9 1370.5 L1554.5 1296.4" fill="none" stroke="#111" stroke-width="1.25"/>
<path d="M1445.0 1369.3 L1587.1 1295.6" fill="none" stroke="#111" stroke-width="1.25"/>
<path d="M1498.8 1380.9 L1625.5 1307.9" fill="none" stroke="#111" stroke-width="1.25"/>
<path d="M1393.1 1390.5 L1373.9 1461.5" fill="none" stroke="#222" stroke-width="1.50"/>
<path d="M1397.4 1388.2 L1378.9 1458.5" fill="none" stroke="#222" stroke-width="2.50"/>
<path d="M1401.6 1386.3 L1383.9 1455.0" fill="none" stroke="#222" stroke-width="2.50"/>
<path d="M1405.8 1384.3 L1388.5 1451.9" fill="none" stroke="#222" stroke-width="1.50"/>
<path d="M1410.0 1382.0 L1393.5 1448.9" fill="none" stroke="#222" stroke-width="2.50"/>
<path d="M1414.3 1380.5 L1398.5 1445.4" fill="none" stroke="#222" stroke-width="2.50"/>
<path d="M1418.5 1378.6 L1403.5 1442.3" fill="none" stroke="#222" stroke-width="1.50"/>
<path d="M1422.7 1376.6 L1408.5 1439.3" fill="none" stroke="#222" stroke-width="2.50"/>
<path d="M1426.9 1375.1 L1413.1 1435.8" fill="none" stroke="#222" stroke-width="2.50"/>
<path d="M1431.2 1374.0 L1418.1 1432.7" fill="none" stroke="#222" stroke-width="1.50"/>
<path d="M1435.4 1372.8 L1423.1 1429.7" fill="none" stroke="#222" stroke-width="2.50"/>
<path d="M1439.6 1371.7 L1428.1 1426.2" fill="none" stroke="#222" stroke-width="2.50"/>
<path d="M1443.8 1370.9 L1433.1 1423.1" fill="none" stroke="#222" stroke-width="1.50"/>
<path d="M1448.1 1370.1 L1437.7 1420.1" fill="none" stroke="#222" stroke-width="2.50"/>
<path d="M1452.3 1369.7 L1442.7 1417.0" fill="none" stroke="#222" stroke-width="2.50"/>
<path d="M1456.5 1369.3 L1447.7 1413.5" fill="none" stroke="#222" stroke-width="1.50"/>
<path d="M1460.8 1376.6 L1452.7 1410.5" fill="none" stroke="#222" stroke-width="2.50"/>
<path d="M1465.0 1377.0 L1457.7 1407.4" fill="none" stroke="#222" stroke-width="2.50"/>
<path d="M1469.2 1377.8 L1462.3 1403.9" fill="none" stroke="#222" stroke-width="1.50"/>
<path d="M1473.4 1378.2 L1467.3 1400.8" fill="none" stroke="#222" stroke-width="2.50"/>
<path d="M1477.7 1378.6 L1472.3 1397.8" fill="none" stroke="#222" stroke-width="2.50"/>
<path d="M1481.9 1379.0 L1477.3 1394.3" fill="none" stroke="#222" stroke-width="1.50"/>
<path d="M1486.1 1379.3 L1482.3 1391.2" fill="none" stroke="#222" stroke-width="2.50"/>
<path d="M1490.3 1380.1 L1486.9 1388.2" fill="none" stroke="#222" stroke-width="2.50"/>
<path d="M1494.6 1380.5 L1491.9 1384.7" fill="none" stroke="#222" stroke-width="1.50"/>
<path d="M1498.8 1380.9 L1496.9 1381.6" fill="none" stroke="#222" stroke-width="2.50"/>
<path d="M1375.9 1455.8 L1387.4 1413.5 L1397.0 1394.3" fill="none" stroke="#111" stroke-width="1.25"/>
<path d="M1498.8 1380.9 L2524.0 1934.0" fill="none" stroke="#111" stroke-width="2.25"/>
<circle cx="2177.9" cy="1613.4" r="2.2" fill="#222"/>
<circle cx="2066.2" cy="1678.2" r="2.2" fill="#222"/>
<circle cx="2377.5" cy="1721.9" r="2.2" fill="#222"/>
<circle cx="2396.2" cy="1731.3" r="2.2" fill="#222"/>
<circle cx="2265.7" cy="1786.2" r="2.2" fill="#222"/>
<circle cx="2283.6" cy="1795.6" r="2.2" fill="#222"/>
<circle cx="2634.3" cy="1860.4" r="2.2" fill="#222"/>
<circle cx="2521.6" cy="1924.7" r="2.2" fill="#222"/>
<path d="M2531.0 1935.5 L2643.7 1876.3" fill="none" stroke="#111" stroke-width="1.50"/>
<circle cx="1434.3" cy="750.2" r="2.7" fill="none" stroke="#111" stroke-width="1.62"/>
<circle cx="1452.4" cy="770.5" r="2.7" fill="none" stroke="#111" stroke-width="1.62"/>
<circle cx="1430.7" cy="792.3" r="2.7" fill="none" stroke="#111" stroke-width="1.62"/>
<circle cx="1408.9" cy="810.4" r="2.7" fill="none" stroke="#111" stroke-width="1.62"/>
<circle cx="1398.0" cy="832.2" r="2.7" fill="none" stroke="#111" stroke-width="1.62"/>
<circle cx="1416.1" cy="825.0" r="2.7" fill="none" stroke="#111" stroke-width="1.62"/>
<circle cx="1467.0" cy="716.1" r="2.7" fill="none" stroke="#111" stroke-width="1.62"/>
<circle cx="1494.5" cy="734.2" r="2.7" fill="none" stroke="#111" stroke-width="1.62"/>
<circle cx="1539.5" cy="756.0" r="2.7" fill="none" stroke="#111" stroke-width="1.62"/>
<circle cx="1597.6" cy="770.5" r="2.7" fill="none" stroke="#111" stroke-width="1.62"/>
<circle cx="1562.8" cy="806.8" r="2.7" fill="none" stroke="#111" stroke-width="1.62"/>
<circle cx="1592.5" cy="795.9" r="2.7" fill="none" stroke="#111" stroke-width="1.62"/>
<circle cx="1623.0" cy="832.2" r="2.7" fill="none" stroke="#111" stroke-width="1.62"/>
<circle cx="1652.1" cy="672.5" r="2.7" fill="none" stroke="#111" stroke-width="1.62"/>
<circle cx="1683.3" cy="817.7" r="2.7" fill="none" stroke="#111" stroke-width="1.62"/>
<circle cx="1702.9" cy="716.1" r="2.7" fill="none" stroke="#111" stroke-width="1.62"/>
<circle cx="1713.8" cy="708.8" r="2.7" fill="none" stroke="#111" stroke-width="1.62"/>
<circle cx="1750.1" cy="727.0" r="2.7" fill="none" stroke="#111" stroke-width="1.62"/>
<circle cx="1797.2" cy="732.8" r="2.7" fill="none" stroke="#111" stroke-width="1.62"/>
<circle cx="1771.8" cy="864.9" r="2.7" fill="none" stroke="#111" stroke-width="1.62"/>
<circle cx="1737.7" cy="850.4" r="2.7" fill="none" stroke="#111" stroke-width="1.62"/>
<circle cx="1833.5" cy="701.6" r="2.7" fill="none" stroke="#111" stroke-width="1.62"/>
<circle cx="1851.7" cy="716.1" r="2.7" fill="none" stroke="#111" stroke-width="1.62"/>
<circle cx="1880.7" cy="747.3" r="2.7" fill="none" stroke="#111" stroke-width="1.62"/>
<circle cx="1884.3" cy="799.5" r="2.7" fill="none" stroke="#111" stroke-width="1.62"/>
<circle cx="1925.7" cy="745.1" r="2.7" fill="none" stroke="#111" stroke-width="1.62"/>
<circle cx="1942.4" cy="957.8" r="2.7" fill="none" stroke="#111" stroke-width="1.62"/>
<circle cx="1975.1" cy="995.5" r="2.7" fill="none" stroke="#111" stroke-width="1.62"/>
<circle cx="1964.2" cy="843.1" r="2.7" fill="none" stroke="#111" stroke-width="1.62"/>
<circle cx="2015.0" cy="875.8" r="2.7" fill="none" stroke="#111" stroke-width="1.62"/>
<circle cx="2056.4" cy="893.9" r="2.7" fill="none" stroke="#111" stroke-width="1.62"/>
<circle cx="2080.3" cy="872.1" r="2.7" fill="none" stroke="#111" stroke-width="1.62"/>
<circle cx="2131.2" cy="857.6" r="2.7" fill="none" stroke="#111" stroke-width="1.62"/>
<circle cx="2142.0" cy="915.7" r="2.7" fill="none" stroke="#111" stroke-width="1.62"/>
<circle cx="2167.5" cy="933.8" r="2.7" fill="none" stroke="#111" stroke-width="1.62"/>
<circle cx="2178.3" cy="959.2" r="2.7" fill="none" stroke="#111" stroke-width="1.62"/>
<circle cx="2200.1" cy="957.8" r="2.7" fill="none" stroke="#111" stroke-width="1.62"/>
<circle cx="2185.6" cy="923.0" r="2.7" fill="none" stroke="#111" stroke-width="1.62"/>
<circle cx="2211.0" cy="907.0" r="2.7" fill="none" stroke="#111" stroke-width="1.62"/>
<circle cx="2236.4" cy="928.8" r="2.7" fill="none" stroke="#111" stroke-width="1.62"/>
<circle cx="2243.7" cy="957.8" r="2.7" fill="none" stroke="#111" stroke-width="1.62"/>
<circle cx="2254.6" cy="977.4" r="2.7" fill="none" stroke="#111" stroke-width="1.62"/>
<circle cx="2258.2" cy="892.5" r="2.7" fill="none" stroke="#111" stroke-width="1.62"/>
<circle cx="2301.7" cy="915.7" r="2.7" fill="none" stroke="#111" stroke-width="1.62"/>
<circle cx="2305.4" cy="965.1" r="2.7" fill="none" stroke="#111" stroke-width="1.62"/>
<circle cx="2327.1" cy="955.6" r="2.7" fill="none" stroke="#111" stroke-width="1.62"/>
<circle cx="2345.3" cy="937.5" r="2.7" fill="none" stroke="#111" stroke-width="1.62"/>
<circle cx="2062.2" cy="1024.6" r="2.7" fill="none" stroke="#111" stroke-width="1.62"/>
<circle cx="2065.8" cy="1039.1" r="2.7" fill="none" stroke="#111" stroke-width="1.62"/>
<circle cx="2062.2" cy="1060.9" r="2.7" fill="none" stroke="#111" stroke-width="1.62"/>
<circle cx="2022.3" cy="1018.8" r="2.7" fill="none" stroke="#111" stroke-width="1.62"/>
<circle cx="2007.8" cy="1024.6" r="2.7" fill="none" stroke="#111" stroke-width="1.62"/>
<circle cx="1988.2" cy="1057.2" r="2.7" fill="none" stroke="#111" stroke-width="1.62"/>
<circle cx="2015.0" cy="1057.2" r="2.7" fill="none" stroke="#111" stroke-width="1.62"/>
<circle cx="2076.7" cy="1097.2" r="2.7" fill="none" stroke="#111" stroke-width="1.62"/>
<circle cx="2069.5" cy="1115.3" r="2.7" fill="none" stroke="#111" stroke-width="1.62"/>
<circle cx="2029.5" cy="1118.9" r="2.7" fill="none" stroke="#111" stroke-width="1.62"/>
<circle cx="1986.0" cy="1095.7" r="2.7" fill="none" stroke="#111" stroke-width="1.62"/>
<circle cx="1942.4" cy="1071.8" r="2.7" fill="none" stroke="#111" stroke-width="1.62"/>
<circle cx="1902.5" cy="1047.8" r="2.7" fill="none" stroke="#111" stroke-width="1.62"/>
<circle cx="1750.1" cy="1081.2" r="2.7" fill="none" stroke="#111" stroke-width="1.62"/>
<circle cx="1766.0" cy="1082.6" r="2.7" fill="none" stroke="#111" stroke-width="1.62"/>
<circle cx="1804.5" cy="1108.1" r="2.7" fill="none" stroke="#111" stroke-width="1.62"/>
<circle cx="1811.8" cy="1115.3" r="2.7" fill="none" stroke="#111" stroke-width="1.62"/>
<circle cx="1815.4" cy="1137.1" r="2.7" fill="none" stroke="#111" stroke-width="1.62"/>
<circle cx="1902.5" cy="1153.8" r="2.7" fill="none" stroke="#111" stroke-width="1.62"/>
<circle cx="1935.2" cy="1140.7" r="2.7" fill="none" stroke="#111" stroke-width="1.62"/>
<circle cx="2007.8" cy="1175.6" r="2.7" fill="none" stroke="#111" stroke-width="1.62"/>
<circle cx="1993.2" cy="1198.8" r="2.7" fill="none" stroke="#111" stroke-width="1.62"/>
<circle cx="2000.5" cy="1236.5" r="2.7" fill="none" stroke="#111" stroke-width="1.62"/>
<circle cx="1964.2" cy="1246.0" r="2.7" fill="none" stroke="#111" stroke-width="1.62"/>
<circle cx="1956.9" cy="1255.4" r="2.7" fill="none" stroke="#111" stroke-width="1.62"/>
<circle cx="2058.6" cy="1180.6" r="2.7" fill="none" stroke="#111" stroke-width="1.62"/>
<circle cx="2076.7" cy="1269.2" r="2.7" fill="none" stroke="#111" stroke-width="1.62"/>
<circle cx="2131.2" cy="1293.2" r="2.7" fill="none" stroke="#111" stroke-width="1.62"/>
<circle cx="2182.0" cy="1314.9" r="2.7" fill="none" stroke="#111" stroke-width="1.62"/>
<circle cx="2236.4" cy="1340.3" r="2.7" fill="none" stroke="#111" stroke-width="1.62"/>
<circle cx="2290.9" cy="1362.1" r="2.7" fill="none" stroke="#111" stroke-width="1.62"/>
<circle cx="2348.9" cy="1387.5" r="2.7" fill="none" stroke="#111" stroke-width="1.62"/>
<circle cx="2403.4" cy="1405.7" r="2.7" fill="none" stroke="#111" stroke-width="1.62"/>
<circle cx="2174.7" cy="1175.6" r="2.7" fill="none" stroke="#111" stroke-width="1.62"/>
<circle cx="2265.4" cy="1134.9" r="2.7" fill="none" stroke="#111" stroke-width="1.62"/>
<circle cx="2283.6" cy="1144.3" r="2.7" fill="none" stroke="#111" stroke-width="1.62"/>
<circle cx="2167.5" cy="1081.2" r="2.7" fill="none" stroke="#111" stroke-width="1.62"/>
<circle cx="2283.6" cy="1015.9" r="2.7" fill="none" stroke="#111" stroke-width="1.62"/>
<circle cx="2378.0" cy="1068.1" r="2.7" fill="none" stroke="#111" stroke-width="1.62"/>
<circle cx="2396.1" cy="1079.0" r="2.7" fill="none" stroke="#111" stroke-width="1.62"/>
<circle cx="2443.3" cy="1100.8" r="2.7" fill="none" stroke="#111" stroke-width="1.62"/>
<circle cx="2494.1" cy="1108.1" r="2.7" fill="none" stroke="#111" stroke-width="1.62"/>
<circle cx="2323.5" cy="1166.1" r="2.7" fill="none" stroke="#111" stroke-width="1.62"/>
<circle cx="2341.7" cy="1200.2" r="2.7" fill="none" stroke="#111" stroke-width="1.62"/>
<circle cx="2534.0" cy="1151.6" r="2.7" fill="none" stroke="#111" stroke-width="1.62"/>
<circle cx="2603.0" cy="1191.5" r="2.7" fill="none" stroke="#111" stroke-width="1.62"/>
<circle cx="2624.8" cy="1198.8" r="2.7" fill="none" stroke="#111" stroke-width="1.62"/>
<circle cx="2635.7" cy="1209.7" r="2.7" fill="none" stroke="#111" stroke-width="1.62"/>
<circle cx="2657.4" cy="1197.3" r="2.7" fill="none" stroke="#111" stroke-width="1.62"/>
<circle cx="2679.2" cy="1182.8" r="2.7" fill="none" stroke="#111" stroke-width="1.62"/>
<circle cx="2414.3" cy="1216.9" r="2.7" fill="none" stroke="#111" stroke-width="1.62"/>
<circle cx="2490.5" cy="1256.9" r="2.7" fill="none" stroke="#111" stroke-width="1.62"/>
<circle cx="2508.6" cy="1267.8" r="2.7" fill="none" stroke="#111" stroke-width="1.62"/>
<circle cx="2526.8" cy="1271.4" r="2.7" fill="none" stroke="#111" stroke-width="1.62"/>
<circle cx="2570.3" cy="1300.4" r="2.7" fill="none" stroke="#111" stroke-width="1.62"/>
<circle cx="2595.7" cy="1284.4" r="2.7" fill="none" stroke="#111" stroke-width="1.62"/>
<circle cx="2628.4" cy="1264.1" r="2.7" fill="none" stroke="#111" stroke-width="1.62"/>
<circle cx="2661.1" cy="1246.0" r="2.7" fill="none" stroke="#111" stroke-width="1.62"/>
<circle cx="2693.7" cy="1227.8" r="2.7" fill="none" stroke="#111" stroke-width="1.62"/>
<circle cx="2722.8" cy="1209.7" r="2.7" fill="none" stroke="#111" stroke-width="1.62"/>
<circle cx="2751.8" cy="1191.5" r="2.7" fill="none" stroke="#111" stroke-width="1.62"/>
<circle cx="2483.2" cy="1351.2" r="2.7" fill="none" stroke="#111" stroke-width="1.62"/>
<circle cx="2439.7" cy="1013.7" r="2.7" fill="none" stroke="#111" stroke-width="1.62"/>
<circle cx="2058.6" cy="1180.6" r="3.2" fill="#222"/>
<circle cx="2069.5" cy="1115.3" r="3.2" fill="#222"/>
<circle cx="2265.4" cy="1134.9" r="3.2" fill="#222"/>
<circle cx="2174.7" cy="1175.6" r="3.2" fill="#222"/>
<circle cx="2200.1" cy="957.8" r="3.2" fill="#222"/>
<circle cx="2178.3" cy="959.2" r="3.2" fill="#222"/>
<circle cx="2327.1" cy="955.6" r="3.2" fill="#222"/>
<circle cx="1655.7" cy="1115.3" r="3.2" fill="#222"/>
<circle cx="1750.1" cy="1081.2" r="3.2" fill="#222"/>
<circle cx="2062.2" cy="1024.6" r="3.2" fill="#222"/>
<circle cx="1372.6" cy="745.1" r="2.5" fill="none" stroke="#111" stroke-width="1.50"/>
<circle cx="1387.1" cy="756.0" r="2.5" fill="none" stroke="#111" stroke-width="1.50"/>
<circle cx="1401.6" cy="747.3" r="2.5" fill="none" stroke="#111" stroke-width="1.50"/>
<circle cx="1416.1" cy="764.7" r="2.5" fill="none" stroke="#111" stroke-width="1.50"/>
<circle cx="1427.0" cy="777.8" r="2.5" fill="none" stroke="#111" stroke-width="1.50"/>
<circle cx="1441.6" cy="803.2" r="2.5" fill="none" stroke="#111" stroke-width="1.50"/>
<circle cx="1456.1" cy="814.1" r="2.5" fill="none" stroke="#111" stroke-width="1.50"/>
<circle cx="1401.6" cy="792.3" r="2.5" fill="none" stroke="#111" stroke-width="1.50"/>
<circle cx="1423.4" cy="810.4" r="2.5" fill="none" stroke="#111" stroke-width="1.50"/>
<circle cx="1387.1" cy="777.8" r="2.5" fill="none" stroke="#111" stroke-width="1.50"/>
<circle cx="1470.6" cy="770.5" r="2.5" fill="none" stroke="#111" stroke-width="1.50"/>
<circle cx="1481.5" cy="752.4" r="2.5" fill="none" stroke="#111" stroke-width="1.50"/>
<circle cx="1517.8" cy="745.1" r="2.5" fill="none" stroke="#111" stroke-width="1.50"/>
<circle cx="1387.1" cy="803.2" r="2.5" fill="none" stroke="#111" stroke-width="1.50"/>
<circle cx="1408.9" cy="846.7" r="2.5" fill="none" stroke="#111" stroke-width="1.50"/>
<circle cx="1430.7" cy="857.6" r="2.5" fill="none" stroke="#111" stroke-width="1.50"/>
<path d="M2551.0 1443.0 L2928.9 1226.4 L2951.3 1233.9 L2984.2 1250.3 L2987.2 1259.3 L2984.2 1277.2 L2987.2 1307.1 L2990.2 1316.0 L2612.2 1532.6 L2604.8 1525.2 L2598.8 1498.3 L2594.3 1477.4 L2570.4 1462.4 Z" fill="none" stroke="#111" stroke-width="2.00"/>
<path d="M2570.4 1453.5 L2951.3 1235.4" fill="none" stroke="#111" stroke-width="1.50"/>
<path d="M2601.8 1465.4 L2982.7 1251.8" fill="none" stroke="#111" stroke-width="1.62"/>
<path d="M2604.8 1472.0 L2985.7 1259.3" fill="none" stroke="#111" stroke-width="3.50"/>
<path d="M2606.2 1479.8 L2984.2 1266.7" fill="none" stroke="#111" stroke-width="1.50"/>
<path d="M2607.7 1486.9 L2984.2 1277.2" fill="none" stroke="#111" stroke-width="3.25"/>
<path d="M2601.8 1498.3 L2984.2 1283.8" fill="none" stroke="#111" stroke-width="1.50"/>
<path d="M2607.7 1522.2 L2987.2 1307.1" fill="none" stroke="#111" stroke-width="1.50"/>
<path d="M2609.2 1526.7 L2988.7 1311.6" fill="none" stroke="#111" stroke-width="1.25"/>
<path d="M2570.4 1462.4 L2580.8 1465.4 L2594.3 1477.4" fill="none" stroke="#111" stroke-width="1.62"/>
<path d="M2580.8 1465.4 C2580.4 1466.4 2576.9 1469.4 2577.9 1471.4 C2578.9 1473.4 2585.3 1476.4 2586.8 1477.4" fill="none" stroke="#111" stroke-width="1.38"/>
<path d="M2598.8 1498.3 C2598.3 1500.3 2595.3 1506.8 2595.8 1510.2 C2596.3 1513.7 2600.8 1517.7 2601.8 1519.2" fill="none" stroke="#111" stroke-width="1.38"/>
<circle cx="2700.4" cy="1392.2" r="2.5" fill="#222"/>
<circle cx="2818.4" cy="1390.7" r="2.5" fill="#222"/>
<circle cx="2775.1" cy="1416.1" r="2.5" fill="#222"/>
<circle cx="2840.8" cy="1310.1" r="2.5" fill="#222"/>
<path d="M2431.5 1374.3 L2443.4 1366.8 L2455.4 1368.3 L2467.3 1375.8 L2479.3 1381.8 L2482.3 1387.7 L2473.3 1390.7 L2485.2 1396.7 L2489.7 1408.7 L2485.2 1417.6 L2479.3 1420.6 L2482.3 1432.6 L2488.2 1437.0 L2489.7 1459.4 L2479.3 1460.9 L2476.3 1455.0" fill="none" stroke="#111" stroke-width="2.12"/>
<path d="M2431.5 1374.3 L2430.0 1384.8" fill="none" stroke="#111" stroke-width="1.75"/>
<ellipse cx="2462.8" cy="1378.8" rx="4.8" ry="6.0" transform="rotate(-30.0 2462.8 1378.8)" fill="none" stroke="#111" stroke-width="1.88"/>
<circle cx="2452.4" cy="1398.2" r="5.1" fill="#fff" stroke="#111" stroke-width="2.00"/>
<circle cx="2452.4" cy="1398.2" r="2.8" fill="#555" stroke="#111" stroke-width="1.50"/>
<ellipse cx="2458.4" cy="1437.0" rx="2.4" ry="3.3" transform="rotate(0.0 2458.4 1437.0)" fill="none" stroke="#111" stroke-width="1.62"/>
<ellipse cx="2474.8" cy="1408.7" rx="2.1" ry="3.0" transform="rotate(0.0 2474.8 1408.7)" fill="none" stroke="#111" stroke-width="1.50"/>
<path d="M2468.8 1371.3 L2822.9 1165.2" fill="none" stroke="#111" stroke-width="2.50"/>
<path d="M2819.9 1151.7 L2831.8 1147.2 L2846.8 1153.2 L2858.7 1163.7 L2855.7 1169.6 L2864.7 1178.6 L2867.7 1187.6 L2858.7 1196.5 L2863.2 1211.5 L2873.6 1226.4 L2875.1 1233.9 L2866.2 1242.8 L2855.7 1250.3 L2757.1 1204.0 L2778.0 1190.5 L2822.9 1165.2" fill="none" stroke="#111" stroke-width="2.12"/>
<ellipse cx="2840.8" cy="1161.3" rx="4.2" ry="5.4" transform="rotate(-30.0 2840.8 1161.3)" fill="none" stroke="#111" stroke-width="1.75"/>
<path d="M2820.5 1181.6 L2831.8 1175.6 L2834.8 1181.0 L2823.5 1187.0 Z" fill="none" stroke="#111" stroke-width="1.50"/>
<path d="M2842.3 1192.9 L2854.2 1187.6 L2856.3 1192.9 L2845.3 1198.3 Z" fill="none" stroke="#111" stroke-width="1.50"/>
<path d="M2851.2 1235.4 L2863.2 1230.9 L2865.3 1236.0 L2853.3 1241.3 Z" fill="none" stroke="#111" stroke-width="1.50"/>
<circle cx="2800.4" cy="1184.6" r="2.5" fill="#222"/>
<circle cx="2824.4" cy="1198.9" r="2.5" fill="#222"/>
<circle cx="2837.8" cy="1218.9" r="2.5" fill="#222"/>
<path d="M2666.0 1256.3 L2712.3 1230.9 L2775.1 1260.8 L2766.1 1271.2 L2760.1 1283.2 L2761.6 1293.6 L2745.2 1302.6 L2666.0 1259.3 Z" fill="none" stroke="#111" stroke-width="2.00"/>
<path d="M2673.5 1254.8 L2751.2 1293.6" fill="none" stroke="#111" stroke-width="3.25"/>
<path d="M2680.9 1250.3 L2757.1 1287.6" fill="none" stroke="#111" stroke-width="1.50"/>
<path d="M2688.4 1247.3 L2761.6 1280.8" fill="none" stroke="#111" stroke-width="1.50"/>
<path d="M2706.3 1235.4 L2769.1 1266.7" fill="none" stroke="#111" stroke-width="1.38"/>
<path d="M2676.5 1259.3 L2746.7 1299.6" fill="none" stroke="#111" stroke-width="1.50"/>
<circle cx="2721.3" cy="1241.9" r="2.7" fill="#fff" stroke="#111" stroke-width="2.00"/>
<circle cx="2721.3" cy="1241.9" r="1.5" fill="#555" stroke="#111" stroke-width="1.50"/>
<circle cx="2737.7" cy="1274.8" r="2.7" fill="#fff" stroke="#111" stroke-width="2.00"/>
<circle cx="2737.7" cy="1274.8" r="1.5" fill="#555" stroke="#111" stroke-width="1.50"/>
<circle cx="2766.1" cy="1259.3" r="2.4" fill="#fff" stroke="#111" stroke-width="2.00"/>
<circle cx="2766.1" cy="1259.3" r="1.3" fill="#555" stroke="#111" stroke-width="1.50"/>
<path d="M2551.0 1323.5 L2577.9 1308.6 L2640.6 1342.9 L2645.1 1353.4 L2643.6 1360.8 L2628.7 1369.8 L2551.0 1326.5 Z" fill="none" stroke="#111" stroke-width="2.00"/>
<path d="M2556.9 1323.5 L2631.6 1363.8" fill="none" stroke="#111" stroke-width="3.25"/>
<path d="M2564.4 1319.0 L2637.6 1356.4" fill="none" stroke="#111" stroke-width="1.50"/>
<path d="M2571.9 1314.5 L2642.1 1348.9" fill="none" stroke="#111" stroke-width="1.50"/>
<path d="M2559.9 1328.0 L2628.7 1366.8" fill="none" stroke="#111" stroke-width="1.50"/>
<circle cx="2580.8" cy="1322.6" r="2.7" fill="#fff" stroke="#111" stroke-width="2.00"/>
<circle cx="2580.8" cy="1322.6" r="1.5" fill="#555" stroke="#111" stroke-width="1.50"/>
<circle cx="2621.2" cy="1341.4" r="2.7" fill="#fff" stroke="#111" stroke-width="2.00"/>
<circle cx="2621.2" cy="1341.4" r="1.5" fill="#555" stroke="#111" stroke-width="1.50"/>
<circle cx="2610.7" cy="1351.9" r="2.4" fill="#fff" stroke="#111" stroke-width="2.00"/>
<circle cx="2610.7" cy="1351.9" r="1.3" fill="#555" stroke="#111" stroke-width="1.50"/>
<path d="M2300.0 1404.2 L2485.2 1460.9" fill="none" stroke="#111" stroke-width="3.00"/>
<path d="M2300.0 1295.1 L2431.5 1375.8" fill="none" stroke="#111" stroke-width="1.62"/>
<path d="M2300.0 1316.0 L2428.5 1382.4" fill="none" stroke="#111" stroke-width="1.62"/>
<path d="M2300.0 1302.6 L2431.5 1378.8" fill="none" stroke="#111" stroke-width="1.25"/>
<path d="M2370.2 1431.1 C2370.7 1432.2 2371.0 1436.2 2373.2 1437.6 C2375.4 1439.0 2381.1 1439.9 2383.7 1439.4 C2386.2 1438.9 2387.9 1435.4 2388.7 1434.6" fill="none" stroke="#111" stroke-width="1.75"/>
<path d="M2446.4 1468.4 C2446.9 1469.5 2447.1 1473.6 2449.4 1475.0 C2451.6 1476.4 2457.3 1477.3 2459.8 1476.8 C2462.4 1476.3 2464.1 1472.8 2464.9 1472.0" fill="none" stroke="#111" stroke-width="1.75"/>
<path d="M2291.0 1402.7 C2291.5 1403.8 2291.8 1407.9 2294.0 1409.3 C2296.3 1410.6 2301.9 1411.5 2304.5 1411.0 C2307.1 1410.5 2308.7 1407.1 2309.6 1406.3" fill="none" stroke="#111" stroke-width="1.75"/>
<ellipse cx="2348.4" cy="1387.7" rx="2.4" ry="3.6" transform="rotate(-20.0 2348.4 1387.7)" fill="none" stroke="#111" stroke-width="1.62"/>
<ellipse cx="2396.2" cy="1409.3" rx="2.4" ry="3.6" transform="rotate(-20.0 2396.2 1409.3)" fill="none" stroke="#111" stroke-width="1.62"/>
<path d="M1312.5 569.4 L1327.5 562.5 L1337.1 568.0 L1338.4 583.0 L1348.0 603.5 L1364.4 647.2 L1375.3 677.3 L1386.2 707.3 L1395.8 730.5 L1402.6 736.0 L1412.2 737.4 L1414.9 741.5 L1404.0 751.0 L1401.3 770.1 L1394.4 777.0 L1387.6 775.6 L1380.8 771.5 L1372.6 767.4 L1368.5 761.9 L1331.6 785.2 L1324.8 781.1 L1324.0 771.5 L1334.3 761.9 L1337.1 745.6 L1331.6 701.8 L1326.2 677.3 L1309.8 639.0 L1305.7 611.7 L1308.4 584.4 Z" fill="none" stroke="#111" stroke-width="2.00"/>
<path d="M1316.6 573.5 L1331.6 578.9 L1348.0 614.4 L1367.1 666.3 L1389.0 731.9" fill="none" stroke="#111" stroke-width="1.38"/>
<path d="M1313.9 570.7 L1320.7 577.6 L1331.6 573.5 L1337.1 568.0" fill="none" stroke="#111" stroke-width="1.38"/>
<ellipse cx="1327.5" cy="625.4" rx="15.0" ry="22.4" transform="rotate(-15.0 1327.5 625.4)" fill="none" stroke="#111" stroke-width="2.00"/>
<ellipse cx="1331.6" cy="625.9" rx="10.9" ry="18.6" transform="rotate(-15.0 1331.6 625.9)" fill="none" stroke="#111" stroke-width="1.38"/>
<path d="M1337.1 659.5 C1339.1 657.8 1344.8 654.4 1348.0 656.0 C1351.2 657.6 1353.0 661.4 1356.2 669.1 C1359.4 676.7 1363.9 691.4 1367.1 701.8 C1370.3 712.3 1374.4 725.5 1375.3 731.9 C1376.2 738.3 1374.4 739.2 1372.6 740.1 C1370.8 741.0 1368.5 744.2 1364.4 737.4 C1360.3 730.5 1352.3 709.1 1348.0 699.1 C1343.7 689.1 1340.5 682.7 1338.4 677.3 C1336.4 671.8 1335.9 669.3 1335.7 666.3 C1335.5 663.4 1335.0 661.2 1337.1 659.5 Z" fill="none" stroke="#111" stroke-width="1.75"/>
<path d="M1342.5 663.6 C1343.7 663.4 1347.1 660.0 1349.4 662.2 C1351.6 664.5 1353.2 669.3 1356.2 677.3 C1359.2 685.2 1364.4 700.9 1367.1 710.0 C1369.9 719.1 1371.7 728.3 1372.6 731.9" fill="none" stroke="#111" stroke-width="1.25"/>
<path d="M1309.8 639.0 L1320.7 655.4 L1331.6 659.5 L1348.0 648.6 L1364.4 647.2" fill="none" stroke="#111" stroke-width="1.62"/>
<path d="M1358.9 693.7 L1372.6 740.1" fill="none" stroke="#111" stroke-width="3.00"/>
<path d="M1334.3 756.5 L1375.3 745.6 L1383.5 737.4" fill="none" stroke="#111" stroke-width="1.50"/>
<path d="M1337.1 751.0 L1369.9 742.8" fill="none" stroke="#111" stroke-width="1.25"/>
<path d="M1368.5 755.1 L1389.0 752.4 L1397.2 764.7 L1394.4 777.0 L1375.3 770.1 Z" fill="none" stroke="#111" stroke-width="1.62"/>
<path d="M1380.8 731.9 L1383.5 751.0" fill="none" stroke="#111" stroke-width="2.75"/>
<path d="M1391.7 734.6 L1402.6 756.5" fill="none" stroke="#111" stroke-width="1.62"/>
<ellipse cx="1328.9" cy="598.6" rx="2.2" ry="3.3" transform="rotate(-15.0 1328.9 598.6)" fill="none" stroke="#111" stroke-width="1.62"/>
<ellipse cx="1325.6" cy="649.9" rx="2.5" ry="3.6" transform="rotate(-15.0 1325.6 649.9)" fill="none" stroke="#111" stroke-width="1.62"/>
<ellipse cx="1343.1" cy="737.9" rx="2.7" ry="4.1" transform="rotate(-15.0 1343.1 737.9)" fill="none" stroke="#111" stroke-width="1.62"/>
<ellipse cx="1330.2" cy="777.0" rx="2.2" ry="2.7" transform="rotate(0.0 1330.2 777.0)" fill="none" stroke="#111" stroke-width="1.62"/>
<ellipse cx="1389.0" cy="767.4" rx="2.5" ry="2.5" transform="rotate(0.0 1389.0 767.4)" fill="none" stroke="#111" stroke-width="1.62"/>
<circle cx="1344.7" cy="619.9" r="2.4" fill="#222"/>
<circle cx="1377.5" cy="764.7" r="2.4" fill="#222"/>
<circle cx="1352.1" cy="766.0" r="2.4" fill="#222"/>
<circle cx="1338.4" cy="712.8" r="2.4" fill="#222"/>
<path d="M1252.8 564.4 L1261.0 556.2 L1267.8 558.9 L1284.2 549.4 L1289.7 538.5 L1297.8 538.5 L1301.9 548.0 L1330.6 594.5 L1323.8 605.4 L1322.4 613.6 L1323.8 621.8 L1317.0 627.2 L1308.8 624.5 L1286.9 638.2 L1284.2 643.6 L1277.4 643.6 L1273.3 635.4 L1284.2 621.8 L1256.9 582.2 Z" fill="none" stroke="#111" stroke-width="2.00"/>
<path d="M1284.2 621.8 L1323.8 597.2" fill="none" stroke="#111" stroke-width="1.62"/>
<path d="M1286.9 626.7 L1325.2 601.3" fill="none" stroke="#111" stroke-width="1.38"/>
<path d="M1256.9 567.1 L1300.6 543.9" fill="none" stroke="#111" stroke-width="1.38"/>
<circle cx="1293.7" cy="586.3" r="7.4" fill="none" stroke="#111" stroke-width="2.00"/>
<ellipse cx="1270.0" cy="580.8" rx="1.6" ry="3.6" transform="rotate(35.0 1270.0 580.8)" fill="none" stroke="#111" stroke-width="1.50"/>
<ellipse cx="1323.8" cy="584.1" rx="1.6" ry="3.3" transform="rotate(60.0 1323.8 584.1)" fill="none" stroke="#111" stroke-width="1.50"/>
<circle cx="1262.3" cy="560.3" r="3.0" fill="#fff" stroke="#111" stroke-width="2.00"/>
<circle cx="1262.3" cy="560.3" r="1.7" fill="#555" stroke="#111" stroke-width="1.50"/>
<circle cx="1294.6" cy="542.6" r="3.0" fill="#fff" stroke="#111" stroke-width="2.00"/>
<circle cx="1294.6" cy="542.6" r="1.7" fill="#555" stroke="#111" stroke-width="1.50"/>
<circle cx="1317.0" cy="621.2" r="1.9" fill="none" stroke="#111" stroke-width="1.50"/>
<circle cx="1285.0" cy="638.2" r="1.9" fill="none" stroke="#111" stroke-width="1.50"/>
<path d="M1095.4 638.6 L956.1 626.3 L932.9 623.6 L922.0 605.8 L1076.3 443.3 L1090.0 463.8 L1094.1 508.8 L1094.1 549.8 L1100.9 549.8 L1100.9 639.9 Z" fill="#fff" stroke="#fff" stroke-width="0.12"/>
<path d="M1095.4 638.6 L956.1 626.3 L932.9 623.6 L922.0 605.8 L1076.3 443.3 L1090.0 463.8 L1081.8 473.3" fill="none" stroke="#111" stroke-width="2.00"/>
<path d="M928.3 607.7 L1080.4 447.6" fill="none" stroke="#111" stroke-width="1.50"/>
<path d="M1003.9 560.7 L1068.1 491.1 L1084.5 491.1 L1087.8 497.9 L1087.8 601.7 L1069.5 603.1 L1063.2 612.6 L1014.9 604.4 L1003.9 590.8 Z" fill="none" stroke="#111" stroke-width="2.00"/>
<path d="M1010.8 585.3 L1054.5 538.9 L1065.4 536.1 L1070.9 544.3 L1070.9 599.0 L1065.4 607.2 L1019.0 600.3 L1010.8 590.8 Z" fill="none" stroke="#111" stroke-width="2.00"/>
<path d="M1006.7 556.6 L1072.2 491.1" fill="none" stroke="#111" stroke-width="1.38"/>
<path d="M1009.4 563.5 L1076.3 495.2" fill="none" stroke="#111" stroke-width="1.38"/>
<path d="M1013.5 569.5 L1080.4 501.2" fill="none" stroke="#111" stroke-width="1.38"/>
<path d="M1076.3 503.4 L1076.3 599.0" fill="none" stroke="#111" stroke-width="1.38"/>
<path d="M1081.8 500.6 L1081.8 599.0" fill="none" stroke="#444" stroke-width="1.38"/>
<path d="M1091.3 503.4 L1091.3 601.7" fill="none" stroke="#111" stroke-width="1.38"/>
<path d="M1095.4 603.1 L1095.4 638.6" fill="none" stroke="#111" stroke-width="2.00"/>
<path d="M1150.1 437.8 C1147.3 440.1 1139.1 445.1 1133.7 451.5 C1128.2 457.8 1121.2 467.4 1117.3 476.1 C1113.4 484.7 1111.6 491.5 1110.5 503.4 C1109.3 515.2 1110.5 539.8 1110.5 547.1" fill="none" stroke="#111" stroke-width="2.00"/>
<path d="M1110.5 547.1 L1121.4 552.5 L1121.4 588.0 L1111.8 594.9 L1109.1 631.8 L1098.2 645.4" fill="none" stroke="#111" stroke-width="2.00"/>
<path d="M1141.9 441.9 C1136.9 444.9 1119.1 453.1 1111.8 459.7 C1104.6 466.3 1101.1 473.3 1098.2 481.5 C1095.2 489.7 1094.8 497.5 1094.1 508.8 C1093.4 520.2 1094.1 543.0 1094.1 549.8" fill="none" stroke="#111" stroke-width="1.62"/>
<path d="M1100.9 549.8 L1100.9 639.9" fill="none" stroke="#111" stroke-width="1.38"/>
<path d="M1069.5 638.6 L1073.6 645.4 L1072.2 665.9 L1098.2 678.2 L1103.6 672.7 L1099.5 653.6 L1098.2 642.7" fill="none" stroke="#111" stroke-width="2.00"/>
<circle cx="1079.6" cy="655.0" r="2.5" fill="#222"/>
<circle cx="1093.3" cy="658.5" r="2.5" fill="#222"/>
<path d="M1033.2 484.3 L1028.5 459.7 L1029.9 448.7 L1036.7 443.3 L1043.5 445.5 L1053.1 466.5" fill="none" stroke="#111" stroke-width="2.00"/>
<circle cx="1036.7" cy="455.0" r="2.5" fill="#222"/>
<path d="M1090.5 558.0 L1114.6 553.1 L1117.3 559.4 L1094.1 566.2 Z" fill="none" stroke="#111" stroke-width="1.62"/>
<path d="M1090.5 582.6 L1114.6 577.7 L1117.3 585.3 L1094.1 590.8 Z" fill="none" stroke="#111" stroke-width="1.62"/>
<circle cx="1081.8" cy="462.4" r="3.0" fill="#fff" stroke="#111" stroke-width="2.00"/>
<circle cx="1081.8" cy="462.4" r="1.7" fill="#555" stroke="#111" stroke-width="1.50"/>
<circle cx="1014.0" cy="532.1" r="3.3" fill="#fff" stroke="#111" stroke-width="2.00"/>
<circle cx="1014.0" cy="532.1" r="1.8" fill="#555" stroke="#111" stroke-width="1.50"/>
<circle cx="986.7" cy="562.1" r="3.3" fill="#fff" stroke="#111" stroke-width="2.00"/>
<circle cx="986.7" cy="562.1" r="1.8" fill="#555" stroke="#111" stroke-width="1.50"/>
<circle cx="951.5" cy="597.6" r="5.2" fill="#fff" stroke="#111" stroke-width="2.00"/>
<circle cx="951.5" cy="597.6" r="2.9" fill="#555" stroke="#111" stroke-width="1.50"/>
<circle cx="935.7" cy="615.4" r="5.2" fill="#fff" stroke="#111" stroke-width="2.00"/>
<circle cx="935.7" cy="615.4" r="2.9" fill="#555" stroke="#111" stroke-width="1.50"/>
<circle cx="995.7" cy="596.8" r="3.3" fill="#fff" stroke="#111" stroke-width="2.00"/>
<circle cx="995.7" cy="596.8" r="1.8" fill="#555" stroke="#111" stroke-width="1.50"/>
<circle cx="999.0" cy="623.6" r="3.3" fill="#fff" stroke="#111" stroke-width="2.00"/>
<circle cx="999.0" cy="623.6" r="1.8" fill="#555" stroke="#111" stroke-width="1.50"/>
<circle cx="1038.6" cy="628.5" r="3.3" fill="#fff" stroke="#111" stroke-width="2.00"/>
<circle cx="1038.6" cy="628.5" r="1.8" fill="#555" stroke="#111" stroke-width="1.50"/>
<circle cx="1090.0" cy="626.3" r="3.3" fill="#fff" stroke="#111" stroke-width="2.00"/>
<circle cx="1090.0" cy="626.3" r="1.8" fill="#555" stroke="#111" stroke-width="1.50"/>
<circle cx="1046.3" cy="503.4" r="2.5" fill="#222"/>
<circle cx="1027.2" cy="519.8" r="2.5" fill="#222"/>
<path d="M1152.8 414.6 L1385.0 321.7" fill="none" stroke="#111" stroke-width="2.00"/>
<path d="M1169.2 432.9 L1393.2 344.9" fill="none" stroke="#111" stroke-width="2.00"/>
<path d="M1159.6 424.7 L1388.3 332.7" fill="none" stroke="#111" stroke-width="1.38"/>
<path d="M1129.6 425.5 L1155.5 419.2 L1166.5 435.1 L1141.9 441.9 Z" fill="none" stroke="#111" stroke-width="1.75"/>
<path d="M1076.3 443.3 C1082.2 440.1 1099.5 431.0 1111.8 424.2 C1124.1 417.3 1141.0 409.1 1150.1 402.3 C1159.2 395.5 1159.2 389.6 1166.5 383.2 C1173.7 376.8 1183.3 369.5 1193.8 364.1 C1204.3 358.6 1220.2 353.6 1229.3 350.4 C1238.4 347.2 1241.6 347.4 1248.4 344.9 C1255.2 342.4 1262.1 339.3 1270.3 335.4 C1278.5 331.5 1289.4 325.8 1297.6 321.7 C1305.8 317.6 1315.8 312.6 1319.4 310.8" fill="none" stroke="#111" stroke-width="2.00"/>
<path d="M1084.5 448.7 C1091.8 445.6 1119.1 434.7 1128.2 430.2 C1137.3 425.6 1137.3 422.9 1139.1 421.4" fill="none" stroke="#111" stroke-width="1.62"/>
<path d="M1180.1 405.0 C1184.7 401.4 1196.1 388.6 1207.4 383.2 C1218.8 377.7 1237.9 375.0 1248.4 372.3 C1258.9 369.5 1263.0 370.0 1270.3 366.8 C1277.5 363.6 1282.1 359.7 1292.1 353.1 C1302.1 346.5 1324.0 331.5 1330.4 327.2" fill="none" stroke="#111" stroke-width="1.75"/>
<path d="M1188.3 399.6 C1192.0 397.8 1200.2 392.3 1210.2 388.6 C1220.2 385.0 1237.5 380.7 1248.4 377.7 C1259.3 374.8 1267.5 374.5 1275.7 370.9 C1283.9 367.3 1293.9 358.4 1297.6 355.9" fill="none" stroke="#111" stroke-width="1.38"/>
<path d="M1150.1 402.3 C1152.8 401.4 1161.9 396.4 1166.5 396.8 C1171.0 397.3 1175.6 403.7 1177.4 405.0" fill="none" stroke="#111" stroke-width="1.50"/>
<path d="M1248.4 344.9 C1249.3 346.8 1253.0 351.5 1253.9 355.9 C1254.8 360.2 1253.9 368.4 1253.9 370.9" fill="none" stroke="#111" stroke-width="1.50"/>
<path d="M1273.0 338.1 C1274.1 339.3 1278.5 341.8 1279.8 344.9 C1281.2 348.1 1281.0 355.2 1281.2 357.2" fill="none" stroke="#111" stroke-width="1.50"/>
<path d="M1319.4 310.8 L1354.9 305.3 L1412.3 305.3" fill="none" stroke="#111" stroke-width="2.00"/>
<path d="M1324.9 324.5 L1385.0 321.7" fill="none" stroke="#111" stroke-width="2.00"/>
<path d="M1319.4 310.8 C1319.7 311.9 1319.9 315.4 1320.8 317.6 C1321.7 319.9 1324.2 323.3 1324.9 324.5" fill="none" stroke="#111" stroke-width="1.50"/>
<path d="M1289.4 316.3 L1290.7 298.5 L1297.6 291.7 L1305.8 295.8 L1309.9 310.8" fill="none" stroke="#111" stroke-width="2.00"/>
<circle cx="1298.1" cy="304.0" r="2.5" fill="#222"/>
<path d="M1397.3 317.6 L1409.6 313.5 L1442.3 361.3 L1438.2 370.9 L1428.7 368.2 L1398.6 331.3 Z" fill="none" stroke="#111" stroke-width="2.00"/>
<path d="M1415.0 309.4 L1438.2 295.8 L1446.4 304.0 L1472.4 344.9 L1469.7 354.5 L1460.1 355.9 L1428.7 325.8 Z" fill="none" stroke="#111" stroke-width="2.00"/>
<path d="M1420.5 317.6 L1431.4 313.5 L1436.9 321.7 L1428.7 326.4 Z" fill="none" stroke="#111" stroke-width="1.50"/>
<path d="M1441.0 327.2 L1453.3 339.5 L1450.5 342.2 L1439.6 331.3 Z" fill="none" stroke="#111" stroke-width="1.50"/>
<path d="M1412.3 340.8 L1424.6 355.9 L1421.9 358.1 L1410.9 344.9 Z" fill="none" stroke="#111" stroke-width="1.50"/>
<circle cx="1412.3" cy="328.6" r="2.5" fill="#222"/>
<circle cx="1432.8" cy="361.3" r="2.5" fill="#222"/>
<circle cx="1441.0" cy="311.6" r="2.5" fill="#222"/>
<circle cx="1462.8" cy="344.9" r="2.5" fill="#222"/>
<path d="M1385.0 321.7 C1385.2 323.8 1385.0 330.1 1386.3 334.0 C1387.7 337.9 1392.0 343.1 1393.2 344.9" fill="none" stroke="#111" stroke-width="1.62"/>
<path d="M1288.0 390.0 L1308.5 416.0 L1357.7 459.7 L1360.4 492.4 L1393.2 508.8 L1397.3 503.4 L1394.5 484.3 L1379.5 437.8 L1368.6 405.0 L1354.9 364.1" fill="none" stroke="#111" stroke-width="2.00"/>
<path d="M1308.5 416.0 L1314.0 426.9 L1354.9 465.1" fill="none" stroke="#111" stroke-width="1.50"/>
<path d="M1330.4 372.3 L1319.4 380.5 L1335.8 416.0 L1352.2 454.2" fill="none" stroke="#111" stroke-width="1.62"/>
<path d="M1335.8 388.6 L1348.1 372.3 L1354.9 399.6 L1348.1 424.2 L1338.5 407.8 Z" fill="none" stroke="#111" stroke-width="1.75"/>
<path d="M1339.9 369.5 L1352.2 416.0 L1371.3 437.8 L1387.7 476.1" fill="none" stroke="#111" stroke-width="1.50"/>
<path d="M1324.9 331.3 L1335.8 372.3" fill="none" stroke="#111" stroke-width="1.50"/>
<path d="M1341.3 328.6 L1349.5 366.8" fill="none" stroke="#111" stroke-width="1.50"/>
<path d="M1354.9 426.9 L1371.3 424.2 L1374.1 437.8 L1360.4 443.3 Z" fill="none" stroke="#111" stroke-width="1.62"/>
<circle cx="1372.7" cy="486.4" r="2.5" fill="#222"/>
<circle cx="1385.0" cy="489.7" r="2.5" fill="#222"/>
<path d="M1357.7 459.7 L1376.8 454.2" fill="none" stroke="#111" stroke-width="1.38"/>
<path d="M1360.4 478.8 L1376.8 477.4" fill="none" stroke="#111" stroke-width="1.38"/>
<path d="M1395.8 353.0 L1399.9 344.8 L1406.7 343.5 L1411.7 347.6 L1409.5 359.9 L1404.0 372.2 L1380.8 437.7 L1378.9 451.4 L1384.3 459.6 L1382.2 469.1 L1364.4 481.4 L1357.6 495.1 L1334.4 563.4 L1328.9 578.4 L1322.1 581.7 L1316.6 577.0 L1319.3 563.4 L1338.5 497.8 L1349.4 470.5 L1357.6 454.1 L1365.8 421.3 L1390.4 364.0 Z" fill="none" stroke="#111" stroke-width="2.00"/>
<path d="M1400.7 368.1 L1374.0 437.7 L1371.2 454.1 L1360.3 473.2 L1349.4 497.8 L1328.9 560.6" fill="none" stroke="#111" stroke-width="1.50"/>
<path d="M1393.1 369.4 L1368.5 429.5 L1361.7 456.8 L1352.1 473.2 L1342.6 497.8 L1323.4 563.4" fill="none" stroke="#111" stroke-width="1.50"/>
<circle cx="1405.4" cy="353.0" r="2.2" fill="#222"/>
<circle cx="1378.1" cy="465.0" r="2.2" fill="#222"/>
<circle cx="1324.8" cy="574.3" r="2.2" fill="#222"/>
<path d="M1390.4 366.7 L1404.0 370.8" fill="none" stroke="#111" stroke-width="1.50"/>
<path d="M1320.7 562.0 L1334.4 564.7" fill="none" stroke="#111" stroke-width="1.50"/>
<path d="M1446.4 325.7 L1451.8 316.2 L1460.0 314.8 L1496.9 344.8 L1507.8 364.0 L1507.8 369.4 L1529.7 388.5 L1558.3 436.3 L1555.6 447.3 L1547.4 450.0 L1540.6 443.2 L1524.2 418.6 L1518.7 407.7 L1505.1 399.5 L1491.4 406.3 L1484.6 399.5 L1487.3 388.5 L1491.4 374.9 L1486.0 366.7 L1447.7 331.2 Z" fill="none" stroke="#111" stroke-width="2.00"/>
<path d="M1461.4 328.5 L1491.4 353.0 L1499.6 372.2 L1521.5 391.3 L1548.8 437.7" fill="none" stroke="#111" stroke-width="1.50"/>
<path d="M1466.8 325.7 L1498.3 351.7 L1503.7 369.4 L1526.9 391.3 L1552.9 435.0" fill="none" stroke="#111" stroke-width="1.50"/>
<circle cx="1455.4" cy="323.5" r="2.4" fill="#222"/>
<circle cx="1495.5" cy="398.1" r="2.4" fill="#222"/>
<circle cx="1552.9" cy="441.8" r="2.4" fill="#222"/>
<path d="M1404.0 477.3 L1524.2 409.0" fill="none" stroke="#111" stroke-width="2.12"/>
<path d="M1410.8 488.2 L1531.0 420.0" fill="none" stroke="#111" stroke-width="2.12"/>
<ellipse cx="1407.3" cy="482.8" rx="4.4" ry="6.0" transform="rotate(30.0 1407.3 482.8)" fill="none" stroke="#111" stroke-width="2.00"/>
<ellipse cx="1527.8" cy="414.5" rx="3.3" ry="5.5" transform="rotate(30.0 1527.8 414.5)" fill="none" stroke="#111" stroke-width="1.75"/>
<path d="M1424.5 467.8 L1430.0 477.3" fill="none" stroke="#111" stroke-width="1.38"/>
<path d="M1466.8 454.1 L1513.3 428.2" fill="none" stroke="#111" stroke-width="1.25"/>
<path d="M1435.2 447.7 C1436.9 438.2 1441.9 403.9 1445.6 390.9 C1449.4 378.0 1452.1 375.2 1457.6 370.0 C1463.1 364.8 1470.5 361.3 1478.5 359.6 C1486.5 357.8 1491.5 357.8 1505.4 359.6 C1519.3 361.3 1548.7 366.8 1562.2 370.0 C1575.6 373.2 1576.6 372.7 1586.1 379.0 C1595.5 385.2 1613.5 402.6 1618.9 407.4" fill="none" stroke="#111" stroke-width="2.12"/>
<path d="M1618.9 407.4 L1849.0 650.6 L1896.8 692.4 L1911.7 710.3 L1923.7 722.3" fill="none" stroke="#111" stroke-width="2.12"/>
<path d="M1451.6 450.7 C1453.4 441.2 1458.8 405.6 1462.1 393.9 C1465.3 382.2 1467.3 383.7 1471.0 380.5 C1474.8 377.2 1478.3 375.5 1484.5 374.5 C1490.7 373.5 1494.4 372.4 1508.4 374.5 C1522.3 376.6 1555.2 383.5 1568.1 387.3 C1581.1 391.2 1581.1 393.9 1586.1 397.5 C1591.0 401.1 1596.0 407.0 1598.0 408.9" fill="none" stroke="#111" stroke-width="2.12"/>
<path d="M1598.0 408.9 L1834.1 650.6 L1886.3 695.4 L1896.8 719.3 L1911.7 734.2 L1923.7 722.3" fill="none" stroke="#111" stroke-width="2.12"/>
<path d="M1602.5 411.8 L1837.0 652.4" fill="none" stroke="#111" stroke-width="2.75"/>
<path d="M1435.2 447.7 C1435.0 449.7 1433.3 454.2 1434.3 459.6 C1435.3 465.1 1440.0 477.1 1441.2 480.6" fill="none" stroke="#111" stroke-width="2.12"/>
<path d="M1441.2 480.6 L1535.3 650.6 L1641.3 837.3 L1647.3 859.7 L1659.3 876.1 L1675.7 870.2 L1663.8 844.8 L1657.8 829.8 L1554.7 650.6 L1456.1 474.6" fill="none" stroke="#111" stroke-width="2.12"/>
<path d="M1451.6 450.7 C1451.7 452.7 1451.5 458.6 1452.2 462.6 C1453.0 466.6 1455.5 472.6 1456.1 474.6" fill="none" stroke="#111" stroke-width="1.88"/>
<path d="M1445.6 486.5 L1538.3 653.8 L1639.8 833.1" fill="none" stroke="#111" stroke-width="1.25"/>
<path d="M1642.8 836.1 L1660.8 830.1" fill="none" stroke="#111" stroke-width="1.50"/>
<path d="M1887.8 695.7 L1901.3 686.7" fill="none" stroke="#111" stroke-width="1.50"/>
<path d="M1445.6 390.9 L1462.1 393.9" fill="none" stroke="#111" stroke-width="1.38"/>
<path d="M1435.2 447.7 L1451.6 450.7" fill="none" stroke="#111" stroke-width="1.38"/>
<path d="M1441.2 480.6 L1456.1 474.6" fill="none" stroke="#111" stroke-width="1.38"/>
<path d="M1474.0 362.5 L1477.0 377.5" fill="none" stroke="#111" stroke-width="1.38"/>
<path d="M1505.4 359.6 L1502.4 374.5" fill="none" stroke="#111" stroke-width="1.38"/>
<path d="M1568.1 371.5 L1565.2 386.4" fill="none" stroke="#111" stroke-width="1.38"/>
<path d="M1598.0 389.4 L1590.6 399.9" fill="none" stroke="#111" stroke-width="1.38"/>
<path d="M1441.2 310.3 L1445.6 303.7 L1451.6 307.3 L1459.1 314.7 L1463.6 328.2 L1472.5 326.7 L1505.4 356.6 L1487.5 359.6 L1475.5 358.1 L1466.6 349.1 L1448.6 331.2 Z" fill="none" stroke="#111" stroke-width="2.00"/>
<path d="M1408.3 329.7 L1412.8 322.8 L1418.8 325.2 L1454.6 376.0 L1454.6 387.9 L1444.2 396.9 L1439.7 399.9 L1429.2 384.9 L1403.8 365.5 L1396.3 352.1 L1406.8 343.1 Z" fill="none" stroke="#111" stroke-width="2.00"/>
<circle cx="1446.5" cy="311.2" r="2.4" fill="#222"/>
<circle cx="1413.4" cy="329.7" r="2.4" fill="#222"/>
<circle cx="1468.1" cy="344.6" r="2.4" fill="#222"/>
<circle cx="1435.2" cy="362.5" r="2.4" fill="#222"/>
<circle cx="1409.8" cy="355.7" r="3.9" fill="#fff" stroke="#111" stroke-width="2.00"/>
<circle cx="1409.8" cy="355.7" r="2.1" fill="#555" stroke="#111" stroke-width="1.50"/>
<path d="M1418.8 340.1 L1445.6 382.0" fill="none" stroke="#111" stroke-width="1.38"/>
<path d="M1463.6 328.2 L1484.5 359.6" fill="none" stroke="#111" stroke-width="1.38"/>
<path d="M1403.8 365.5 L1418.8 352.1 L1439.7 382.0" fill="none" stroke="#111" stroke-width="1.38"/>
<path d="M1563.7 370.0 L1587.6 347.6 L1604.0 353.6 L1618.9 376.0 L1626.4 396.9 L1621.9 405.9 L1614.5 407.4 L1610.0 396.9 L1589.1 379.0" fill="none" stroke="#111" stroke-width="2.00"/>
<path d="M1587.6 347.6 L1590.6 382.0" fill="none" stroke="#111" stroke-width="1.62"/>
<path d="M1595.0 355.1 C1597.5 357.6 1606.0 364.0 1610.0 370.0 C1614.0 376.0 1617.9 385.4 1618.9 390.9 C1619.9 396.4 1616.4 400.9 1615.9 402.9" fill="none" stroke="#111" stroke-width="1.50"/>
<path d="M1598.0 364.0 C1599.0 366.0 1603.2 372.5 1604.0 376.0 C1604.7 379.5 1601.0 382.0 1602.5 384.9 C1604.0 387.9 1611.2 392.4 1613.0 393.9" fill="none" stroke="#111" stroke-width="1.50"/>
<circle cx="1580.1" cy="367.9" r="2.4" fill="#222"/>
<path d="M1636.9 425.3 L1659.3 393.9 L1677.2 405.9 L1675.7 413.3 L1656.3 444.7 Z" fill="none" stroke="#111" stroke-width="2.00"/>
<path d="M1659.3 404.4 L1671.2 411.8 L1668.2 416.3 L1656.3 408.9 Z" fill="none" stroke="#111" stroke-width="1.50"/>
<path d="M1641.3 426.8 L1661.4 398.4" fill="none" stroke="#111" stroke-width="1.38"/>
<path d="M1403.8 541.8 L1465.1 525.4 L1478.5 544.8 L1477.0 549.3 L1412.8 567.2 L1408.3 564.2 Z" fill="none" stroke="#111" stroke-width="2.00"/>
<path d="M1415.8 544.8 L1429.2 541.8 L1432.2 553.8 L1418.8 556.7 Z" fill="none" stroke="#111" stroke-width="1.50"/>
<path d="M1406.8 546.3 L1466.6 530.8" fill="none" stroke="#111" stroke-width="1.38"/>
<path d="M1411.3 562.7 L1475.5 546.3" fill="none" stroke="#111" stroke-width="1.38"/>
<path d="M1448.6 453.7 L1457.6 465.6 L1465.1 471.6 L1472.5 465.0 L1474.0 470.1 L1466.6 486.5 L1460.6 483.5" fill="none" stroke="#111" stroke-width="1.88"/>
<ellipse cx="1454.0" cy="461.1" rx="4.5" ry="9.0" transform="rotate(-25.0 1454.0 461.1)" fill="none" stroke="#111" stroke-width="1.62"/>
<path d="M1254.0 979.0 L1267.7 955.3 L1269.1 933.4 L1275.9 897.9 L1296.4 903.4 L1346.9 835.1 L1349.6 821.4 L1364.7 814.6 L1374.2 837.8 L1374.2 850.1 L1366.0 867.9 L1326.4 892.4 L1326.4 947.1 L1319.6 955.3 L1273.2 979.0" fill="none" stroke="#111" stroke-width="2.00"/>
<path d="M1329.2 862.4 L1374.2 839.2" fill="none" stroke="#111" stroke-width="1.50"/>
<path d="M1296.4 903.4 L1366.0 867.9" fill="none" stroke="#111" stroke-width="2.75"/>
<path d="M1275.9 897.9 L1314.1 873.3 L1319.6 865.1 L1322.3 872.0" fill="none" stroke="#111" stroke-width="1.50"/>
<path d="M1296.4 903.4 L1289.5 933.4 L1278.6 960.7 L1267.7 979.0" fill="none" stroke="#111" stroke-width="1.75"/>
<path d="M1284.1 903.4 L1278.6 938.9" fill="none" stroke="#111" stroke-width="1.38"/>
<ellipse cx="1308.1" cy="933.4" rx="7.6" ry="10.4" transform="rotate(20.0 1308.1 933.4)" fill="none" stroke="#111" stroke-width="2.00"/>
<ellipse cx="1308.1" cy="933.4" rx="5.5" ry="8.2" transform="rotate(20.0 1308.1 933.4)" fill="none" stroke="#111" stroke-width="1.38"/>
<circle cx="1363.8" cy="822.8" r="2.5" fill="#222"/>
<circle cx="1360.6" cy="856.9" r="2.5" fill="#222"/>
<circle cx="1330.5" cy="874.7" r="2.5" fill="#222"/>
<circle cx="1349.6" cy="867.9" r="2.5" fill="#222"/>
<circle cx="1278.6" cy="914.3" r="2.5" fill="#222"/>
<circle cx="1274.5" cy="938.9" r="2.5" fill="#222"/>
<path d="M1248.8 985.6 L1261.1 961.0 L1276.2 955.5 L1280.3 958.3 L1270.7 977.4 Z" fill="none" stroke="#111" stroke-width="2.00"/>
<path d="M2725.0 103.0 L2725.0 783.0" fill="none" stroke="#333" stroke-width="2.00"/>
<path d="M2997.5 103.0 L2997.5 783.0" fill="none" stroke="#666" stroke-width="1.50" stroke-dasharray="1.5 2"/>
<path d="M226.7 173.4 L286.8 219.3" fill="none" stroke="#222" stroke-width="1.38"/>
<path d="M148.9 246.1 L112.0 327.2" fill="none" stroke="#222" stroke-width="1.38"/>
<path d="M95.1 274.5 L76.5 317.6" fill="none" stroke="#222" stroke-width="1.38"/>
<path d="M320.1 357.2 L296.4 398.2" fill="none" stroke="#222" stroke-width="1.38"/>
<path d="M79.2 323.9 L128.4 340.9" fill="none" stroke="#222" stroke-width="1.38" stroke-dasharray="14 4 3 4"/>
<path d="M249.1 387.3 L286.8 399.6" fill="none" stroke="#222" stroke-width="1.38" stroke-dasharray="14 4 3 4"/>
<path d="M61.5 456.4 L97.0 433.7" fill="none" stroke="#222" stroke-width="1.38" stroke-dasharray="14 4 3 4"/>
<path d="M57.4 467.9 L58.2 487.0" fill="none" stroke="#222" stroke-width="1.38" stroke-dasharray="14 4 3 4"/>
<path d="M100.5 469.2 L98.3 506.1" fill="none" stroke="#222" stroke-width="1.38" stroke-dasharray="14 4 3 4"/>
<path d="M137.9 447.4 L142.0 485.6" fill="none" stroke="#222" stroke-width="1.38" stroke-dasharray="14 4 3 4"/>
<path d="M191.2 501.5 L212.5 511.6" fill="none" stroke="#222" stroke-width="1.38"/>
<path d="M125.6 758.2 L174.8 726.8" fill="none" stroke="#222" stroke-width="1.38"/>
<path d="M98.3 508.3 L95.6 549.3" fill="none" stroke="#222" stroke-width="1.38" stroke-dasharray="14 4 3 4"/>
<path d="M723.4 171.5 L767.1 217.9" fill="none" stroke="#222" stroke-width="1.38"/>
<path d="M1075.8 234.3 L1108.5 287.6" fill="none" stroke="#222" stroke-width="1.38"/>
<path d="M835.4 429.6 L862.7 482.9" fill="none" stroke="#222" stroke-width="1.38"/>
<path d="M1189.1 125.9 L1220.0 130.5" fill="none" stroke="#222" stroke-width="1.38" stroke-dasharray="14 4 3 4"/>
<circle cx="759.7" cy="289.8" r="6.8" fill="#000"/>
<path d="M713.0 608.9 L741.6 643.6" fill="none" stroke="#222" stroke-width="1.38"/>
<path d="M819.5 731.0 L861.8 759.1" fill="none" stroke="#222" stroke-width="1.38"/>
<circle cx="873.6" cy="501.0" r="6.6" fill="#000"/>
<path d="M879.6 507.0 L1080.3 642.8" fill="none" stroke="#222" stroke-width="1.38" stroke-dasharray="14 4 3 4"/>
<path d="M741.6 643.6 L812.7 642.8" fill="none" stroke="#222" stroke-width="1.25"/>
<path d="M740.3 651.8 L805.8 651.2" fill="none" stroke="#222" stroke-width="1.25"/>
<circle cx="800.9" cy="662.2" r="6.6" fill="#000"/>
<path d="M807.2 664.1 L1018.9 701.0" fill="none" stroke="#222" stroke-width="1.38" stroke-dasharray="14 4 3 4"/>
<circle cx="902.8" cy="786.4" r="6.6" fill="#000"/>
<path d="M909.6 787.0 L1169.1 793.0" fill="none" stroke="#222" stroke-width="1.38" stroke-dasharray="14 4 3 4"/>
<path d="M734.8 941.7 L778.5 924.0" fill="none" stroke="#222" stroke-width="1.38"/>
<path d="M1039.4 914.4 L991.6 963.6" fill="none" stroke="#222" stroke-width="1.38"/>
<path d="M887.8 981.3 L920.6 983.3" fill="none" stroke="#222" stroke-width="1.38" stroke-dasharray="14 4 3 4"/>
<path d="M641.9 1016.9 L685.6 1014.1" fill="none" stroke="#222" stroke-width="1.38" stroke-dasharray="14 4 3 4"/>
<path d="M792.2 1052.4 L864.6 1078.3" fill="none" stroke="#222" stroke-width="1.38"/>
<circle cx="797.6" cy="885.2" r="6.8" fill="#000"/>
<path d="M923.3 909.0 L1200.0 963.6" fill="none" stroke="#222" stroke-width="1.38" stroke-dasharray="14 4 3 4"/>
<path d="M641.9 1041.4 L618.7 1068.8" fill="none" stroke="#222" stroke-width="1.38" stroke-dasharray="14 4 3 4"/>
<circle cx="896.5" cy="1056.5" r="6.8" fill="#000"/>
<path d="M926.0 1045.5 L1021.6 1010.0 L1200.0 944.5" fill="none" stroke="#222" stroke-width="1.38" stroke-dasharray="14 4 3 4"/>
<path d="M511.1 1008.9 L550.7 1019.8" fill="none" stroke="#222" stroke-width="1.38" stroke-dasharray="14 4 3 4"/>
<path d="M460.6 1121.4 L490.6 1142.7" fill="none" stroke="#222" stroke-width="1.38"/>
<path d="M806.1 1138.6 L884.0 1208.3" fill="none" stroke="#222" stroke-width="1.38"/>
<path d="M896.3 1144.1 L938.6 1129.1" fill="none" stroke="#222" stroke-width="1.38"/>
<path d="M971.4 1200.1 L983.7 1208.3" fill="none" stroke="#222" stroke-width="1.38"/>
<path d="M609.4 1284.7 L642.2 1276.6" fill="none" stroke="#222" stroke-width="1.38" stroke-dasharray="14 4 3 4"/>
<path d="M893.5 1212.4 L959.1 1198.7" fill="none" stroke="#222" stroke-width="1.38" stroke-dasharray="14 4 3 4"/>
<path d="M383.1 1277.8 L454.8 1330.7" fill="none" stroke="#222" stroke-width="1.38"/>
<path d="M608.5 1286.3 L642.6 1276.1" fill="none" stroke="#222" stroke-width="1.38" stroke-dasharray="14 4 3 4"/>
<path d="M145.8 1421.2 L198.8 1475.8" fill="none" stroke="#222" stroke-width="1.38"/>
<path d="M294.4 1455.3 L338.7 1508.2" fill="none" stroke="#222" stroke-width="1.38"/>
<path d="M128.1 1470.7 L139.0 1504.8" fill="none" stroke="#222" stroke-width="1.38"/>
<path d="M127.1 1565.6 L183.4 1600.4" fill="none" stroke="#222" stroke-width="1.38"/>
<path d="M578.8 1301.7 L578.8 1508.2" fill="none" stroke="#222" stroke-width="1.38" stroke-dasharray="14 4 3 4"/>
<path d="M593.1 1607.3 L593.8 1685.8" fill="none" stroke="#222" stroke-width="1.38" stroke-dasharray="14 4 3 4"/>
<path d="M518.0 1412.6 L593.1 1370.0" fill="none" stroke="#222" stroke-width="1.38" stroke-dasharray="14 4 3 4"/>
<path d="M149.3 1513.4 L202.2 1530.4" fill="none" stroke="#222" stroke-width="1.38" stroke-dasharray="14 4 3 4"/>
<path d="M198.8 1597.0 L226.1 1581.6" fill="none" stroke="#222" stroke-width="1.38" stroke-dasharray="14 4 3 4"/>
<path d="M265.3 1567.0 L480.4 1447.5" fill="none" stroke="#222" stroke-width="1.25" stroke-dasharray="18 5"/>
<path d="M384.8 1819.5 L495.8 1803.1" fill="none" stroke="#222" stroke-width="1.38" stroke-dasharray="14 4 3 4"/>
<path d="M531.6 1778.5 L591.4 1701.7" fill="none" stroke="#222" stroke-width="1.38"/>
<path d="M372.9 1703.4 L378.0 1812.6" fill="none" stroke="#222" stroke-width="1.38" stroke-dasharray="14 4 3 4"/>
<path d="M593.1 1606.1 L593.1 1689.7" fill="none" stroke="#222" stroke-width="1.38" stroke-dasharray="14 4 3 4"/>
<path d="M1188.3 125.6 L1225.2 131.6" fill="none" stroke="#222" stroke-width="1.38" stroke-dasharray="14 4 3 4"/>
<path d="M1354.9 125.6 L1315.3 157.0" fill="none" stroke="#222" stroke-width="1.38"/>
<path d="M1499.7 118.7 L1542.0 139.2" fill="none" stroke="#222" stroke-width="1.38"/>
<path d="M1576.2 95.0 L1659.5 101.5" fill="none" stroke="#222" stroke-width="1.38" stroke-dasharray="14 4 3 4"/>
<path d="M1419.1 193.8 L1465.5 209.7" fill="none" stroke="#222" stroke-width="1.38"/>
<path d="M1630.8 208.9 L1603.5 241.6" fill="none" stroke="#222" stroke-width="1.38"/>
<path d="M1291.5 177.5 L1291.5 458.8" fill="none" stroke="#222" stroke-width="1.38" stroke-dasharray="14 4 3 4"/>
<path d="M1805.2 157.0 L1843.4 184.3" fill="none" stroke="#222" stroke-width="1.38"/>
<path d="M1898.9 151.5 L1902.1 208.9" fill="none" stroke="#222" stroke-width="1.38"/>
<path d="M2025.0 177.5 L1969.1 200.7" fill="none" stroke="#222" stroke-width="1.38" stroke-dasharray="14 4 3 4"/>
<path d="M1757.4 253.9 L1801.1 290.8" fill="none" stroke="#222" stroke-width="1.38"/>
<path d="M2070.9 262.7 L2053.7 297.6" fill="none" stroke="#222" stroke-width="1.38" stroke-dasharray="14 4 3 4"/>
<path d="M1973.1 322.8 L1932.2 304.5" fill="none" stroke="#222" stroke-width="1.38"/>
<path d="M1895.3 371.4 L1822.9 369.2" fill="none" stroke="#222" stroke-width="1.38" stroke-dasharray="14 4 3 4"/>
<path d="M1731.4 376.9 L1761.5 405.5" fill="none" stroke="#222" stroke-width="1.38"/>
<path d="M1902.1 423.8 L1828.4 434.8" fill="none" stroke="#222" stroke-width="1.38" stroke-dasharray="14 4 3 4"/>
<path d="M1810.6 296.3 L1820.2 300.4" fill="none" stroke="#222" stroke-width="1.38" stroke-dasharray="14 4 3 4"/>
<path d="M1853.0 316.8 L1870.7 325.0" fill="none" stroke="#222" stroke-width="1.38" stroke-dasharray="14 4 3 4"/>
<path d="M1913.1 252.6 L1924.0 245.7 L1975.9 266.2" fill="none" stroke="#222" stroke-width="1.38" stroke-dasharray="14 4 3 4"/>
<path d="M2025.0 292.2 L2046.9 301.7" fill="none" stroke="#222" stroke-width="1.38" stroke-dasharray="14 4 3 4"/>
<path d="M1781.9 415.1 L1790.1 417.8" fill="none" stroke="#222" stroke-width="1.38" stroke-dasharray="14 4 3 4"/>
<path d="M1798.3 423.3 L1816.1 431.5" fill="none" stroke="#222" stroke-width="1.38" stroke-dasharray="14 4 3 4"/>
<path d="M2342.3 481.4 L2394.6 460.8" fill="none" stroke="#222" stroke-width="1.38"/>
<path d="M2662.0 620.7 L2633.6 651.2" fill="none" stroke="#222" stroke-width="1.38"/>
<path d="M2230.3 710.5 L2212.4 731.5" fill="none" stroke="#222" stroke-width="1.38"/>
<path d="M2500.7 700.1 L2544.0 710.5" fill="none" stroke="#222" stroke-width="1.38" stroke-dasharray="14 4 3 4"/>
<path d="M2572.4 778.4 L2545.5 757.8" fill="none" stroke="#222" stroke-width="1.38"/>
<path d="M2373.7 863.5 L2420.0 865.9" fill="none" stroke="#222" stroke-width="1.38" stroke-dasharray="14 4 3 4"/>
<path d="M2440.9 930.7 L2493.2 932.5" fill="none" stroke="#222" stroke-width="1.38" stroke-dasharray="14 4 3 4"/>
<path d="M2438.8 931.6 L2439.4 1010.8" fill="none" stroke="#222" stroke-width="1.38" stroke-dasharray="14 4 3 4"/>
<path d="M2376.7 800.2 L2324.4 862.9" fill="none" stroke="#222" stroke-width="1.38" stroke-dasharray="14 4 3 4"/>
<path d="M2612.7 680.7 L2579.9 712.0" fill="none" stroke="#222" stroke-width="1.38" stroke-dasharray="14 4 3 4"/>
<path d="M2561.9 737.4 L2547.0 752.4" fill="none" stroke="#222" stroke-width="1.38" stroke-dasharray="14 4 3 4"/>
<path d="M1175.9 291.9 L1293.3 376.6" fill="none" stroke="#222" stroke-width="1.38" stroke-dasharray="14 4 3 4"/>
<path d="M900.0 518.6 L1063.9 636.1" fill="none" stroke="#222" stroke-width="1.38" stroke-dasharray="14 4 3 4"/>
<path d="M1167.3 678.0 L1382.4 558.5" fill="none" stroke="#222" stroke-width="1.25" stroke-dasharray="18 5"/>
<path d="M1824.1 908.4 L1815.4 966.5" fill="none" stroke="#222" stroke-width="1.38" stroke-dasharray="14 4 3 4"/>
<path d="M2828.0 1050.0 L2755.4 1260.5" fill="none" stroke="#222" stroke-width="1.12" stroke-dasharray="14 4 3 4"/>
<path d="M1920.6 1327.3 L1967.8 1335.3" fill="none" stroke="#222" stroke-width="1.38"/>
<path d="M1619.4 1521.8 L1635.4 1555.9" fill="none" stroke="#222" stroke-width="1.38"/>
<path d="M1750.1 1610.4 L1837.2 1558.1" fill="none" stroke="#222" stroke-width="1.38"/>
<path d="M2417.9 1532.7 L2392.5 1510.9" fill="none" stroke="#222" stroke-width="1.38"/>
<path d="M2748.2 1521.8 L2711.9 1483.3" fill="none" stroke="#222" stroke-width="1.38"/>
<path d="M2200.1 850.4 L2820.8 1153.1" fill="none" stroke="#111" stroke-width="2.75" stroke-dasharray="3 2"/>
<path d="M1644.8 1561.7 L1692.0 1569.0" fill="none" stroke="#222" stroke-width="1.38" stroke-dasharray="14 4 3 4"/>
<path d="M1597.3 481.8 L1615.3 520.7" fill="none" stroke="#222" stroke-width="1.38"/>
<path d="M1636.2 541.6 L1667.6 551.1" fill="none" stroke="#222" stroke-width="1.38"/>
<path d="M2057.5 575.9 L2020.1 602.2" fill="none" stroke="#222" stroke-width="1.38"/>
<circle cx="1958.9" cy="587.3" r="7.2" fill="#000"/>
<path d="M1960.4 595.4 L1967.8 756.7" fill="none" stroke="#222" stroke-width="1.38" stroke-dasharray="14 4 3 4"/>
<circle cx="1968.4" cy="762.1" r="7.2" fill="#000"/>
<circle cx="2088.2" cy="818.0" r="7.2" fill="#000"/>
<path d="M2088.8 825.4 L2088.8 989.7" fill="none" stroke="#222" stroke-width="1.38" stroke-dasharray="14 4 3 4"/>
<circle cx="2088.8" cy="997.2" r="6.6" fill="#000"/>
<path d="M1607.0 602.0 L1654.0 603.0" fill="none" stroke="#111" stroke-width="2.75" stroke-dasharray="2 2"/>
<circle cx="1634.7" cy="646.2" r="6.6" fill="#000"/>
<path d="M1586.9 607.3 L1628.7 643.2" fill="none" stroke="#222" stroke-width="1.38" stroke-dasharray="14 4 3 4"/>
<path d="M1064.2 1104.7 L1165.8 1062.8" fill="none" stroke="#222" stroke-width="1.12"/>
<circle cx="1271.0" cy="1102.3" r="6.6" fill="#000"/>
<path d="M1277.9 1097.2 L1413.8 1019.5" fill="none" stroke="#222" stroke-width="1.38" stroke-dasharray="14 4 3 4"/>
<circle cx="1414.4" cy="1019.5" r="6.6" fill="#000"/>
<circle cx="1373.5" cy="996.2" r="6.0" fill="#000"/>
<path d="M1000.0 1018.0 L1248.0 926.9" fill="none" stroke="#222" stroke-width="1.38" stroke-dasharray="14 4 3 4"/>
<path d="M1000.0 925.4 L1370.5 995.6" fill="none" stroke="#222" stroke-width="1.38" stroke-dasharray="14 4 3 4"/>
<path d="M1433.2 1088.8 L1902.3 1260.3" fill="none" stroke="#111" stroke-width="3.00" stroke-dasharray="3 2"/>
<path d="M1166.5 1521.1 L1147.3 1549.1" fill="none" stroke="#222" stroke-width="1.38"/>
<path d="M2535.7 1931.7 L2641.3 1877.7" fill="none" stroke="#111" stroke-width="5.00" stroke-dasharray="2 2"/>
<circle cx="2639.1" cy="1301.1" r="7.2" fill="#000"/>
<path d="M2646.6 1307.1 L2770.6 1375.8" fill="none" stroke="#222" stroke-width="1.38" stroke-dasharray="14 4 3 4"/>
<circle cx="2777.1" cy="1380.3" r="6.6" fill="#000"/>
<circle cx="1301.0" cy="907.5" r="6.8" fill="#000"/>
<path d="M772.0 298.0 L1238.0 565.0" fill="none" stroke="#222" stroke-width="1.38" stroke-dasharray="14 4 3 4"/>
<circle cx="1240.0" cy="566.5" r="6.5" fill="#000"/>
<circle cx="1394.4" cy="768.1" r="6.5" fill="#000"/>
<circle cx="1408.0" cy="802.2" r="6.5" fill="#000"/>
<circle cx="1332.4" cy="820.0" r="6.5" fill="#000"/>
<circle cx="1301.0" cy="907.4" r="6.5" fill="#000"/>
<text x="42.6" y="138.7" font-size="23.0" text-anchor="start">10</text>
<text x="183.6" y="168.8" font-size="22.3" text-anchor="start">700</text>
<text x="139.3" y="239.8" font-size="22.3" text-anchor="start">740</text>
<text x="83.3" y="268.5" font-size="22.3" text-anchor="start">330</text>
<text x="311.4" y="351.8" font-size="22.3" text-anchor="start">340</text>
<text x="41.0" y="521.1" font-size="22.3" text-anchor="start">710</text>
<text x="120.2" y="519.8" font-size="22.3" text-anchor="start">700b</text>
<text x="120.2" y="544.3" font-size="22.3" text-anchor="start">700c</text>
<text x="120.2" y="568.9" font-size="22.3" text-anchor="start">700d</text>
<text x="217.7" y="538.3" font-size="22.3" text-anchor="start">760</text>
<text x="75.7" y="583.4" font-size="22.3" text-anchor="start">720</text>
<text x="67.5" y="780.9" font-size="22.3" text-anchor="start">300</text>
<text x="67.5" y="805.5" font-size="22.3" text-anchor="start">300a</text>
<text x="686.0" y="166.0" font-size="22.3" text-anchor="start">380</text>
<text x="1041.1" y="228.9" font-size="22.3" text-anchor="start">10an</text>
<text x="797.2" y="423.6" font-size="22.3" text-anchor="start">10am</text>
<text x="1144.1" y="136.0" font-size="22.3" text-anchor="start">370</text>
<text x="676.1" y="602.6" font-size="22.3" text-anchor="start">10aj</text>
<text x="780.7" y="729.6" font-size="22.3" text-anchor="start">10x</text>
<text x="696.0" y="952.7" font-size="22.3" text-anchor="start">10y</text>
<text x="696.0" y="978.1" font-size="22.3" text-anchor="start">10z</text>
<text x="1033.9" y="909.8" font-size="22.3" text-anchor="start">145</text>
<text x="845.4" y="993.6" font-size="22.3" text-anchor="start">150</text>
<text x="692.5" y="1026.4" font-size="22.3" text-anchor="start">510</text>
<text x="751.2" y="1044.7" font-size="22.3" text-anchor="start">130</text>
<text x="751.2" y="1069.6" font-size="22.3" text-anchor="start">140</text>
<text x="466.9" y="1015.7" font-size="22.3" text-anchor="start">500</text>
<text x="416.1" y="1117.3" font-size="22.3" text-anchor="start">511</text>
<text x="766.5" y="1132.6" font-size="22.3" text-anchor="start">150</text>
<text x="945.4" y="1132.6" font-size="22.3" text-anchor="start">155</text>
<text x="991.9" y="1241.6" font-size="22.3" text-anchor="start">145</text>
<text x="342.2" y="1272.7" font-size="22.3" text-anchor="start">10c</text>
<text x="649.4" y="1281.2" font-size="22.3" text-anchor="start">10m</text>
<text x="111.0" y="1415.4" font-size="22.3" text-anchor="start">10d</text>
<text x="261.2" y="1447.8" font-size="22.3" text-anchor="start">10e</text>
<text x="102.5" y="1464.9" font-size="20.0" text-anchor="start">320</text>
<text x="87.1" y="1564.6" font-size="22.3" text-anchor="start">10k</text>
<text x="87.8" y="1913.4" font-size="20.0" text-anchor="start">10a</text>
<text x="53.0" y="1986.8" font-size="23.5" text-anchor="start">30L20020</text>
<text x="502.6" y="1814.4" font-size="22.3" text-anchor="start">10f</text>
<text x="1360.4" y="124.2" font-size="22.3" text-anchor="start">60</text>
<text x="1443.7" y="116.0" font-size="22.3" text-anchor="start">1000</text>
<text x="1664.9" y="104.3" font-size="22.3" text-anchor="start">1010</text>
<text x="1664.9" y="129.7" font-size="22.3" text-anchor="start">1020</text>
<text x="1389.1" y="200.7" font-size="22.3" text-anchor="start">30</text>
<text x="1633.5" y="203.4" font-size="22.3" text-anchor="start">40</text>
<text x="1710.0" y="247.9" font-size="22.3" text-anchor="start">1205</text>
<text x="1755.4" y="151.5" font-size="22.3" text-anchor="start">1120</text>
<text x="1873.4" y="144.7" font-size="22.3" text-anchor="start">1110</text>
<text x="2031.9" y="176.9" font-size="22.3" text-anchor="start">1100</text>
<text x="1865.3" y="286.2" font-size="22.3" text-anchor="start">1210</text>
<text x="2056.5" y="255.8" font-size="22.3" text-anchor="start">1220</text>
<text x="1980.0" y="352.8" font-size="22.3" text-anchor="start">1200</text>
<text x="1903.0" y="385.0" font-size="22.3" text-anchor="start">1100</text>
<text x="1909.0" y="432.0" font-size="22.3" text-anchor="start">1220</text>
<text x="1686.8" y="371.3" font-size="22.3" text-anchor="start">1210</text>
<text x="1572.5" y="475.5" font-size="22.3" text-anchor="start">170</text>
<text x="1673.0" y="573.0" font-size="22.3" text-anchor="start">160</text>
<text x="2297.5" y="506.2" font-size="22.3" text-anchor="start">900</text>
<text x="2659.9" y="615.3" font-size="22.3" text-anchor="start">920</text>
<text x="2065.4" y="572.9" font-size="22.3" text-anchor="start">10u</text>
<text x="2221.3" y="704.6" font-size="22.3" text-anchor="start">10aa</text>
<text x="2446.0" y="705.2" font-size="22.3" text-anchor="start">10ad</text>
<text x="2576.3" y="812.1" font-size="22.3" text-anchor="start">910</text>
<text x="2425.1" y="882.3" font-size="22.3" text-anchor="start">10ac</text>
<text x="2499.2" y="948.1" font-size="22.3" text-anchor="start">10ae</text>
<text x="1800.9" y="904.8" font-size="22.3" text-anchor="start">10ab</text>
<text x="2822.2" y="970.1" font-size="22.3" text-anchor="start">1700</text>
<text x="2822.2" y="994.8" font-size="22.3" text-anchor="start">1720</text>
<text x="2822.2" y="1019.5" font-size="22.3" text-anchor="start">1730</text>
<text x="2822.2" y="1044.2" font-size="22.3" text-anchor="start">1740</text>
<text x="1880.7" y="1336.7" font-size="22.3" text-anchor="start">10s</text>
<text x="1596.2" y="1514.6" font-size="22.3" text-anchor="start">110</text>
<text x="1706.5" y="1661.2" font-size="22.3" text-anchor="start">10p</text>
<text x="2416.4" y="1567.5" font-size="22.3" text-anchor="start">10ar</text>
<text x="2740.9" y="1555.9" font-size="22.3" text-anchor="start">10aq</text>
<text x="1018.5" y="1115.7" font-size="22.3" text-anchor="start">10v</text>
<text x="1018.5" y="1140.5" font-size="22.3" text-anchor="start">10w</text>
<text x="1107.7" y="1582.5" font-size="22.3" text-anchor="start">90</text>
<text x="1110.0" y="1607.5" font-size="22.3" text-anchor="start">100</text>
<text transform="translate(2731.0 130.5) scale(0.885 1)" font-size="22.3">Rivets Utilisés - Rivets used</text>
<text transform="translate(2731.0 180.0) scale(0.885 1)" font-size="22.3">10g - Avex Rivet</text>
<text transform="translate(2731.0 204.7) scale(0.885 1)" font-size="22.3">10h - Hemlock Rivet 6.5 mm</text>
<text transform="translate(2731.0 229.4) scale(0.885 1)" font-size="22.3">10j - Hemlock Rivet, 6.5 mm</text>
<text transform="translate(2731.0 254.1) scale(0.885 1)" font-size="22.3">10n - Rivet Hucklok</text>
<text transform="translate(2731.0 278.8) scale(0.885 1)" font-size="22.3">10as - Rivet Hucklok</text>
<text transform="translate(2731.0 303.4) scale(0.885 1)" font-size="22.3">10at - Avex Rivet</text>
<text transform="translate(2731.0 328.1) scale(0.885 1)" font-size="22.3">10au - Avex Rivet</text>
<text transform="translate(2731.0 352.8) scale(0.885 1)" font-size="22.3">10av - Hemlock Rivet, 6.5 mm</text>
<text transform="translate(2731.0 377.5) scale(0.885 1)" font-size="22.3">10aw - Rivet</text>
<text transform="translate(2731.0 402.2) scale(0.885 1)" font-size="22.3">50 - Pop Rivet 3/16&quot;</text>
<text transform="translate(2731.0 426.9) scale(0.885 1)" font-size="22.3">65 - Hemlock Rivet, 6.5 mm</text>
<text transform="translate(2731.0 451.6) scale(0.885 1)" font-size="22.3">94 - Rivet Hucklok</text>
<text transform="translate(2731.0 476.3) scale(0.885 1)" font-size="22.3">95 - Avex Rivet</text>
<text transform="translate(2731.0 501.0) scale(0.885 1)" font-size="22.3">104 - Rivet Hucklok</text>
<text transform="translate(2731.0 525.7) scale(0.885 1)" font-size="22.3">105 - Avex Rivet</text>
<text transform="translate(2731.0 550.4) scale(0.885 1)" font-size="22.3">170 - Avex Rivet</text>
<text transform="translate(2731.0 575.0) scale(0.885 1)" font-size="22.3">360 - Hemlock Rivet, 6.5 mm</text>
<text transform="translate(2731.0 599.7) scale(0.885 1)" font-size="22.3">390 - Avex Rivet</text>
<text transform="translate(2731.0 624.4) scale(0.885 1)" font-size="22.3">400 - Rivet Hucklok</text>
<text transform="translate(2731.0 649.1) scale(0.885 1)" font-size="22.3">410 - Hemlock Rivet, 6.5 mm</text>
<text transform="translate(2731.0 673.8) scale(0.885 1)" font-size="22.3">415 - Rivet</text>
<text transform="translate(2731.0 698.5) scale(0.885 1)" font-size="22.3">420 - Avex Rivet</text>
<text transform="translate(2731.0 723.2) scale(0.885 1)" font-size="22.3">790 - Avex Rivet</text>
<text transform="translate(2731.0 747.9) scale(0.885 1)" font-size="22.3">1730 - Rivet</text>
<text transform="translate(2731.0 772.6) scale(0.885 1)" font-size="22.3">1740 - Avex Rivet</text>
</svg></body></html>
